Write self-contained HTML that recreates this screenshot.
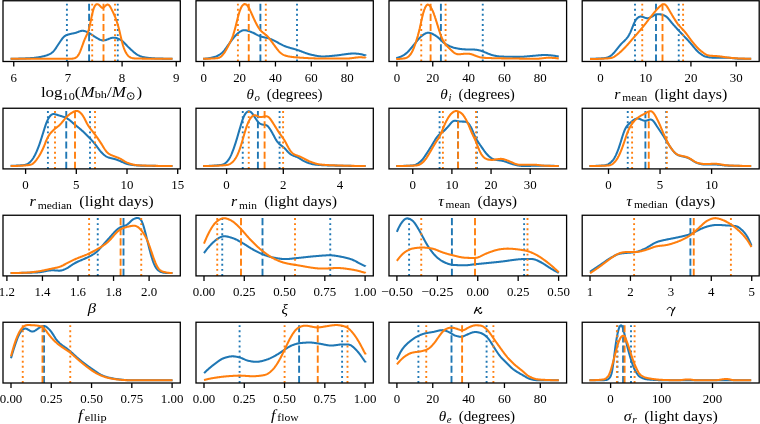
<!DOCTYPE html><html><head><meta charset="utf-8"><style>html,body{margin:0;padding:0;background:#fff;width:760px;height:424px;overflow:hidden}svg{display:block;will-change:transform}text{font-family:"Liberation Serif",serif;fill:#000}</style></head><body>
<svg width="760" height="424" viewBox="0 0 760 424">
<rect width="760" height="424" fill="#fff"/>
<defs><clipPath id="c0"><rect x="3.00" y="0.75" width="177.30" height="60.75"/></clipPath><clipPath id="c1"><rect x="196.00" y="0.75" width="177.30" height="60.75"/></clipPath><clipPath id="c2"><rect x="389.00" y="0.75" width="177.60" height="60.75"/></clipPath><clipPath id="c3"><rect x="582.20" y="0.75" width="177.00" height="60.75"/></clipPath><clipPath id="c4"><rect x="3.00" y="108.25" width="177.30" height="60.65"/></clipPath><clipPath id="c5"><rect x="196.00" y="108.25" width="177.30" height="60.65"/></clipPath><clipPath id="c6"><rect x="389.00" y="108.25" width="177.60" height="60.65"/></clipPath><clipPath id="c7"><rect x="582.20" y="108.25" width="177.00" height="60.65"/></clipPath><clipPath id="c8"><rect x="3.00" y="215.25" width="177.30" height="60.65"/></clipPath><clipPath id="c9"><rect x="196.00" y="215.25" width="177.30" height="60.65"/></clipPath><clipPath id="c10"><rect x="389.00" y="215.25" width="177.60" height="60.65"/></clipPath><clipPath id="c11"><rect x="582.20" y="215.25" width="177.00" height="60.65"/></clipPath><clipPath id="c12"><rect x="3.00" y="322.25" width="177.30" height="60.75"/></clipPath><clipPath id="c13"><rect x="196.00" y="322.25" width="177.30" height="60.75"/></clipPath><clipPath id="c14"><rect x="389.00" y="322.25" width="177.60" height="60.75"/></clipPath><clipPath id="c15"><rect x="582.20" y="322.25" width="177.00" height="60.75"/></clipPath></defs>
<g clip-path="url(#c0)">
<path d="M10.6,58.75 L11.1,58.75 L11.6,58.74 L12.1,58.74 L12.6,58.74 L13.1,58.73 L13.6,58.73 L14.1,58.72 L14.6,58.72 L15.1,58.71 L15.6,58.70 L16.1,58.69 L16.6,58.68 L17.1,58.67 L17.6,58.66 L18.1,58.65 L18.6,58.63 L19.1,58.62 L19.6,58.60 L20.1,58.59 L20.6,58.57 L21.1,58.56 L21.6,58.54 L22.1,58.52 L22.6,58.50 L23.1,58.48 L23.6,58.46 L24.1,58.44 L24.6,58.42 L25.1,58.40 L25.6,58.38 L26.1,58.36 L26.6,58.33 L27.1,58.31 L27.6,58.29 L28.1,58.26 L28.6,58.24 L29.1,58.21 L29.6,58.18 L30.1,58.16 L30.6,58.13 L31.1,58.10 L31.6,58.07 L32.1,58.03 L32.6,57.99 L33.1,57.95 L33.6,57.90 L34.1,57.86 L34.6,57.80 L35.1,57.75 L35.6,57.69 L36.1,57.62 L36.6,57.56 L37.1,57.48 L37.6,57.41 L38.1,57.33 L38.6,57.25 L39.1,57.17 L39.6,57.08 L40.1,56.99 L40.6,56.89 L41.1,56.80 L41.6,56.70 L42.1,56.59 L42.6,56.48 L43.1,56.37 L43.6,56.25 L44.1,56.13 L44.6,56.00 L45.1,55.86 L45.6,55.71 L46.1,55.56 L46.6,55.39 L47.1,55.21 L47.6,55.02 L48.1,54.81 L48.6,54.59 L49.1,54.36 L49.6,54.12 L50.1,53.85 L50.6,53.57 L51.1,53.26 L51.6,52.92 L52.1,52.55 L52.6,52.13 L53.1,51.66 L53.6,51.14 L54.1,50.56 L54.6,49.94 L55.1,49.26 L55.6,48.55 L56.1,47.81 L56.6,47.05 L57.1,46.29 L57.6,45.52 L58.1,44.76 L58.6,44.00 L59.1,43.24 L59.6,42.49 L60.1,41.74 L60.6,41.00 L61.1,40.26 L61.6,39.55 L62.1,38.87 L62.6,38.23 L63.1,37.64 L63.6,37.10 L64.1,36.62 L64.6,36.20 L65.1,35.85 L65.6,35.54 L66.1,35.28 L66.6,35.05 L67.1,34.86 L67.6,34.69 L68.1,34.53 L68.6,34.39 L69.1,34.26 L69.6,34.14 L70.1,34.02 L70.6,33.91 L71.1,33.81 L71.6,33.71 L72.1,33.61 L72.6,33.52 L73.1,33.42 L73.6,33.32 L74.1,33.22 L74.6,33.11 L75.1,32.98 L75.6,32.84 L76.1,32.68 L76.6,32.51 L77.1,32.32 L77.6,32.13 L78.1,31.94 L78.6,31.74 L79.1,31.55 L79.6,31.37 L80.1,31.21 L80.6,31.07 L81.1,30.95 L81.6,30.87 L82.1,30.82 L82.6,30.81 L83.1,30.83 L83.6,30.88 L84.1,30.97 L84.6,31.09 L85.1,31.23 L85.6,31.40 L86.1,31.59 L86.6,31.79 L87.1,32.00 L87.6,32.23 L88.1,32.48 L88.6,32.73 L89.1,33.00 L89.6,33.29 L90.1,33.59 L90.6,33.91 L91.1,34.24 L91.6,34.58 L92.1,34.93 L92.6,35.28 L93.1,35.62 L93.6,35.96 L94.1,36.29 L94.6,36.61 L95.1,36.93 L95.6,37.23 L96.1,37.54 L96.6,37.84 L97.1,38.13 L97.6,38.42 L98.1,38.71 L98.6,38.98 L99.1,39.24 L99.6,39.48 L100.1,39.70 L100.6,39.90 L101.1,40.07 L101.6,40.20 L102.1,40.30 L102.6,40.37 L103.1,40.40 L103.6,40.39 L104.1,40.35 L104.6,40.28 L105.1,40.18 L105.6,40.06 L106.1,39.91 L106.6,39.74 L107.1,39.56 L107.6,39.37 L108.1,39.18 L108.6,38.98 L109.1,38.78 L109.6,38.59 L110.1,38.41 L110.6,38.24 L111.1,38.08 L111.6,37.95 L112.1,37.84 L112.6,37.76 L113.1,37.70 L113.6,37.67 L114.1,37.68 L114.6,37.71 L115.1,37.77 L115.6,37.86 L116.1,37.98 L116.6,38.11 L117.1,38.27 L117.6,38.45 L118.1,38.64 L118.6,38.85 L119.1,39.07 L119.6,39.32 L120.1,39.58 L120.6,39.87 L121.1,40.19 L121.6,40.54 L122.1,40.92 L122.6,41.32 L123.1,41.76 L123.6,42.22 L124.1,42.70 L124.6,43.21 L125.1,43.72 L125.6,44.24 L126.1,44.77 L126.6,45.30 L127.1,45.83 L127.6,46.35 L128.1,46.86 L128.6,47.36 L129.1,47.85 L129.6,48.33 L130.1,48.80 L130.6,49.26 L131.1,49.71 L131.6,50.16 L132.1,50.61 L132.6,51.05 L133.1,51.49 L133.6,51.92 L134.1,52.35 L134.6,52.76 L135.1,53.16 L135.6,53.55 L136.1,53.91 L136.6,54.26 L137.1,54.58 L137.6,54.89 L138.1,55.17 L138.6,55.42 L139.1,55.66 L139.6,55.89 L140.1,56.09 L140.6,56.28 L141.1,56.46 L141.6,56.63 L142.1,56.79 L142.6,56.93 L143.1,57.06 L143.6,57.18 L144.1,57.29 L144.6,57.38 L145.1,57.47 L145.6,57.55 L146.1,57.62 L146.6,57.69 L147.1,57.75 L147.6,57.81 L148.1,57.86 L148.6,57.92 L149.1,57.97 L149.6,58.01 L150.1,58.06 L150.6,58.10 L151.1,58.14 L151.6,58.18 L152.1,58.22 L152.6,58.26 L153.1,58.29 L153.6,58.32 L154.1,58.35 L154.6,58.38 L155.1,58.40 L155.6,58.42 L156.1,58.44 L156.6,58.46 L157.1,58.48 L157.6,58.50 L158.1,58.51 L158.6,58.53 L159.1,58.54 L159.6,58.56 L160.1,58.57 L160.6,58.58 L161.1,58.59 L161.6,58.60 L162.1,58.62 L162.6,58.63 L163.1,58.64 L163.6,58.65 L164.1,58.66 L164.6,58.67 L165.1,58.68 L165.6,58.69 L166.1,58.69 L166.6,58.70 L167.1,58.71 L167.6,58.71 L168.1,58.72 L168.6,58.73 L169.1,58.73 L169.6,58.74 L170.1,58.74 L170.6,58.74 L171.1,58.74 L171.6,58.75 L172.1,58.75 L172.5,58.75" fill="none" stroke="#1f77b4" stroke-width="2.05" stroke-linejoin="round" stroke-linecap="butt"/>
<line x1="66.90" y1="61.50" x2="66.90" y2="0.75" stroke="#1f77b4" stroke-width="1.90" stroke-dasharray="1.92 3.16"/>
<line x1="89.10" y1="61.50" x2="89.10" y2="0.75" stroke="#1f77b4" stroke-width="1.90" stroke-dasharray="7.1 3.05"/>
<line x1="117.75" y1="61.50" x2="117.75" y2="0.75" stroke="#1f77b4" stroke-width="1.90" stroke-dasharray="1.92 3.16"/>
<path d="M10.6,58.75 L11.1,58.75 L11.6,58.75 L12.1,58.75 L12.6,58.75 L13.1,58.75 L13.6,58.75 L14.1,58.75 L14.6,58.75 L15.1,58.75 L15.6,58.75 L16.1,58.75 L16.6,58.75 L17.1,58.75 L17.6,58.75 L18.1,58.75 L18.6,58.75 L19.1,58.75 L19.6,58.75 L20.1,58.75 L20.6,58.75 L21.1,58.75 L21.6,58.75 L22.1,58.75 L22.6,58.75 L23.1,58.75 L23.6,58.75 L24.1,58.75 L24.6,58.75 L25.1,58.75 L25.6,58.75 L26.1,58.75 L26.6,58.75 L27.1,58.75 L27.6,58.75 L28.1,58.75 L28.6,58.75 L29.1,58.75 L29.6,58.75 L30.1,58.75 L30.6,58.75 L31.1,58.75 L31.6,58.75 L32.1,58.75 L32.6,58.75 L33.1,58.75 L33.6,58.75 L34.1,58.75 L34.6,58.75 L35.1,58.75 L35.6,58.75 L36.1,58.75 L36.6,58.75 L37.1,58.75 L37.6,58.75 L38.1,58.75 L38.6,58.75 L39.1,58.75 L39.6,58.75 L40.1,58.75 L40.6,58.75 L41.1,58.75 L41.6,58.75 L42.1,58.75 L42.6,58.75 L43.1,58.75 L43.6,58.75 L44.1,58.75 L44.6,58.75 L45.1,58.75 L45.6,58.75 L46.1,58.75 L46.6,58.75 L47.1,58.75 L47.6,58.75 L48.1,58.75 L48.6,58.75 L49.1,58.75 L49.6,58.75 L50.1,58.75 L50.6,58.75 L51.1,58.75 L51.6,58.75 L52.1,58.75 L52.6,58.75 L53.1,58.75 L53.6,58.75 L54.1,58.75 L54.6,58.75 L55.1,58.75 L55.6,58.75 L56.1,58.75 L56.6,58.75 L57.1,58.75 L57.6,58.75 L58.1,58.75 L58.6,58.75 L59.1,58.75 L59.6,58.75 L60.1,58.75 L60.6,58.75 L61.1,58.75 L61.6,58.75 L62.1,58.75 L62.6,58.75 L63.1,58.75 L63.6,58.75 L64.1,58.75 L64.6,58.75 L65.1,58.75 L65.6,58.75 L66.1,58.75 L66.6,58.75 L67.1,58.75 L67.6,58.75 L68.1,58.75 L68.6,58.75 L69.1,58.75 L69.6,58.75 L70.1,58.75 L70.6,58.74 L71.1,58.73 L71.6,58.71 L72.1,58.68 L72.6,58.63 L73.1,58.57 L73.6,58.47 L74.1,58.35 L74.6,58.20 L75.1,58.00 L75.6,57.76 L76.1,57.47 L76.6,57.10 L77.1,56.65 L77.6,56.10 L78.1,55.44 L78.6,54.65 L79.1,53.75 L79.6,52.72 L80.1,51.60 L80.6,50.39 L81.1,49.10 L81.6,47.76 L82.1,46.37 L82.6,44.97 L83.1,43.57 L83.6,42.20 L84.1,40.88 L84.6,39.64 L85.1,38.47 L85.6,37.37 L86.1,36.31 L86.6,35.26 L87.1,34.16 L87.6,32.96 L88.1,31.59 L88.6,30.03 L89.1,28.24 L89.6,26.24 L90.1,24.04 L90.6,21.70 L91.1,19.29 L91.6,16.89 L92.1,14.58 L92.6,12.44 L93.1,10.52 L93.6,8.87 L94.1,7.50 L94.6,6.40 L95.1,5.56 L95.6,4.94 L96.1,4.52 L96.6,4.27 L97.1,4.17 L97.6,4.20 L98.1,4.37 L98.6,4.65 L99.1,5.04 L99.6,5.51 L100.1,6.04 L100.6,6.58 L101.1,7.09 L101.6,7.50 L102.1,7.77 L102.6,7.87 L103.1,7.78 L103.6,7.52 L104.1,7.12 L104.6,6.64 L105.1,6.12 L105.6,5.62 L106.1,5.18 L106.6,4.84 L107.1,4.62 L107.6,4.55 L108.1,4.64 L108.6,4.90 L109.1,5.32 L109.6,5.90 L110.1,6.62 L110.6,7.46 L111.1,8.38 L111.6,9.36 L112.1,10.36 L112.6,11.39 L113.1,12.43 L113.6,13.49 L114.1,14.58 L114.6,15.72 L115.1,16.92 L115.6,18.19 L116.1,19.54 L116.6,20.97 L117.1,22.49 L117.6,24.11 L118.1,25.82 L118.6,27.65 L119.1,29.58 L119.6,31.61 L120.1,33.72 L120.6,35.87 L121.1,38.02 L121.6,40.12 L122.1,42.12 L122.6,43.98 L123.1,45.70 L123.6,47.25 L124.1,48.64 L124.6,49.89 L125.1,51.01 L125.6,52.01 L126.1,52.91 L126.6,53.72 L127.1,54.44 L127.6,55.09 L128.1,55.66 L128.6,56.16 L129.1,56.59 L129.6,56.95 L130.1,57.26 L130.6,57.51 L131.1,57.71 L131.6,57.88 L132.1,58.02 L132.6,58.13 L133.1,58.23 L133.6,58.31 L134.1,58.37 L134.6,58.42 L135.1,58.45 L135.6,58.48 L136.1,58.50 L136.6,58.52 L137.1,58.53 L137.6,58.54 L138.1,58.55 L138.6,58.56 L139.1,58.56 L139.6,58.57 L140.1,58.58 L140.6,58.58 L141.1,58.59 L141.6,58.60 L142.1,58.60 L142.6,58.61 L143.1,58.61 L143.6,58.62 L144.1,58.62 L144.6,58.63 L145.1,58.64 L145.6,58.64 L146.1,58.65 L146.6,58.65 L147.1,58.65 L147.6,58.66 L148.1,58.66 L148.6,58.67 L149.1,58.67 L149.6,58.68 L150.1,58.68 L150.6,58.68 L151.1,58.69 L151.6,58.69 L152.1,58.69 L152.6,58.70 L153.1,58.70 L153.6,58.70 L154.1,58.71 L154.6,58.71 L155.1,58.71 L155.6,58.71 L156.1,58.72 L156.6,58.72 L157.1,58.72 L157.6,58.72 L158.1,58.72 L158.6,58.73 L159.1,58.73 L159.6,58.73 L160.1,58.73 L160.6,58.73 L161.1,58.74 L161.6,58.74 L162.1,58.74 L162.6,58.74 L163.1,58.74 L163.6,58.74 L164.1,58.74 L164.6,58.74 L165.1,58.74 L165.6,58.74 L166.1,58.75 L166.6,58.75 L167.1,58.75 L167.6,58.75 L168.1,58.75 L168.6,58.75 L169.1,58.75 L169.6,58.75 L170.1,58.75 L170.6,58.75 L171.1,58.75 L171.6,58.75 L172.1,58.75 L172.5,58.75" fill="none" stroke="#ff7f0e" stroke-width="2.05" stroke-linejoin="round" stroke-linecap="butt"/>
<line x1="92.20" y1="61.50" x2="92.20" y2="0.75" stroke="#ff7f0e" stroke-width="1.90" stroke-dasharray="1.92 3.16"/>
<line x1="103.50" y1="61.50" x2="103.50" y2="0.75" stroke="#ff7f0e" stroke-width="1.90" stroke-dasharray="7.1 3.05"/>
<line x1="115.00" y1="61.50" x2="115.00" y2="0.75" stroke="#ff7f0e" stroke-width="1.90" stroke-dasharray="1.92 3.16"/>
</g>
<rect x="3.00" y="0.75" width="177.30" height="60.75" fill="none" stroke="#000" stroke-width="1.30"/>
<line x1="13.75" y1="61.50" x2="13.75" y2="66.50" stroke="#000" stroke-width="1.30"/>
<text x="13.75" y="81.60" font-size="12.9" text-anchor="middle">6</text>
<line x1="67.92" y1="61.50" x2="67.92" y2="66.50" stroke="#000" stroke-width="1.30"/>
<text x="67.92" y="81.60" font-size="12.9" text-anchor="middle">7</text>
<line x1="122.09" y1="61.50" x2="122.09" y2="66.50" stroke="#000" stroke-width="1.30"/>
<text x="122.09" y="81.60" font-size="12.9" text-anchor="middle">8</text>
<line x1="176.26" y1="61.50" x2="176.26" y2="66.50" stroke="#000" stroke-width="1.30"/>
<text x="176.26" y="81.60" font-size="12.9" text-anchor="middle">9</text>
<g transform="matrix(1.1988 0 0 1 -8.849 0)"><text x="41.50" y="96.60" font-size="14.2"><tspan>log</tspan><tspan font-size="10.2" dy="3.2">10</tspan><tspan dy="-3.2">(</tspan><tspan font-style="italic">M</tspan><tspan font-size="10.2" dy="1.6">bh</tspan><tspan dy="-1.6">/</tspan><tspan font-style="italic">M</tspan><tspan dx="9">)</tspan></text><ellipse cx="116.41" cy="96.10" rx="2.84" ry="3.40" fill="none" stroke="#000" stroke-width="0.8"/><ellipse cx="116.41" cy="96.10" rx="0.67" ry="0.8" fill="#000"/></g>
<g clip-path="url(#c1)">
<path d="M203.1,58.73 L203.6,58.72 L204.1,58.70 L204.6,58.68 L205.1,58.65 L205.6,58.61 L206.1,58.57 L206.6,58.52 L207.1,58.46 L207.6,58.40 L208.1,58.33 L208.6,58.25 L209.1,58.17 L209.6,58.09 L210.1,57.99 L210.6,57.90 L211.1,57.80 L211.6,57.69 L212.1,57.58 L212.6,57.47 L213.1,57.35 L213.6,57.22 L214.1,57.09 L214.6,56.95 L215.1,56.79 L215.6,56.63 L216.1,56.44 L216.6,56.23 L217.1,56.01 L217.6,55.77 L218.1,55.50 L218.6,55.22 L219.1,54.91 L219.6,54.59 L220.1,54.25 L220.6,53.89 L221.1,53.51 L221.6,53.11 L222.1,52.68 L222.6,52.22 L223.1,51.73 L223.6,51.21 L224.1,50.64 L224.6,50.04 L225.1,49.40 L225.6,48.74 L226.1,48.05 L226.6,47.35 L227.1,46.64 L227.6,45.92 L228.1,45.20 L228.6,44.49 L229.1,43.79 L229.6,43.09 L230.1,42.41 L230.6,41.73 L231.1,41.06 L231.6,40.40 L232.1,39.74 L232.6,39.08 L233.1,38.43 L233.6,37.80 L234.1,37.18 L234.6,36.58 L235.1,36.00 L235.6,35.45 L236.1,34.93 L236.6,34.44 L237.1,33.97 L237.6,33.53 L238.1,33.11 L238.6,32.71 L239.1,32.33 L239.6,31.97 L240.1,31.64 L240.6,31.33 L241.1,31.05 L241.6,30.81 L242.1,30.60 L242.6,30.44 L243.1,30.32 L243.6,30.24 L244.1,30.20 L244.6,30.20 L245.1,30.23 L245.6,30.29 L246.1,30.37 L246.6,30.48 L247.1,30.60 L247.6,30.74 L248.1,30.90 L248.6,31.06 L249.1,31.23 L249.6,31.41 L250.1,31.59 L250.6,31.78 L251.1,31.98 L251.6,32.17 L252.1,32.38 L252.6,32.59 L253.1,32.81 L253.6,33.04 L254.1,33.28 L254.6,33.53 L255.1,33.78 L255.6,34.05 L256.1,34.32 L256.6,34.58 L257.1,34.85 L257.6,35.10 L258.1,35.35 L258.6,35.58 L259.1,35.80 L259.6,36.01 L260.1,36.20 L260.6,36.37 L261.1,36.54 L261.6,36.68 L262.1,36.82 L262.6,36.96 L263.1,37.08 L263.6,37.20 L264.1,37.31 L264.6,37.43 L265.1,37.54 L265.6,37.65 L266.1,37.76 L266.6,37.87 L267.1,37.99 L267.6,38.11 L268.1,38.24 L268.6,38.38 L269.1,38.53 L269.6,38.68 L270.1,38.85 L270.6,39.02 L271.1,39.21 L271.6,39.41 L272.1,39.62 L272.6,39.84 L273.1,40.07 L273.6,40.32 L274.1,40.57 L274.6,40.82 L275.1,41.09 L275.6,41.36 L276.1,41.63 L276.6,41.91 L277.1,42.19 L277.6,42.47 L278.1,42.76 L278.6,43.04 L279.1,43.32 L279.6,43.60 L280.1,43.87 L280.6,44.14 L281.1,44.41 L281.6,44.67 L282.1,44.92 L282.6,45.16 L283.1,45.40 L283.6,45.62 L284.1,45.84 L284.6,46.04 L285.1,46.24 L285.6,46.43 L286.1,46.61 L286.6,46.78 L287.1,46.95 L287.6,47.11 L288.1,47.27 L288.6,47.43 L289.1,47.58 L289.6,47.72 L290.1,47.87 L290.6,48.01 L291.1,48.15 L291.6,48.29 L292.1,48.43 L292.6,48.57 L293.1,48.71 L293.6,48.85 L294.1,48.99 L294.6,49.14 L295.1,49.28 L295.6,49.43 L296.1,49.58 L296.6,49.74 L297.1,49.90 L297.6,50.06 L298.1,50.23 L298.6,50.40 L299.1,50.57 L299.6,50.76 L300.1,50.94 L300.6,51.13 L301.1,51.32 L301.6,51.51 L302.1,51.70 L302.6,51.90 L303.1,52.09 L303.6,52.28 L304.1,52.47 L304.6,52.66 L305.1,52.85 L305.6,53.03 L306.1,53.21 L306.6,53.38 L307.1,53.54 L307.6,53.70 L308.1,53.86 L308.6,54.00 L309.1,54.14 L309.6,54.27 L310.1,54.40 L310.6,54.53 L311.1,54.65 L311.6,54.77 L312.1,54.88 L312.6,55.00 L313.1,55.12 L313.6,55.23 L314.1,55.34 L314.6,55.45 L315.1,55.55 L315.6,55.66 L316.1,55.75 L316.6,55.85 L317.1,55.94 L317.6,56.02 L318.1,56.10 L318.6,56.17 L319.1,56.23 L319.6,56.29 L320.1,56.34 L320.6,56.38 L321.1,56.41 L321.6,56.44 L322.1,56.45 L322.6,56.46 L323.1,56.47 L323.6,56.46 L324.1,56.45 L324.6,56.44 L325.1,56.42 L325.6,56.39 L326.1,56.37 L326.6,56.34 L327.1,56.30 L327.6,56.27 L328.1,56.23 L328.6,56.19 L329.1,56.15 L329.6,56.10 L330.1,56.06 L330.6,56.01 L331.1,55.97 L331.6,55.92 L332.1,55.87 L332.6,55.82 L333.1,55.78 L333.6,55.73 L334.1,55.68 L334.6,55.63 L335.1,55.58 L335.6,55.53 L336.1,55.48 L336.6,55.43 L337.1,55.37 L337.6,55.31 L338.1,55.25 L338.6,55.18 L339.1,55.12 L339.6,55.05 L340.1,54.98 L340.6,54.91 L341.1,54.83 L341.6,54.76 L342.1,54.69 L342.6,54.61 L343.1,54.54 L343.6,54.47 L344.1,54.39 L344.6,54.32 L345.1,54.25 L345.6,54.18 L346.1,54.11 L346.6,54.05 L347.1,53.99 L347.6,53.93 L348.1,53.87 L348.6,53.82 L349.1,53.77 L349.6,53.72 L350.1,53.68 L350.6,53.64 L351.1,53.61 L351.6,53.59 L352.1,53.56 L352.6,53.55 L353.1,53.54 L353.6,53.54 L354.1,53.54 L354.6,53.55 L355.1,53.57 L355.6,53.59 L356.1,53.62 L356.6,53.66 L357.1,53.70 L357.6,53.74 L358.1,53.80 L358.6,53.85 L359.1,53.92 L359.6,53.99 L360.1,54.07 L360.6,54.15 L361.1,54.25 L361.6,54.36 L362.1,54.48 L362.6,54.61 L363.1,54.75 L363.6,54.89 L364.1,55.03 L364.6,55.16 L365.1,55.27 L365.6,55.37 L365.6,55.45" fill="none" stroke="#1f77b4" stroke-width="2.05" stroke-linejoin="round" stroke-linecap="butt"/>
<line x1="260.40" y1="61.50" x2="260.40" y2="0.75" stroke="#1f77b4" stroke-width="1.90" stroke-dasharray="7.1 3.05"/>
<line x1="297.00" y1="61.50" x2="297.00" y2="0.75" stroke="#1f77b4" stroke-width="1.90" stroke-dasharray="1.92 3.16"/>
<path d="M203.1,58.75 L203.6,58.75 L204.1,58.74 L204.6,58.74 L205.1,58.74 L205.6,58.73 L206.1,58.73 L206.6,58.72 L207.1,58.71 L207.6,58.70 L208.1,58.69 L208.6,58.68 L209.1,58.66 L209.6,58.65 L210.1,58.63 L210.6,58.61 L211.1,58.59 L211.6,58.57 L212.1,58.55 L212.6,58.53 L213.1,58.50 L213.6,58.47 L214.1,58.44 L214.6,58.41 L215.1,58.38 L215.6,58.34 L216.1,58.30 L216.6,58.26 L217.1,58.20 L217.6,58.12 L218.1,58.02 L218.6,57.88 L219.1,57.71 L219.6,57.48 L220.1,57.19 L220.6,56.85 L221.1,56.45 L221.6,56.00 L222.1,55.50 L222.6,54.95 L223.1,54.36 L223.6,53.73 L224.1,53.05 L224.6,52.33 L225.1,51.57 L225.6,50.76 L226.1,49.92 L226.6,49.04 L227.1,48.13 L227.6,47.20 L228.1,46.26 L228.6,45.31 L229.1,44.35 L229.6,43.38 L230.1,42.39 L230.6,41.37 L231.1,40.30 L231.6,39.17 L232.1,37.96 L232.6,36.65 L233.1,35.23 L233.6,33.69 L234.1,32.03 L234.6,30.26 L235.1,28.40 L235.6,26.46 L236.1,24.48 L236.6,22.48 L237.1,20.48 L237.6,18.52 L238.1,16.61 L238.6,14.78 L239.1,13.07 L239.6,11.49 L240.1,10.06 L240.6,8.80 L241.1,7.71 L241.6,6.77 L242.1,5.99 L242.6,5.35 L243.1,4.85 L243.6,4.48 L244.1,4.24 L244.6,4.12 L245.1,4.13 L245.6,4.25 L246.1,4.49 L246.6,4.85 L247.1,5.32 L247.6,5.91 L248.1,6.62 L248.6,7.43 L249.1,8.33 L249.6,9.30 L250.1,10.33 L250.6,11.39 L251.1,12.49 L251.6,13.60 L252.1,14.73 L252.6,15.86 L253.1,16.98 L253.6,18.10 L254.1,19.19 L254.6,20.26 L255.1,21.31 L255.6,22.33 L256.1,23.32 L256.6,24.28 L257.1,25.21 L257.6,26.10 L258.1,26.94 L258.6,27.74 L259.1,28.48 L259.6,29.18 L260.1,29.81 L260.6,30.39 L261.1,30.93 L261.6,31.42 L262.1,31.88 L262.6,32.31 L263.1,32.71 L263.6,33.11 L264.1,33.50 L264.6,33.88 L265.1,34.28 L265.6,34.68 L266.1,35.11 L266.6,35.56 L267.1,36.03 L267.6,36.54 L268.1,37.07 L268.6,37.64 L269.1,38.23 L269.6,38.86 L270.1,39.50 L270.6,40.17 L271.1,40.84 L271.6,41.53 L272.1,42.23 L272.6,42.93 L273.1,43.62 L273.6,44.32 L274.1,45.01 L274.6,45.70 L275.1,46.38 L275.6,47.05 L276.1,47.73 L276.6,48.39 L277.1,49.04 L277.6,49.67 L278.1,50.28 L278.6,50.86 L279.1,51.41 L279.6,51.92 L280.1,52.40 L280.6,52.85 L281.1,53.26 L281.6,53.64 L282.1,53.99 L282.6,54.32 L283.1,54.61 L283.6,54.88 L284.1,55.12 L284.6,55.33 L285.1,55.51 L285.6,55.68 L286.1,55.82 L286.6,55.96 L287.1,56.08 L287.6,56.19 L288.1,56.30 L288.6,56.39 L289.1,56.49 L289.6,56.58 L290.1,56.66 L290.6,56.74 L291.1,56.82 L291.6,56.89 L292.1,56.96 L292.6,57.02 L293.1,57.09 L293.6,57.14 L294.1,57.20 L294.6,57.25 L295.1,57.30 L295.6,57.34 L296.1,57.38 L296.6,57.42 L297.1,57.46 L297.6,57.50 L298.1,57.54 L298.6,57.57 L299.1,57.60 L299.6,57.64 L300.1,57.67 L300.6,57.70 L301.1,57.73 L301.6,57.76 L302.1,57.79 L302.6,57.82 L303.1,57.85 L303.6,57.88 L304.1,57.91 L304.6,57.94 L305.1,57.97 L305.6,57.99 L306.1,58.02 L306.6,58.05 L307.1,58.07 L307.6,58.10 L308.1,58.12 L308.6,58.15 L309.1,58.17 L309.6,58.19 L310.1,58.21 L310.6,58.23 L311.1,58.25 L311.6,58.27 L312.1,58.29 L312.6,58.31 L313.1,58.33 L313.6,58.34 L314.1,58.36 L314.6,58.38 L315.1,58.39 L315.6,58.40 L316.1,58.42 L316.6,58.43 L317.1,58.44 L317.6,58.45 L318.1,58.46 L318.6,58.46 L319.1,58.47 L319.6,58.48 L320.1,58.48 L320.6,58.49 L321.1,58.49 L321.6,58.49 L322.1,58.50 L322.6,58.50 L323.1,58.50 L323.6,58.50 L324.1,58.50 L324.6,58.50 L325.1,58.50 L325.6,58.50 L326.1,58.50 L326.6,58.50 L327.1,58.50 L327.6,58.50 L328.1,58.50 L328.6,58.50 L329.1,58.50 L329.6,58.50 L330.1,58.50 L330.6,58.50 L331.1,58.50 L331.6,58.50 L332.1,58.50 L332.6,58.50 L333.1,58.50 L333.6,58.50 L334.1,58.50 L334.6,58.50 L335.1,58.50 L335.6,58.50 L336.1,58.50 L336.6,58.50 L337.1,58.50 L337.6,58.50 L338.1,58.50 L338.6,58.50 L339.1,58.50 L339.6,58.50 L340.1,58.50 L340.6,58.50 L341.1,58.50 L341.6,58.50 L342.1,58.50 L342.6,58.50 L343.1,58.50 L343.6,58.50 L344.1,58.50 L344.6,58.50 L345.1,58.50 L345.6,58.50 L346.1,58.49 L346.6,58.49 L347.1,58.48 L347.6,58.47 L348.1,58.45 L348.6,58.43 L349.1,58.40 L349.6,58.37 L350.1,58.33 L350.6,58.28 L351.1,58.22 L351.6,58.16 L352.1,58.10 L352.6,58.03 L353.1,57.97 L353.6,57.90 L354.1,57.83 L354.6,57.76 L355.1,57.69 L355.6,57.62 L356.1,57.56 L356.6,57.51 L357.1,57.45 L357.6,57.41 L358.1,57.37 L358.6,57.34 L359.1,57.32 L359.6,57.30 L360.1,57.30 L360.6,57.31 L361.1,57.32 L361.6,57.34 L362.1,57.37 L362.6,57.41 L363.1,57.45 L363.6,57.50 L364.1,57.54 L364.6,57.59 L365.1,57.63 L365.6,57.67 L365.6,57.69" fill="none" stroke="#ff7f0e" stroke-width="2.05" stroke-linejoin="round" stroke-linecap="butt"/>
<line x1="237.90" y1="61.50" x2="237.90" y2="0.75" stroke="#ff7f0e" stroke-width="1.90" stroke-dasharray="1.92 3.16"/>
<line x1="248.75" y1="61.50" x2="248.75" y2="0.75" stroke="#ff7f0e" stroke-width="1.90" stroke-dasharray="7.1 3.05"/>
<line x1="265.80" y1="61.50" x2="265.80" y2="0.75" stroke="#ff7f0e" stroke-width="1.90" stroke-dasharray="1.92 3.16"/>
</g>
<rect x="196.00" y="0.75" width="177.30" height="60.75" fill="none" stroke="#000" stroke-width="1.30"/>
<line x1="203.75" y1="61.50" x2="203.75" y2="66.50" stroke="#000" stroke-width="1.30"/>
<text x="203.75" y="81.60" font-size="12.9" text-anchor="middle">0</text>
<line x1="239.60" y1="61.50" x2="239.60" y2="66.50" stroke="#000" stroke-width="1.30"/>
<text x="239.60" y="81.60" font-size="12.9" text-anchor="middle">20</text>
<line x1="275.45" y1="61.50" x2="275.45" y2="66.50" stroke="#000" stroke-width="1.30"/>
<text x="275.45" y="81.60" font-size="12.9" text-anchor="middle">40</text>
<line x1="311.30" y1="61.50" x2="311.30" y2="66.50" stroke="#000" stroke-width="1.30"/>
<text x="311.30" y="81.60" font-size="12.9" text-anchor="middle">60</text>
<line x1="347.15" y1="61.50" x2="347.15" y2="66.50" stroke="#000" stroke-width="1.30"/>
<text x="347.15" y="81.60" font-size="12.9" text-anchor="middle">80</text>
<g transform="matrix(1.0592 0 0 1 -14.911 0)"><text x="246.70" y="98.70" font-size="14.2"><tspan font-style="italic">θ</tspan><tspan font-size="10.2" dy="2.2" dx="0.6" font-style="italic">o</tspan><tspan dy="-2.2" dx="6.5">(degrees)</tspan></text></g>
<g clip-path="url(#c2)">
<path d="M396.2,58.05 L396.8,57.96 L397.2,57.86 L397.8,57.74 L398.2,57.61 L398.8,57.45 L399.2,57.29 L399.8,57.10 L400.2,56.90 L400.8,56.68 L401.2,56.44 L401.8,56.20 L402.2,55.94 L402.8,55.67 L403.2,55.39 L403.8,55.09 L404.2,54.78 L404.8,54.45 L405.2,54.10 L405.8,53.72 L406.2,53.32 L406.8,52.89 L407.2,52.43 L407.8,51.94 L408.2,51.42 L408.8,50.88 L409.2,50.33 L409.8,49.76 L410.2,49.17 L410.8,48.58 L411.2,47.98 L411.8,47.38 L412.2,46.78 L412.8,46.18 L413.2,45.58 L413.8,44.98 L414.2,44.37 L414.8,43.76 L415.2,43.14 L415.8,42.52 L416.2,41.89 L416.8,41.26 L417.2,40.64 L417.8,40.03 L418.2,39.43 L418.8,38.86 L419.2,38.31 L419.8,37.78 L420.2,37.28 L420.8,36.81 L421.2,36.37 L421.8,35.95 L422.2,35.55 L422.8,35.17 L423.2,34.81 L423.8,34.46 L424.2,34.14 L424.8,33.84 L425.2,33.56 L425.8,33.33 L426.2,33.12 L426.8,32.96 L427.2,32.84 L427.8,32.77 L428.2,32.74 L428.8,32.75 L429.2,32.80 L429.8,32.89 L430.2,33.02 L430.8,33.17 L431.2,33.36 L431.8,33.56 L432.2,33.79 L432.8,34.03 L433.2,34.29 L433.8,34.57 L434.2,34.85 L434.8,35.14 L435.2,35.45 L435.8,35.77 L436.2,36.10 L436.8,36.45 L437.2,36.83 L437.8,37.22 L438.2,37.64 L438.8,38.09 L439.2,38.55 L439.8,39.02 L440.2,39.51 L440.8,39.99 L441.2,40.48 L441.8,40.96 L442.2,41.43 L442.8,41.88 L443.2,42.31 L443.8,42.72 L444.2,43.10 L444.8,43.46 L445.2,43.79 L445.8,44.11 L446.2,44.40 L446.8,44.69 L447.2,44.96 L447.8,45.22 L448.2,45.47 L448.8,45.72 L449.2,45.95 L449.8,46.18 L450.2,46.40 L450.8,46.60 L451.2,46.80 L451.8,46.99 L452.2,47.17 L452.8,47.34 L453.2,47.49 L453.8,47.64 L454.2,47.77 L454.8,47.90 L455.2,48.02 L455.8,48.13 L456.2,48.24 L456.8,48.34 L457.2,48.43 L457.8,48.53 L458.2,48.62 L458.8,48.70 L459.2,48.78 L459.8,48.86 L460.2,48.93 L460.8,49.00 L461.2,49.07 L461.8,49.12 L462.2,49.18 L462.8,49.23 L463.2,49.27 L463.8,49.31 L464.2,49.34 L464.8,49.37 L465.2,49.39 L465.8,49.41 L466.2,49.43 L466.8,49.44 L467.2,49.45 L467.8,49.46 L468.2,49.47 L468.8,49.48 L469.2,49.49 L469.8,49.49 L470.2,49.50 L470.8,49.51 L471.2,49.52 L471.8,49.52 L472.2,49.53 L472.8,49.55 L473.2,49.56 L473.8,49.58 L474.2,49.60 L474.8,49.63 L475.2,49.67 L475.8,49.72 L476.2,49.77 L476.8,49.84 L477.2,49.93 L477.8,50.02 L478.2,50.12 L478.8,50.23 L479.2,50.35 L479.8,50.48 L480.2,50.62 L480.8,50.76 L481.2,50.90 L481.8,51.06 L482.2,51.22 L482.8,51.39 L483.2,51.57 L483.8,51.76 L484.2,51.95 L484.8,52.16 L485.2,52.38 L485.8,52.60 L486.2,52.83 L486.8,53.05 L487.2,53.28 L487.8,53.49 L488.2,53.70 L488.8,53.90 L489.2,54.08 L489.8,54.26 L490.2,54.43 L490.8,54.59 L491.2,54.74 L491.8,54.88 L492.2,55.02 L492.8,55.16 L493.2,55.29 L493.8,55.42 L494.2,55.55 L494.8,55.66 L495.2,55.78 L495.8,55.88 L496.2,55.98 L496.8,56.08 L497.2,56.16 L497.8,56.23 L498.2,56.30 L498.8,56.36 L499.2,56.41 L499.8,56.45 L500.2,56.49 L500.8,56.52 L501.2,56.54 L501.8,56.56 L502.2,56.58 L502.8,56.60 L503.2,56.62 L503.8,56.64 L504.2,56.66 L504.8,56.67 L505.2,56.69 L505.8,56.70 L506.2,56.72 L506.8,56.73 L507.2,56.75 L507.8,56.76 L508.2,56.77 L508.8,56.78 L509.2,56.79 L509.8,56.80 L510.2,56.81 L510.8,56.82 L511.2,56.83 L511.8,56.84 L512.2,56.85 L512.8,56.86 L513.2,56.86 L513.8,56.87 L514.2,56.87 L514.8,56.88 L515.2,56.88 L515.8,56.89 L516.2,56.89 L516.8,56.89 L517.2,56.89 L517.8,56.89 L518.2,56.89 L518.8,56.89 L519.2,56.88 L519.8,56.87 L520.2,56.85 L520.8,56.84 L521.2,56.82 L521.8,56.79 L522.2,56.76 L522.8,56.73 L523.2,56.70 L523.8,56.66 L524.2,56.62 L524.8,56.58 L525.2,56.53 L525.8,56.49 L526.2,56.44 L526.8,56.40 L527.2,56.35 L527.8,56.31 L528.2,56.26 L528.8,56.21 L529.2,56.17 L529.8,56.13 L530.2,56.08 L530.8,56.04 L531.2,56.00 L531.8,55.96 L532.2,55.92 L532.8,55.87 L533.2,55.83 L533.8,55.79 L534.2,55.74 L534.8,55.69 L535.2,55.65 L535.8,55.60 L536.2,55.55 L536.8,55.51 L537.2,55.46 L537.8,55.42 L538.2,55.37 L538.8,55.33 L539.2,55.29 L539.8,55.25 L540.2,55.21 L540.8,55.18 L541.2,55.14 L541.8,55.12 L542.2,55.09 L542.8,55.07 L543.2,55.05 L543.8,55.04 L544.2,55.03 L544.8,55.02 L545.2,55.02 L545.8,55.03 L546.2,55.04 L546.8,55.05 L547.2,55.07 L547.8,55.09 L548.2,55.12 L548.8,55.15 L549.2,55.18 L549.8,55.22 L550.2,55.26 L550.8,55.31 L551.2,55.36 L551.8,55.41 L552.2,55.47 L552.8,55.53 L553.2,55.59 L553.8,55.66 L554.2,55.73 L554.8,55.81 L555.2,55.88 L555.8,55.97 L556.2,56.05 L556.8,56.14 L557.2,56.23 L557.8,56.32 L558.2,56.41 L558.8,56.51" fill="none" stroke="#1f77b4" stroke-width="2.05" stroke-linejoin="round" stroke-linecap="butt"/>
<line x1="440.90" y1="61.50" x2="440.90" y2="0.75" stroke="#1f77b4" stroke-width="1.90" stroke-dasharray="7.1 3.05"/>
<line x1="482.75" y1="61.50" x2="482.75" y2="0.75" stroke="#1f77b4" stroke-width="1.90" stroke-dasharray="1.92 3.16"/>
<path d="M396.2,58.99 L396.8,58.98 L397.2,58.97 L397.8,58.96 L398.2,58.94 L398.8,58.92 L399.2,58.90 L399.8,58.87 L400.2,58.83 L400.8,58.79 L401.2,58.75 L401.8,58.70 L402.2,58.65 L402.8,58.59 L403.2,58.53 L403.8,58.46 L404.2,58.38 L404.8,58.29 L405.2,58.18 L405.8,58.05 L406.2,57.88 L406.8,57.67 L407.2,57.42 L407.8,57.11 L408.2,56.75 L408.8,56.33 L409.2,55.85 L409.8,55.31 L410.2,54.70 L410.8,54.03 L411.2,53.27 L411.8,52.43 L412.2,51.49 L412.8,50.46 L413.2,49.33 L413.8,48.12 L414.2,46.83 L414.8,45.46 L415.2,44.04 L415.8,42.56 L416.2,41.03 L416.8,39.45 L417.2,37.80 L417.8,36.08 L418.2,34.28 L418.8,32.38 L419.2,30.38 L419.8,28.28 L420.2,26.08 L420.8,23.82 L421.2,21.54 L421.8,19.28 L422.2,17.10 L422.8,15.05 L423.2,13.15 L423.8,11.43 L424.2,9.90 L424.8,8.55 L425.2,7.39 L425.8,6.43 L426.2,5.67 L426.8,5.11 L427.2,4.76 L427.8,4.62 L428.2,4.67 L428.8,4.90 L429.2,5.28 L429.8,5.81 L430.2,6.45 L430.8,7.19 L431.2,8.02 L431.8,8.94 L432.2,9.95 L432.8,11.04 L433.2,12.23 L433.8,13.50 L434.2,14.87 L434.8,16.31 L435.2,17.82 L435.8,19.38 L436.2,20.97 L436.8,22.57 L437.2,24.19 L437.8,25.82 L438.2,27.44 L438.8,29.05 L439.2,30.64 L439.8,32.20 L440.2,33.70 L440.8,35.13 L441.2,36.48 L441.8,37.73 L442.2,38.87 L442.8,39.91 L443.2,40.86 L443.8,41.72 L444.2,42.51 L444.8,43.24 L445.2,43.92 L445.8,44.56 L446.2,45.16 L446.8,45.73 L447.2,46.28 L447.8,46.81 L448.2,47.31 L448.8,47.81 L449.2,48.29 L449.8,48.77 L450.2,49.25 L450.8,49.72 L451.2,50.19 L451.8,50.65 L452.2,51.11 L452.8,51.56 L453.2,51.99 L453.8,52.39 L454.2,52.77 L454.8,53.11 L455.2,53.41 L455.8,53.66 L456.2,53.87 L456.8,54.03 L457.2,54.14 L457.8,54.21 L458.2,54.25 L458.8,54.26 L459.2,54.25 L459.8,54.22 L460.2,54.17 L460.8,54.13 L461.2,54.07 L461.8,54.02 L462.2,53.97 L462.8,53.92 L463.2,53.88 L463.8,53.84 L464.2,53.82 L464.8,53.79 L465.2,53.78 L465.8,53.77 L466.2,53.76 L466.8,53.76 L467.2,53.76 L467.8,53.76 L468.2,53.77 L468.8,53.79 L469.2,53.82 L469.8,53.87 L470.2,53.93 L470.8,54.03 L471.2,54.15 L471.8,54.29 L472.2,54.46 L472.8,54.65 L473.2,54.84 L473.8,55.05 L474.2,55.25 L474.8,55.45 L475.2,55.65 L475.8,55.84 L476.2,56.03 L476.8,56.21 L477.2,56.38 L477.8,56.56 L478.2,56.72 L478.8,56.88 L479.2,57.03 L479.8,57.17 L480.2,57.30 L480.8,57.41 L481.2,57.51 L481.8,57.59 L482.2,57.66 L482.8,57.71 L483.2,57.76 L483.8,57.80 L484.2,57.83 L484.8,57.86 L485.2,57.88 L485.8,57.91 L486.2,57.93 L486.8,57.95 L487.2,57.97 L487.8,57.99 L488.2,58.01 L488.8,58.03 L489.2,58.05 L489.8,58.07 L490.2,58.09 L490.8,58.10 L491.2,58.12 L491.8,58.13 L492.2,58.15 L492.8,58.16 L493.2,58.18 L493.8,58.19 L494.2,58.20 L494.8,58.22 L495.2,58.23 L495.8,58.24 L496.2,58.25 L496.8,58.26 L497.2,58.27 L497.8,58.28 L498.2,58.29 L498.8,58.30 L499.2,58.31 L499.8,58.32 L500.2,58.33 L500.8,58.34 L501.2,58.35 L501.8,58.35 L502.2,58.36 L502.8,58.37 L503.2,58.38 L503.8,58.38 L504.2,58.39 L504.8,58.40 L505.2,58.40 L505.8,58.41 L506.2,58.42 L506.8,58.42 L507.2,58.43 L507.8,58.44 L508.2,58.44 L508.8,58.45 L509.2,58.46 L509.8,58.46 L510.2,58.47 L510.8,58.48 L511.2,58.48 L511.8,58.49 L512.2,58.50 L512.8,58.50 L513.2,58.51 L513.8,58.52 L514.2,58.52 L514.8,58.53 L515.2,58.54 L515.8,58.55 L516.2,58.55 L516.8,58.56 L517.2,58.57 L517.8,58.57 L518.2,58.58 L518.8,58.59 L519.2,58.60 L519.8,58.60 L520.2,58.61 L520.8,58.62 L521.2,58.62 L521.8,58.63 L522.2,58.64 L522.8,58.64 L523.2,58.65 L523.8,58.65 L524.2,58.66 L524.8,58.67 L525.2,58.67 L525.8,58.68 L526.2,58.68 L526.8,58.69 L527.2,58.69 L527.8,58.70 L528.2,58.70 L528.8,58.71 L529.2,58.71 L529.8,58.72 L530.2,58.72 L530.8,58.72 L531.2,58.73 L531.8,58.73 L532.2,58.73 L532.8,58.74 L533.2,58.74 L533.8,58.74 L534.2,58.74 L534.8,58.74 L535.2,58.74 L535.8,58.74 L536.2,58.74 L536.8,58.73 L537.2,58.72 L537.8,58.71 L538.2,58.69 L538.8,58.66 L539.2,58.62 L539.8,58.58 L540.2,58.53 L540.8,58.48 L541.2,58.41 L541.8,58.35 L542.2,58.28 L542.8,58.22 L543.2,58.15 L543.8,58.09 L544.2,58.02 L544.8,57.97 L545.2,57.92 L545.8,57.88 L546.2,57.84 L546.8,57.81 L547.2,57.79 L547.8,57.78 L548.2,57.78 L548.8,57.78 L549.2,57.78 L549.8,57.79 L550.2,57.80 L550.8,57.81 L551.2,57.83 L551.8,57.85 L552.2,57.88 L552.8,57.90 L553.2,57.93 L553.8,57.97 L554.2,58.00 L554.8,58.05 L555.2,58.09 L555.8,58.14 L556.2,58.19 L556.8,58.25 L557.2,58.31 L557.8,58.37 L558.2,58.44 L558.8,58.51" fill="none" stroke="#ff7f0e" stroke-width="2.05" stroke-linejoin="round" stroke-linecap="butt"/>
<line x1="421.25" y1="61.50" x2="421.25" y2="0.75" stroke="#ff7f0e" stroke-width="1.90" stroke-dasharray="1.92 3.16"/>
<line x1="430.60" y1="61.50" x2="430.60" y2="0.75" stroke="#ff7f0e" stroke-width="1.90" stroke-dasharray="7.1 3.05"/>
<line x1="445.60" y1="61.50" x2="445.60" y2="0.75" stroke="#ff7f0e" stroke-width="1.90" stroke-dasharray="1.92 3.16"/>
</g>
<rect x="389.00" y="0.75" width="177.60" height="60.75" fill="none" stroke="#000" stroke-width="1.30"/>
<line x1="396.90" y1="61.50" x2="396.90" y2="66.50" stroke="#000" stroke-width="1.30"/>
<text x="396.90" y="81.60" font-size="12.9" text-anchor="middle">0</text>
<line x1="432.75" y1="61.50" x2="432.75" y2="66.50" stroke="#000" stroke-width="1.30"/>
<text x="432.75" y="81.60" font-size="12.9" text-anchor="middle">20</text>
<line x1="468.60" y1="61.50" x2="468.60" y2="66.50" stroke="#000" stroke-width="1.30"/>
<text x="468.60" y="81.60" font-size="12.9" text-anchor="middle">40</text>
<line x1="504.45" y1="61.50" x2="504.45" y2="66.50" stroke="#000" stroke-width="1.30"/>
<text x="504.45" y="81.60" font-size="12.9" text-anchor="middle">60</text>
<line x1="540.30" y1="61.50" x2="540.30" y2="66.50" stroke="#000" stroke-width="1.30"/>
<text x="540.30" y="81.60" font-size="12.9" text-anchor="middle">80</text>
<g transform="matrix(1.0681 0 0 1 -30.339 0)"><text x="440.70" y="98.80" font-size="14.2"><tspan font-style="italic">θ</tspan><tspan font-size="10.2" dy="2.2" dx="0.6" font-style="italic">i</tspan><tspan dy="-2.2" dx="6.5">(degrees)</tspan></text></g>
<g clip-path="url(#c3)">
<path d="M590.0,58.75 L590.5,58.74 L591.0,58.74 L591.5,58.74 L592.0,58.73 L592.5,58.73 L593.0,58.72 L593.5,58.71 L594.0,58.70 L594.5,58.69 L595.0,58.67 L595.5,58.66 L596.0,58.64 L596.5,58.62 L597.0,58.60 L597.5,58.58 L598.0,58.56 L598.5,58.54 L599.0,58.51 L599.5,58.48 L600.0,58.46 L600.5,58.43 L601.0,58.40 L601.5,58.36 L602.0,58.33 L602.5,58.29 L603.0,58.25 L603.5,58.20 L604.0,58.15 L604.5,58.09 L605.0,58.02 L605.5,57.93 L606.0,57.83 L606.5,57.70 L607.0,57.55 L607.5,57.38 L608.0,57.19 L608.5,56.98 L609.0,56.75 L609.5,56.49 L610.0,56.21 L610.5,55.90 L611.0,55.57 L611.5,55.19 L612.0,54.78 L612.5,54.32 L613.0,53.83 L613.5,53.29 L614.0,52.73 L614.5,52.15 L615.0,51.54 L615.5,50.93 L616.0,50.31 L616.5,49.68 L617.0,49.05 L617.5,48.42 L618.0,47.79 L618.5,47.16 L619.0,46.53 L619.5,45.92 L620.0,45.32 L620.5,44.73 L621.0,44.17 L621.5,43.63 L622.0,43.11 L622.5,42.61 L623.0,42.12 L623.5,41.64 L624.0,41.16 L624.5,40.68 L625.0,40.18 L625.5,39.66 L626.0,39.13 L626.5,38.56 L627.0,37.95 L627.5,37.31 L628.0,36.61 L628.5,35.85 L629.0,35.02 L629.5,34.11 L630.0,33.11 L630.5,32.03 L631.0,30.87 L631.5,29.65 L632.0,28.40 L632.5,27.13 L633.0,25.88 L633.5,24.65 L634.0,23.49 L634.5,22.40 L635.0,21.40 L635.5,20.51 L636.0,19.73 L636.5,19.05 L637.0,18.48 L637.5,17.99 L638.0,17.59 L638.5,17.26 L639.0,16.99 L639.5,16.80 L640.0,16.66 L640.5,16.59 L641.0,16.58 L641.5,16.62 L642.0,16.70 L642.5,16.83 L643.0,16.99 L643.5,17.17 L644.0,17.36 L644.5,17.55 L645.0,17.73 L645.5,17.89 L646.0,18.03 L646.5,18.13 L647.0,18.18 L647.5,18.19 L648.0,18.15 L648.5,18.06 L649.0,17.92 L649.5,17.75 L650.0,17.54 L650.5,17.30 L651.0,17.05 L651.5,16.79 L652.0,16.52 L652.5,16.25 L653.0,15.98 L653.5,15.71 L654.0,15.45 L654.5,15.20 L655.0,14.96 L655.5,14.74 L656.0,14.56 L656.5,14.41 L657.0,14.29 L657.5,14.22 L658.0,14.17 L658.5,14.17 L659.0,14.19 L659.5,14.23 L660.0,14.29 L660.5,14.38 L661.0,14.47 L661.5,14.58 L662.0,14.71 L662.5,14.85 L663.0,15.00 L663.5,15.17 L664.0,15.36 L664.5,15.57 L665.0,15.82 L665.5,16.11 L666.0,16.45 L666.5,16.83 L667.0,17.26 L667.5,17.74 L668.0,18.26 L668.5,18.82 L669.0,19.41 L669.5,20.01 L670.0,20.63 L670.5,21.25 L671.0,21.87 L671.5,22.48 L672.0,23.08 L672.5,23.67 L673.0,24.25 L673.5,24.82 L674.0,25.38 L674.5,25.94 L675.0,26.49 L675.5,27.04 L676.0,27.59 L676.5,28.14 L677.0,28.69 L677.5,29.23 L678.0,29.78 L678.5,30.32 L679.0,30.85 L679.5,31.39 L680.0,31.92 L680.5,32.46 L681.0,32.98 L681.5,33.51 L682.0,34.04 L682.5,34.56 L683.0,35.08 L683.5,35.61 L684.0,36.13 L684.5,36.65 L685.0,37.18 L685.5,37.70 L686.0,38.23 L686.5,38.75 L687.0,39.28 L687.5,39.82 L688.0,40.35 L688.5,40.89 L689.0,41.44 L689.5,42.00 L690.0,42.56 L690.5,43.13 L691.0,43.72 L691.5,44.31 L692.0,44.91 L692.5,45.52 L693.0,46.13 L693.5,46.75 L694.0,47.36 L694.5,47.96 L695.0,48.56 L695.5,49.14 L696.0,49.70 L696.5,50.24 L697.0,50.76 L697.5,51.26 L698.0,51.73 L698.5,52.18 L699.0,52.61 L699.5,53.02 L700.0,53.41 L700.5,53.79 L701.0,54.16 L701.5,54.51 L702.0,54.84 L702.5,55.16 L703.0,55.46 L703.5,55.73 L704.0,55.98 L704.5,56.21 L705.0,56.41 L705.5,56.58 L706.0,56.73 L706.5,56.86 L707.0,56.97 L707.5,57.06 L708.0,57.15 L708.5,57.23 L709.0,57.30 L709.5,57.36 L710.0,57.42 L710.5,57.47 L711.0,57.52 L711.5,57.57 L712.0,57.61 L712.5,57.64 L713.0,57.67 L713.5,57.69 L714.0,57.71 L714.5,57.72 L715.0,57.73 L715.5,57.74 L716.0,57.74 L716.5,57.75 L717.0,57.75 L717.5,57.75 L718.0,57.75 L718.5,57.75 L719.0,57.75 L719.5,57.75 L720.0,57.75 L720.5,57.75 L721.0,57.75 L721.5,57.75 L722.0,57.75 L722.5,57.75 L723.0,57.75 L723.5,57.75 L724.0,57.75 L724.5,57.75 L725.0,57.75 L725.5,57.75 L726.0,57.75 L726.5,57.76 L727.0,57.76 L727.5,57.77 L728.0,57.78 L728.5,57.80 L729.0,57.82 L729.5,57.85 L730.0,57.88 L730.5,57.92 L731.0,57.96 L731.5,58.01 L732.0,58.06 L732.5,58.11 L733.0,58.17 L733.5,58.22 L734.0,58.28 L734.5,58.33 L735.0,58.39 L735.5,58.44 L736.0,58.49 L736.5,58.54 L737.0,58.58 L737.5,58.62 L738.0,58.65 L738.5,58.68 L739.0,58.70 L739.5,58.72 L740.0,58.73 L740.5,58.74 L741.0,58.74 L741.5,58.75 L742.0,58.75 L742.5,58.75 L743.0,58.75 L743.5,58.75 L744.0,58.75 L744.5,58.75 L745.0,58.75 L745.5,58.75 L746.0,58.75 L746.5,58.75 L747.0,58.75 L747.5,58.75 L748.0,58.75 L748.5,58.75 L749.0,58.75 L749.5,58.75 L750.0,58.75 L750.5,58.75 L751.0,58.75 L751.2,58.75" fill="none" stroke="#1f77b4" stroke-width="2.05" stroke-linejoin="round" stroke-linecap="butt"/>
<line x1="635.00" y1="61.50" x2="635.00" y2="0.75" stroke="#1f77b4" stroke-width="1.90" stroke-dasharray="1.92 3.16"/>
<line x1="656.00" y1="61.50" x2="656.00" y2="0.75" stroke="#1f77b4" stroke-width="1.90" stroke-dasharray="7.1 3.05"/>
<line x1="678.75" y1="61.50" x2="678.75" y2="0.75" stroke="#1f77b4" stroke-width="1.90" stroke-dasharray="1.92 3.16"/>
<path d="M590.0,59.00 L590.5,59.00 L591.0,59.00 L591.5,58.99 L592.0,58.99 L592.5,58.99 L593.0,58.98 L593.5,58.98 L594.0,58.97 L594.5,58.96 L595.0,58.95 L595.5,58.94 L596.0,58.93 L596.5,58.92 L597.0,58.91 L597.5,58.90 L598.0,58.88 L598.5,58.87 L599.0,58.85 L599.5,58.84 L600.0,58.82 L600.5,58.80 L601.0,58.78 L601.5,58.76 L602.0,58.73 L602.5,58.71 L603.0,58.69 L603.5,58.66 L604.0,58.63 L604.5,58.60 L605.0,58.57 L605.5,58.54 L606.0,58.51 L606.5,58.48 L607.0,58.44 L607.5,58.41 L608.0,58.37 L608.5,58.33 L609.0,58.28 L609.5,58.23 L610.0,58.17 L610.5,58.10 L611.0,58.00 L611.5,57.89 L612.0,57.74 L612.5,57.57 L613.0,57.36 L613.5,57.11 L614.0,56.83 L614.5,56.53 L615.0,56.21 L615.5,55.86 L616.0,55.50 L616.5,55.13 L617.0,54.76 L617.5,54.37 L618.0,53.98 L618.5,53.58 L619.0,53.17 L619.5,52.75 L620.0,52.31 L620.5,51.87 L621.0,51.41 L621.5,50.95 L622.0,50.47 L622.5,49.99 L623.0,49.49 L623.5,49.00 L624.0,48.49 L624.5,47.98 L625.0,47.46 L625.5,46.94 L626.0,46.41 L626.5,45.87 L627.0,45.32 L627.5,44.76 L628.0,44.20 L628.5,43.63 L629.0,43.06 L629.5,42.48 L630.0,41.90 L630.5,41.32 L631.0,40.75 L631.5,40.17 L632.0,39.59 L632.5,39.02 L633.0,38.44 L633.5,37.87 L634.0,37.30 L634.5,36.74 L635.0,36.17 L635.5,35.60 L636.0,35.04 L636.5,34.47 L637.0,33.90 L637.5,33.33 L638.0,32.76 L638.5,32.19 L639.0,31.61 L639.5,31.03 L640.0,30.45 L640.5,29.86 L641.0,29.27 L641.5,28.67 L642.0,28.07 L642.5,27.46 L643.0,26.84 L643.5,26.22 L644.0,25.59 L644.5,24.95 L645.0,24.31 L645.5,23.66 L646.0,23.01 L646.5,22.36 L647.0,21.71 L647.5,21.05 L648.0,20.40 L648.5,19.75 L649.0,19.11 L649.5,18.47 L650.0,17.83 L650.5,17.20 L651.0,16.57 L651.5,15.95 L652.0,15.33 L652.5,14.71 L653.0,14.09 L653.5,13.47 L654.0,12.85 L654.5,12.24 L655.0,11.64 L655.5,11.04 L656.0,10.45 L656.5,9.88 L657.0,9.32 L657.5,8.77 L658.0,8.24 L658.5,7.73 L659.0,7.24 L659.5,6.76 L660.0,6.30 L660.5,5.87 L661.0,5.45 L661.5,5.08 L662.0,4.74 L662.5,4.47 L663.0,4.28 L663.5,4.18 L664.0,4.18 L664.5,4.30 L665.0,4.54 L665.5,4.90 L666.0,5.37 L666.5,5.94 L667.0,6.60 L667.5,7.34 L668.0,8.13 L668.5,8.96 L669.0,9.81 L669.5,10.68 L670.0,11.55 L670.5,12.41 L671.0,13.26 L671.5,14.10 L672.0,14.94 L672.5,15.77 L673.0,16.60 L673.5,17.43 L674.0,18.25 L674.5,19.07 L675.0,19.87 L675.5,20.66 L676.0,21.43 L676.5,22.17 L677.0,22.88 L677.5,23.57 L678.0,24.22 L678.5,24.84 L679.0,25.44 L679.5,26.01 L680.0,26.57 L680.5,27.11 L681.0,27.64 L681.5,28.16 L682.0,28.69 L682.5,29.21 L683.0,29.75 L683.5,30.29 L684.0,30.85 L684.5,31.42 L685.0,32.02 L685.5,32.63 L686.0,33.26 L686.5,33.91 L687.0,34.57 L687.5,35.24 L688.0,35.93 L688.5,36.62 L689.0,37.31 L689.5,38.00 L690.0,38.68 L690.5,39.35 L691.0,40.02 L691.5,40.67 L692.0,41.31 L692.5,41.94 L693.0,42.56 L693.5,43.16 L694.0,43.76 L694.5,44.35 L695.0,44.94 L695.5,45.51 L696.0,46.08 L696.5,46.64 L697.0,47.18 L697.5,47.71 L698.0,48.23 L698.5,48.73 L699.0,49.22 L699.5,49.69 L700.0,50.14 L700.5,50.57 L701.0,50.99 L701.5,51.39 L702.0,51.78 L702.5,52.17 L703.0,52.54 L703.5,52.90 L704.0,53.25 L704.5,53.58 L705.0,53.90 L705.5,54.20 L706.0,54.47 L706.5,54.72 L707.0,54.94 L707.5,55.13 L708.0,55.28 L708.5,55.42 L709.0,55.52 L709.5,55.61 L710.0,55.68 L710.5,55.74 L711.0,55.79 L711.5,55.83 L712.0,55.86 L712.5,55.89 L713.0,55.92 L713.5,55.95 L714.0,55.97 L714.5,56.00 L715.0,56.02 L715.5,56.05 L716.0,56.08 L716.5,56.11 L717.0,56.14 L717.5,56.17 L718.0,56.21 L718.5,56.25 L719.0,56.30 L719.5,56.36 L720.0,56.41 L720.5,56.48 L721.0,56.54 L721.5,56.61 L722.0,56.69 L722.5,56.76 L723.0,56.84 L723.5,56.92 L724.0,57.00 L724.5,57.08 L725.0,57.15 L725.5,57.22 L726.0,57.29 L726.5,57.36 L727.0,57.42 L727.5,57.48 L728.0,57.54 L728.5,57.60 L729.0,57.65 L729.5,57.70 L730.0,57.75 L730.5,57.80 L731.0,57.85 L731.5,57.90 L732.0,57.95 L732.5,57.99 L733.0,58.04 L733.5,58.08 L734.0,58.12 L734.5,58.16 L735.0,58.20 L735.5,58.24 L736.0,58.28 L736.5,58.31 L737.0,58.34 L737.5,58.37 L738.0,58.40 L738.5,58.43 L739.0,58.45 L739.5,58.47 L740.0,58.49 L740.5,58.51 L741.0,58.53 L741.5,58.55 L742.0,58.57 L742.5,58.58 L743.0,58.60 L743.5,58.61 L744.0,58.63 L744.5,58.64 L745.0,58.65 L745.5,58.67 L746.0,58.68 L746.5,58.69 L747.0,58.70 L747.5,58.71 L748.0,58.72 L748.5,58.72 L749.0,58.73 L749.5,58.74 L750.0,58.74 L750.5,58.74 L751.0,58.75 L751.2,58.75" fill="none" stroke="#ff7f0e" stroke-width="2.05" stroke-linejoin="round" stroke-linecap="butt"/>
<line x1="642.25" y1="61.50" x2="642.25" y2="0.75" stroke="#ff7f0e" stroke-width="1.90" stroke-dasharray="1.92 3.16"/>
<line x1="662.50" y1="61.50" x2="662.50" y2="0.75" stroke="#ff7f0e" stroke-width="1.90" stroke-dasharray="7.1 3.05"/>
<line x1="683.10" y1="61.50" x2="683.10" y2="0.75" stroke="#ff7f0e" stroke-width="1.90" stroke-dasharray="1.92 3.16"/>
</g>
<rect x="582.20" y="0.75" width="177.00" height="60.75" fill="none" stroke="#000" stroke-width="1.30"/>
<line x1="600.40" y1="61.50" x2="600.40" y2="66.50" stroke="#000" stroke-width="1.30"/>
<text x="600.40" y="81.60" font-size="12.9" text-anchor="middle">0</text>
<line x1="645.67" y1="61.50" x2="645.67" y2="66.50" stroke="#000" stroke-width="1.30"/>
<text x="645.67" y="81.60" font-size="12.9" text-anchor="middle">10</text>
<line x1="690.94" y1="61.50" x2="690.94" y2="66.50" stroke="#000" stroke-width="1.30"/>
<text x="690.94" y="81.60" font-size="12.9" text-anchor="middle">20</text>
<line x1="736.21" y1="61.50" x2="736.21" y2="66.50" stroke="#000" stroke-width="1.30"/>
<text x="736.21" y="81.60" font-size="12.9" text-anchor="middle">30</text>
<g transform="matrix(1.1220 0 0 1 -75.330 0)"><text x="614.70" y="98.60" font-size="14.2"><tspan font-style="italic">r</tspan><tspan font-size="10.2" dy="2.2" dx="1.6">mean</tspan><tspan dy="-2.2" dx="6.5">(light days)</tspan></text></g>
<g clip-path="url(#c4)">
<path d="M10.6,165.75 L11.1,165.74 L11.6,165.74 L12.1,165.73 L12.6,165.73 L13.1,165.72 L13.6,165.71 L14.1,165.70 L14.6,165.69 L15.1,165.67 L15.6,165.66 L16.1,165.64 L16.6,165.62 L17.1,165.59 L17.6,165.57 L18.1,165.54 L18.6,165.52 L19.1,165.49 L19.6,165.46 L20.1,165.42 L20.6,165.39 L21.1,165.35 L21.6,165.31 L22.1,165.27 L22.6,165.22 L23.1,165.17 L23.6,165.11 L24.1,165.03 L24.6,164.94 L25.1,164.83 L25.6,164.70 L26.1,164.53 L26.6,164.32 L27.1,164.09 L27.6,163.81 L28.1,163.50 L28.6,163.15 L29.1,162.77 L29.6,162.36 L30.1,161.92 L30.6,161.43 L31.1,160.91 L31.6,160.34 L32.1,159.71 L32.6,159.03 L33.1,158.29 L33.6,157.49 L34.1,156.63 L34.6,155.71 L35.1,154.75 L35.6,153.73 L36.1,152.67 L36.6,151.57 L37.1,150.41 L37.6,149.20 L38.1,147.94 L38.6,146.62 L39.1,145.24 L39.6,143.82 L40.1,142.35 L40.6,140.84 L41.1,139.30 L41.6,137.74 L42.1,136.16 L42.6,134.56 L43.1,132.95 L43.6,131.33 L44.1,129.72 L44.6,128.14 L45.1,126.59 L45.6,125.11 L46.1,123.71 L46.6,122.40 L47.1,121.20 L47.6,120.10 L48.1,119.10 L48.6,118.19 L49.1,117.38 L49.6,116.64 L50.1,116.00 L50.6,115.45 L51.1,114.99 L51.6,114.63 L52.1,114.37 L52.6,114.20 L53.1,114.10 L53.6,114.08 L54.1,114.10 L54.6,114.18 L55.1,114.28 L55.6,114.40 L56.1,114.54 L56.6,114.70 L57.1,114.85 L57.6,115.01 L58.1,115.17 L58.6,115.33 L59.1,115.48 L59.6,115.63 L60.1,115.78 L60.6,115.93 L61.1,116.08 L61.6,116.24 L62.1,116.39 L62.6,116.55 L63.1,116.72 L63.6,116.89 L64.1,117.08 L64.6,117.27 L65.1,117.48 L65.6,117.70 L66.1,117.93 L66.6,118.19 L67.1,118.47 L67.6,118.77 L68.1,119.09 L68.6,119.43 L69.1,119.79 L69.6,120.17 L70.1,120.57 L70.6,120.98 L71.1,121.39 L71.6,121.82 L72.1,122.25 L72.6,122.68 L73.1,123.11 L73.6,123.54 L74.1,123.97 L74.6,124.39 L75.1,124.80 L75.6,125.22 L76.1,125.63 L76.6,126.03 L77.1,126.44 L77.6,126.85 L78.1,127.26 L78.6,127.67 L79.1,128.08 L79.6,128.50 L80.1,128.92 L80.6,129.35 L81.1,129.78 L81.6,130.22 L82.1,130.67 L82.6,131.12 L83.1,131.58 L83.6,132.04 L84.1,132.51 L84.6,132.99 L85.1,133.47 L85.6,133.95 L86.1,134.44 L86.6,134.94 L87.1,135.43 L87.6,135.94 L88.1,136.45 L88.6,136.96 L89.1,137.48 L89.6,138.01 L90.1,138.54 L90.6,139.07 L91.1,139.61 L91.6,140.16 L92.1,140.71 L92.6,141.27 L93.1,141.84 L93.6,142.42 L94.1,143.01 L94.6,143.61 L95.1,144.23 L95.6,144.86 L96.1,145.50 L96.6,146.17 L97.1,146.84 L97.6,147.52 L98.1,148.20 L98.6,148.87 L99.1,149.53 L99.6,150.17 L100.1,150.79 L100.6,151.38 L101.1,151.95 L101.6,152.49 L102.1,153.01 L102.6,153.51 L103.1,153.98 L103.6,154.44 L104.1,154.87 L104.6,155.28 L105.1,155.67 L105.6,156.02 L106.1,156.35 L106.6,156.64 L107.1,156.90 L107.6,157.14 L108.1,157.34 L108.6,157.52 L109.1,157.69 L109.6,157.83 L110.1,157.96 L110.6,158.09 L111.1,158.20 L111.6,158.31 L112.1,158.43 L112.6,158.54 L113.1,158.65 L113.6,158.78 L114.1,158.90 L114.6,159.04 L115.1,159.19 L115.6,159.35 L116.1,159.51 L116.6,159.69 L117.1,159.87 L117.6,160.06 L118.1,160.25 L118.6,160.45 L119.1,160.65 L119.6,160.86 L120.1,161.07 L120.6,161.28 L121.1,161.50 L121.6,161.73 L122.1,161.96 L122.6,162.18 L123.1,162.41 L123.6,162.64 L124.1,162.86 L124.6,163.07 L125.1,163.27 L125.6,163.45 L126.1,163.63 L126.6,163.78 L127.1,163.93 L127.6,164.05 L128.1,164.17 L128.6,164.28 L129.1,164.38 L129.6,164.47 L130.1,164.56 L130.6,164.64 L131.1,164.72 L131.6,164.80 L132.1,164.88 L132.6,164.95 L133.1,165.01 L133.6,165.08 L134.1,165.14 L134.6,165.20 L135.1,165.25 L135.6,165.30 L136.1,165.35 L136.6,165.39 L137.1,165.43 L137.6,165.47 L138.1,165.50 L138.6,165.53 L139.1,165.55 L139.6,165.57 L140.1,165.59 L140.6,165.61 L141.1,165.62 L141.6,165.64 L142.1,165.65 L142.6,165.66 L143.1,165.67 L143.6,165.68 L144.1,165.70 L144.6,165.71 L145.1,165.72 L145.6,165.73 L146.1,165.74 L146.6,165.75 L147.1,165.76 L147.6,165.77 L148.1,165.78 L148.6,165.79 L149.1,165.80 L149.6,165.80 L150.1,165.81 L150.6,165.82 L151.1,165.83 L151.6,165.84 L152.1,165.85 L152.6,165.85 L153.1,165.86 L153.6,165.87 L154.1,165.87 L154.6,165.88 L155.1,165.89 L155.6,165.89 L156.1,165.90 L156.6,165.91 L157.1,165.91 L157.6,165.92 L158.1,165.92 L158.6,165.93 L159.1,165.93 L159.6,165.94 L160.1,165.94 L160.6,165.95 L161.1,165.95 L161.6,165.96 L162.1,165.96 L162.6,165.96 L163.1,165.97 L163.6,165.97 L164.1,165.97 L164.6,165.98 L165.1,165.98 L165.6,165.98 L166.1,165.98 L166.6,165.99 L167.1,165.99 L167.6,165.99 L168.1,165.99 L168.6,165.99 L169.1,165.99 L169.6,166.00 L170.1,166.00 L170.6,166.00 L171.1,166.00 L171.6,166.00 L172.1,166.00 L172.5,166.00" fill="none" stroke="#1f77b4" stroke-width="2.05" stroke-linejoin="round" stroke-linecap="butt"/>
<line x1="47.90" y1="168.90" x2="47.90" y2="108.25" stroke="#1f77b4" stroke-width="1.90" stroke-dasharray="1.92 3.16"/>
<line x1="66.25" y1="168.90" x2="66.25" y2="108.25" stroke="#1f77b4" stroke-width="1.90" stroke-dasharray="7.1 3.05"/>
<line x1="90.00" y1="168.90" x2="90.00" y2="108.25" stroke="#1f77b4" stroke-width="1.90" stroke-dasharray="1.92 3.16"/>
<path d="M10.6,166.00 L11.1,166.00 L11.6,165.99 L12.1,165.99 L12.6,165.98 L13.1,165.98 L13.6,165.97 L14.1,165.96 L14.6,165.96 L15.1,165.94 L15.6,165.93 L16.1,165.92 L16.6,165.91 L17.1,165.89 L17.6,165.87 L18.1,165.85 L18.6,165.83 L19.1,165.81 L19.6,165.79 L20.1,165.76 L20.6,165.73 L21.1,165.71 L21.6,165.68 L22.1,165.64 L22.6,165.61 L23.1,165.58 L23.6,165.54 L24.1,165.50 L24.6,165.46 L25.1,165.42 L25.6,165.37 L26.1,165.33 L26.6,165.28 L27.1,165.23 L27.6,165.18 L28.1,165.12 L28.6,165.06 L29.1,164.99 L29.6,164.92 L30.1,164.82 L30.6,164.70 L31.1,164.55 L31.6,164.36 L32.1,164.11 L32.6,163.81 L33.1,163.46 L33.6,163.04 L34.1,162.57 L34.6,162.05 L35.1,161.49 L35.6,160.89 L36.1,160.27 L36.6,159.62 L37.1,158.95 L37.6,158.25 L38.1,157.53 L38.6,156.78 L39.1,155.99 L39.6,155.18 L40.1,154.33 L40.6,153.44 L41.1,152.51 L41.6,151.54 L42.1,150.53 L42.6,149.48 L43.1,148.37 L43.6,147.22 L44.1,146.02 L44.6,144.77 L45.1,143.51 L45.6,142.24 L46.1,141.01 L46.6,139.82 L47.1,138.70 L47.6,137.68 L48.1,136.73 L48.6,135.88 L49.1,135.10 L49.6,134.38 L50.1,133.72 L50.6,133.11 L51.1,132.52 L51.6,131.97 L52.1,131.44 L52.6,130.93 L53.1,130.45 L53.6,129.98 L54.1,129.52 L54.6,129.08 L55.1,128.66 L55.6,128.25 L56.1,127.86 L56.6,127.46 L57.1,127.07 L57.6,126.68 L58.1,126.28 L58.6,125.86 L59.1,125.42 L59.6,124.96 L60.1,124.47 L60.6,123.95 L61.1,123.41 L61.6,122.84 L62.1,122.25 L62.6,121.64 L63.1,121.03 L63.6,120.41 L64.1,119.81 L64.6,119.21 L65.1,118.63 L65.6,118.07 L66.1,117.53 L66.6,117.01 L67.1,116.52 L67.6,116.04 L68.1,115.58 L68.6,115.14 L69.1,114.71 L69.6,114.30 L70.1,113.92 L70.6,113.55 L71.1,113.20 L71.6,112.87 L72.1,112.57 L72.6,112.28 L73.1,112.01 L73.6,111.76 L74.1,111.54 L74.6,111.34 L75.1,111.18 L75.6,111.05 L76.1,110.97 L76.6,110.95 L77.1,110.98 L77.6,111.07 L78.1,111.24 L78.6,111.46 L79.1,111.75 L79.6,112.09 L80.1,112.49 L80.6,112.95 L81.1,113.45 L81.6,114.01 L82.1,114.63 L82.6,115.32 L83.1,116.08 L83.6,116.91 L84.1,117.81 L84.6,118.76 L85.1,119.75 L85.6,120.76 L86.1,121.76 L86.6,122.74 L87.1,123.68 L87.6,124.56 L88.1,125.40 L88.6,126.19 L89.1,126.93 L89.6,127.64 L90.1,128.32 L90.6,128.97 L91.1,129.61 L91.6,130.24 L92.1,130.86 L92.6,131.48 L93.1,132.11 L93.6,132.74 L94.1,133.39 L94.6,134.04 L95.1,134.71 L95.6,135.38 L96.1,136.07 L96.6,136.77 L97.1,137.47 L97.6,138.18 L98.1,138.90 L98.6,139.63 L99.1,140.36 L99.6,141.10 L100.1,141.84 L100.6,142.60 L101.1,143.38 L101.6,144.16 L102.1,144.97 L102.6,145.78 L103.1,146.61 L103.6,147.43 L104.1,148.24 L104.6,149.03 L105.1,149.78 L105.6,150.49 L106.1,151.15 L106.6,151.75 L107.1,152.29 L107.6,152.76 L108.1,153.19 L108.6,153.56 L109.1,153.90 L109.6,154.20 L110.1,154.48 L110.6,154.74 L111.1,154.98 L111.6,155.20 L112.1,155.42 L112.6,155.63 L113.1,155.83 L113.6,156.04 L114.1,156.24 L114.6,156.43 L115.1,156.63 L115.6,156.82 L116.1,157.01 L116.6,157.20 L117.1,157.39 L117.6,157.58 L118.1,157.77 L118.6,157.98 L119.1,158.19 L119.6,158.41 L120.1,158.65 L120.6,158.90 L121.1,159.17 L121.6,159.46 L122.1,159.76 L122.6,160.07 L123.1,160.38 L123.6,160.70 L124.1,161.01 L124.6,161.32 L125.1,161.62 L125.6,161.90 L126.1,162.17 L126.6,162.41 L127.1,162.64 L127.6,162.85 L128.1,163.04 L128.6,163.22 L129.1,163.39 L129.6,163.55 L130.1,163.71 L130.6,163.86 L131.1,164.00 L131.6,164.14 L132.1,164.27 L132.6,164.40 L133.1,164.52 L133.6,164.64 L134.1,164.75 L134.6,164.85 L135.1,164.94 L135.6,165.03 L136.1,165.10 L136.6,165.17 L137.1,165.23 L137.6,165.28 L138.1,165.32 L138.6,165.36 L139.1,165.39 L139.6,165.42 L140.1,165.44 L140.6,165.46 L141.1,165.48 L141.6,165.50 L142.1,165.52 L142.6,165.54 L143.1,165.55 L143.6,165.57 L144.1,165.58 L144.6,165.60 L145.1,165.61 L145.6,165.63 L146.1,165.64 L146.6,165.66 L147.1,165.67 L147.6,165.69 L148.1,165.70 L148.6,165.71 L149.1,165.72 L149.6,165.74 L150.1,165.75 L150.6,165.76 L151.1,165.77 L151.6,165.78 L152.1,165.79 L152.6,165.80 L153.1,165.81 L153.6,165.82 L154.1,165.83 L154.6,165.84 L155.1,165.85 L155.6,165.86 L156.1,165.87 L156.6,165.88 L157.1,165.88 L157.6,165.89 L158.1,165.90 L158.6,165.91 L159.1,165.91 L159.6,165.92 L160.1,165.93 L160.6,165.93 L161.1,165.94 L161.6,165.94 L162.1,165.95 L162.6,165.95 L163.1,165.96 L163.6,165.96 L164.1,165.97 L164.6,165.97 L165.1,165.97 L165.6,165.98 L166.1,165.98 L166.6,165.98 L167.1,165.99 L167.6,165.99 L168.1,165.99 L168.6,165.99 L169.1,165.99 L169.6,166.00 L170.1,166.00 L170.6,166.00 L171.1,166.00 L171.6,166.00 L172.1,166.00 L172.5,166.00" fill="none" stroke="#ff7f0e" stroke-width="2.05" stroke-linejoin="round" stroke-linecap="butt"/>
<line x1="55.00" y1="168.90" x2="55.00" y2="108.25" stroke="#ff7f0e" stroke-width="1.90" stroke-dasharray="1.92 3.16"/>
<line x1="75.00" y1="168.90" x2="75.00" y2="108.25" stroke="#ff7f0e" stroke-width="1.90" stroke-dasharray="7.1 3.05"/>
<line x1="95.00" y1="168.90" x2="95.00" y2="108.25" stroke="#ff7f0e" stroke-width="1.90" stroke-dasharray="1.92 3.16"/>
</g>
<rect x="3.00" y="108.25" width="177.30" height="60.65" fill="none" stroke="#000" stroke-width="1.30"/>
<line x1="25.60" y1="168.90" x2="25.60" y2="173.90" stroke="#000" stroke-width="1.30"/>
<text x="25.60" y="189.00" font-size="12.9" text-anchor="middle">0</text>
<line x1="76.30" y1="168.90" x2="76.30" y2="173.90" stroke="#000" stroke-width="1.30"/>
<text x="76.30" y="189.00" font-size="12.9" text-anchor="middle">5</text>
<line x1="127.00" y1="168.90" x2="127.00" y2="173.90" stroke="#000" stroke-width="1.30"/>
<text x="127.00" y="189.00" font-size="12.9" text-anchor="middle">10</text>
<line x1="177.70" y1="168.90" x2="177.70" y2="173.90" stroke="#000" stroke-width="1.30"/>
<text x="177.70" y="189.00" font-size="12.9" text-anchor="middle">15</text>
<g transform="matrix(1.1421 0 0 1 -5.104 0)"><text x="30.30" y="206.50" font-size="14.2"><tspan font-style="italic">r</tspan><tspan font-size="10.2" dy="2.2" dx="1.6">median</tspan><tspan dy="-2.2" dx="6.5">(light days)</tspan></text></g>
<g clip-path="url(#c5)">
<path d="M203.1,166.00 L203.6,165.99 L204.1,165.99 L204.6,165.99 L205.1,165.98 L205.6,165.97 L206.1,165.97 L206.6,165.96 L207.1,165.95 L207.6,165.93 L208.1,165.92 L208.6,165.90 L209.1,165.89 L209.6,165.87 L210.1,165.85 L210.6,165.82 L211.1,165.80 L211.6,165.77 L212.1,165.75 L212.6,165.72 L213.1,165.69 L213.6,165.65 L214.1,165.62 L214.6,165.58 L215.1,165.54 L215.6,165.50 L216.1,165.46 L216.6,165.42 L217.1,165.37 L217.6,165.32 L218.1,165.27 L218.6,165.22 L219.1,165.16 L219.6,165.10 L220.1,165.04 L220.6,164.97 L221.1,164.89 L221.6,164.80 L222.1,164.69 L222.6,164.55 L223.1,164.37 L223.6,164.16 L224.1,163.91 L224.6,163.61 L225.1,163.27 L225.6,162.88 L226.1,162.44 L226.6,161.97 L227.1,161.45 L227.6,160.88 L228.1,160.27 L228.6,159.59 L229.1,158.85 L229.6,158.03 L230.1,157.13 L230.6,156.15 L231.1,155.09 L231.6,153.96 L232.1,152.75 L232.6,151.49 L233.1,150.17 L233.6,148.80 L234.1,147.39 L234.6,145.93 L235.1,144.43 L235.6,142.88 L236.1,141.29 L236.6,139.65 L237.1,137.98 L237.6,136.27 L238.1,134.55 L238.6,132.83 L239.1,131.11 L239.6,129.39 L240.1,127.69 L240.6,126.00 L241.1,124.34 L241.6,122.72 L242.1,121.15 L242.6,119.67 L243.1,118.29 L243.6,117.03 L244.1,115.92 L244.6,114.95 L245.1,114.12 L245.6,113.42 L246.1,112.85 L246.6,112.37 L247.1,111.99 L247.6,111.69 L248.1,111.48 L248.6,111.36 L249.1,111.34 L249.6,111.43 L250.1,111.62 L250.6,111.91 L251.1,112.31 L251.6,112.79 L252.1,113.35 L252.6,113.97 L253.1,114.64 L253.6,115.35 L254.1,116.09 L254.6,116.86 L255.1,117.65 L255.6,118.43 L256.1,119.20 L256.6,119.94 L257.1,120.64 L257.6,121.28 L258.1,121.86 L258.6,122.38 L259.1,122.84 L259.6,123.24 L260.1,123.58 L260.6,123.88 L261.1,124.12 L261.6,124.31 L262.1,124.46 L262.6,124.57 L263.1,124.65 L263.6,124.70 L264.1,124.75 L264.6,124.80 L265.1,124.87 L265.6,124.98 L266.1,125.14 L266.6,125.37 L267.1,125.68 L267.6,126.08 L268.1,126.57 L268.6,127.14 L269.1,127.79 L269.6,128.49 L270.1,129.25 L270.6,130.04 L271.1,130.86 L271.6,131.71 L272.1,132.59 L272.6,133.49 L273.1,134.41 L273.6,135.35 L274.1,136.29 L274.6,137.22 L275.1,138.14 L275.6,139.02 L276.1,139.85 L276.6,140.64 L277.1,141.36 L277.6,142.02 L278.1,142.62 L278.6,143.18 L279.1,143.68 L279.6,144.15 L280.1,144.59 L280.6,145.00 L281.1,145.40 L281.6,145.79 L282.1,146.18 L282.6,146.57 L283.1,146.98 L283.6,147.40 L284.1,147.84 L284.6,148.30 L285.1,148.79 L285.6,149.31 L286.1,149.86 L286.6,150.41 L287.1,150.98 L287.6,151.54 L288.1,152.08 L288.6,152.60 L289.1,153.07 L289.6,153.51 L290.1,153.90 L290.6,154.25 L291.1,154.56 L291.6,154.84 L292.1,155.09 L292.6,155.32 L293.1,155.53 L293.6,155.73 L294.1,155.92 L294.6,156.11 L295.1,156.31 L295.6,156.50 L296.1,156.71 L296.6,156.92 L297.1,157.15 L297.6,157.39 L298.1,157.64 L298.6,157.91 L299.1,158.19 L299.6,158.48 L300.1,158.78 L300.6,159.08 L301.1,159.39 L301.6,159.70 L302.1,160.01 L302.6,160.32 L303.1,160.61 L303.6,160.90 L304.1,161.17 L304.6,161.43 L305.1,161.68 L305.6,161.90 L306.1,162.12 L306.6,162.32 L307.1,162.51 L307.6,162.69 L308.1,162.86 L308.6,163.02 L309.1,163.18 L309.6,163.34 L310.1,163.48 L310.6,163.63 L311.1,163.76 L311.6,163.89 L312.1,164.01 L312.6,164.13 L313.1,164.24 L313.6,164.33 L314.1,164.42 L314.6,164.51 L315.1,164.58 L315.6,164.64 L316.1,164.70 L316.6,164.75 L317.1,164.80 L317.6,164.84 L318.1,164.88 L318.6,164.92 L319.1,164.96 L319.6,164.99 L320.1,165.02 L320.6,165.06 L321.1,165.09 L321.6,165.12 L322.1,165.14 L322.6,165.17 L323.1,165.20 L323.6,165.22 L324.1,165.25 L324.6,165.27 L325.1,165.29 L325.6,165.31 L326.1,165.33 L326.6,165.35 L327.1,165.37 L327.6,165.39 L328.1,165.41 L328.6,165.43 L329.1,165.44 L329.6,165.46 L330.1,165.47 L330.6,165.49 L331.1,165.50 L331.6,165.52 L332.1,165.53 L332.6,165.54 L333.1,165.56 L333.6,165.57 L334.1,165.58 L334.6,165.59 L335.1,165.60 L335.6,165.61 L336.1,165.62 L336.6,165.63 L337.1,165.64 L337.6,165.65 L338.1,165.66 L338.6,165.67 L339.1,165.68 L339.6,165.69 L340.1,165.70 L340.6,165.71 L341.1,165.72 L341.6,165.73 L342.1,165.74 L342.6,165.75 L343.1,165.76 L343.6,165.77 L344.1,165.78 L344.6,165.79 L345.1,165.80 L345.6,165.81 L346.1,165.81 L346.6,165.82 L347.1,165.83 L347.6,165.84 L348.1,165.85 L348.6,165.86 L349.1,165.86 L349.6,165.87 L350.1,165.88 L350.6,165.88 L351.1,165.89 L351.6,165.90 L352.1,165.90 L352.6,165.91 L353.1,165.92 L353.6,165.92 L354.1,165.93 L354.6,165.93 L355.1,165.94 L355.6,165.95 L356.1,165.95 L356.6,165.96 L357.1,165.96 L357.6,165.96 L358.1,165.97 L358.6,165.97 L359.1,165.98 L359.6,165.98 L360.1,165.98 L360.6,165.98 L361.1,165.99 L361.6,165.99 L362.1,165.99 L362.6,165.99 L363.1,166.00 L363.6,166.00 L364.1,166.00 L364.6,166.00 L365.1,166.00 L365.6,166.00 L365.6,166.00" fill="none" stroke="#1f77b4" stroke-width="2.05" stroke-linejoin="round" stroke-linecap="butt"/>
<line x1="242.75" y1="168.90" x2="242.75" y2="108.25" stroke="#1f77b4" stroke-width="1.90" stroke-dasharray="1.92 3.16"/>
<line x1="257.90" y1="168.90" x2="257.90" y2="108.25" stroke="#1f77b4" stroke-width="1.90" stroke-dasharray="7.1 3.05"/>
<line x1="279.60" y1="168.90" x2="279.60" y2="108.25" stroke="#1f77b4" stroke-width="1.90" stroke-dasharray="1.92 3.16"/>
<path d="M203.1,166.00 L203.6,166.00 L204.1,166.00 L204.6,165.99 L205.1,165.99 L205.6,165.99 L206.1,165.99 L206.6,165.98 L207.1,165.98 L207.6,165.97 L208.1,165.96 L208.6,165.96 L209.1,165.95 L209.6,165.94 L210.1,165.93 L210.6,165.92 L211.1,165.91 L211.6,165.90 L212.1,165.88 L212.6,165.87 L213.1,165.85 L213.6,165.84 L214.1,165.82 L214.6,165.81 L215.1,165.79 L215.6,165.77 L216.1,165.75 L216.6,165.73 L217.1,165.70 L217.6,165.68 L218.1,165.66 L218.6,165.63 L219.1,165.61 L219.6,165.58 L220.1,165.55 L220.6,165.52 L221.1,165.49 L221.6,165.46 L222.1,165.42 L222.6,165.39 L223.1,165.36 L223.6,165.32 L224.1,165.28 L224.6,165.24 L225.1,165.20 L225.6,165.15 L226.1,165.09 L226.6,165.02 L227.1,164.94 L227.6,164.83 L228.1,164.70 L228.6,164.54 L229.1,164.34 L229.6,164.10 L230.1,163.82 L230.6,163.51 L231.1,163.16 L231.6,162.78 L232.1,162.37 L232.6,161.92 L233.1,161.43 L233.6,160.90 L234.1,160.31 L234.6,159.67 L235.1,158.97 L235.6,158.21 L236.1,157.37 L236.6,156.47 L237.1,155.50 L237.6,154.47 L238.1,153.35 L238.6,152.17 L239.1,150.90 L239.6,149.55 L240.1,148.11 L240.6,146.60 L241.1,145.02 L241.6,143.38 L242.1,141.70 L242.6,139.98 L243.1,138.25 L243.6,136.51 L244.1,134.77 L244.6,133.06 L245.1,131.38 L245.6,129.75 L246.1,128.18 L246.6,126.68 L247.1,125.27 L247.6,123.95 L248.1,122.73 L248.6,121.61 L249.1,120.58 L249.6,119.66 L250.1,118.84 L250.6,118.10 L251.1,117.46 L251.6,116.89 L252.1,116.41 L252.6,116.00 L253.1,115.68 L253.6,115.45 L254.1,115.31 L254.6,115.25 L255.1,115.28 L255.6,115.38 L256.1,115.54 L256.6,115.73 L257.1,115.96 L257.6,116.19 L258.1,116.41 L258.6,116.61 L259.1,116.78 L259.6,116.90 L260.1,116.98 L260.6,117.02 L261.1,117.02 L261.6,116.99 L262.1,116.93 L262.6,116.85 L263.1,116.75 L263.6,116.66 L264.1,116.56 L264.6,116.46 L265.1,116.38 L265.6,116.32 L266.1,116.30 L266.6,116.32 L267.1,116.40 L267.6,116.56 L268.1,116.81 L268.6,117.15 L269.1,117.59 L269.6,118.12 L270.1,118.73 L270.6,119.40 L271.1,120.11 L271.6,120.85 L272.1,121.61 L272.6,122.38 L273.1,123.16 L273.6,123.94 L274.1,124.74 L274.6,125.53 L275.1,126.34 L275.6,127.15 L276.1,127.96 L276.6,128.77 L277.1,129.57 L277.6,130.37 L278.1,131.14 L278.6,131.90 L279.1,132.64 L279.6,133.37 L280.1,134.08 L280.6,134.77 L281.1,135.46 L281.6,136.15 L282.1,136.84 L282.6,137.54 L283.1,138.26 L283.6,139.01 L284.1,139.79 L284.6,140.61 L285.1,141.47 L285.6,142.37 L286.1,143.29 L286.6,144.24 L287.1,145.20 L287.6,146.15 L288.1,147.08 L288.6,147.98 L289.1,148.83 L289.6,149.64 L290.1,150.39 L290.6,151.08 L291.1,151.72 L291.6,152.29 L292.1,152.79 L292.6,153.24 L293.1,153.62 L293.6,153.96 L294.1,154.25 L294.6,154.51 L295.1,154.75 L295.6,154.96 L296.1,155.16 L296.6,155.35 L297.1,155.53 L297.6,155.72 L298.1,155.90 L298.6,156.09 L299.1,156.29 L299.6,156.49 L300.1,156.71 L300.6,156.93 L301.1,157.17 L301.6,157.41 L302.1,157.66 L302.6,157.92 L303.1,158.18 L303.6,158.45 L304.1,158.71 L304.6,158.98 L305.1,159.25 L305.6,159.51 L306.1,159.77 L306.6,160.03 L307.1,160.28 L307.6,160.52 L308.1,160.75 L308.6,160.98 L309.1,161.19 L309.6,161.40 L310.1,161.61 L310.6,161.80 L311.1,161.99 L311.6,162.18 L312.1,162.36 L312.6,162.54 L313.1,162.72 L313.6,162.89 L314.1,163.06 L314.6,163.22 L315.1,163.38 L315.6,163.53 L316.1,163.67 L316.6,163.80 L317.1,163.93 L317.6,164.04 L318.1,164.15 L318.6,164.24 L319.1,164.33 L319.6,164.41 L320.1,164.47 L320.6,164.54 L321.1,164.59 L321.6,164.64 L322.1,164.69 L322.6,164.74 L323.1,164.78 L323.6,164.82 L324.1,164.86 L324.6,164.89 L325.1,164.93 L325.6,164.96 L326.1,165.00 L326.6,165.03 L327.1,165.06 L327.6,165.09 L328.1,165.11 L328.6,165.14 L329.1,165.16 L329.6,165.19 L330.1,165.21 L330.6,165.23 L331.1,165.26 L331.6,165.28 L332.1,165.30 L332.6,165.32 L333.1,165.33 L333.6,165.35 L334.1,165.37 L334.6,165.39 L335.1,165.40 L335.6,165.42 L336.1,165.43 L336.6,165.45 L337.1,165.46 L337.6,165.48 L338.1,165.50 L338.6,165.51 L339.1,165.53 L339.6,165.54 L340.1,165.55 L340.6,165.57 L341.1,165.58 L341.6,165.60 L342.1,165.61 L342.6,165.63 L343.1,165.64 L343.6,165.65 L344.1,165.67 L344.6,165.68 L345.1,165.69 L345.6,165.71 L346.1,165.72 L346.6,165.73 L347.1,165.74 L347.6,165.76 L348.1,165.77 L348.6,165.78 L349.1,165.79 L349.6,165.80 L350.1,165.81 L350.6,165.83 L351.1,165.84 L351.6,165.85 L352.1,165.86 L352.6,165.87 L353.1,165.87 L353.6,165.88 L354.1,165.89 L354.6,165.90 L355.1,165.91 L355.6,165.92 L356.1,165.92 L356.6,165.93 L357.1,165.94 L357.6,165.95 L358.1,165.95 L358.6,165.96 L359.1,165.96 L359.6,165.97 L360.1,165.97 L360.6,165.98 L361.1,165.98 L361.6,165.98 L362.1,165.99 L362.6,165.99 L363.1,165.99 L363.6,165.99 L364.1,166.00 L364.6,166.00 L365.1,166.00 L365.6,166.00 L365.6,166.00" fill="none" stroke="#ff7f0e" stroke-width="2.05" stroke-linejoin="round" stroke-linecap="butt"/>
<line x1="248.75" y1="168.90" x2="248.75" y2="108.25" stroke="#ff7f0e" stroke-width="1.90" stroke-dasharray="1.92 3.16"/>
<line x1="264.60" y1="168.90" x2="264.60" y2="108.25" stroke="#ff7f0e" stroke-width="1.90" stroke-dasharray="7.1 3.05"/>
<line x1="283.10" y1="168.90" x2="283.10" y2="108.25" stroke="#ff7f0e" stroke-width="1.90" stroke-dasharray="1.92 3.16"/>
</g>
<rect x="196.00" y="108.25" width="177.30" height="60.65" fill="none" stroke="#000" stroke-width="1.30"/>
<line x1="226.60" y1="168.90" x2="226.60" y2="173.90" stroke="#000" stroke-width="1.30"/>
<text x="226.60" y="189.00" font-size="12.9" text-anchor="middle">0</text>
<line x1="283.30" y1="168.90" x2="283.30" y2="173.90" stroke="#000" stroke-width="1.30"/>
<text x="283.30" y="189.00" font-size="12.9" text-anchor="middle">2</text>
<line x1="340.00" y1="168.90" x2="340.00" y2="173.90" stroke="#000" stroke-width="1.30"/>
<text x="340.00" y="189.00" font-size="12.9" text-anchor="middle">4</text>
<g transform="matrix(1.1215 0 0 1 -29.211 0)"><text x="232.10" y="206.40" font-size="14.2"><tspan font-style="italic">r</tspan><tspan font-size="10.2" dy="2.2" dx="1.6">min</tspan><tspan dy="-2.2" dx="6.5">(light days)</tspan></text></g>
<g clip-path="url(#c6)">
<path d="M396.2,166.00 L396.8,166.00 L397.2,165.99 L397.8,165.99 L398.2,165.99 L398.8,165.98 L399.2,165.98 L399.8,165.97 L400.2,165.97 L400.8,165.96 L401.2,165.95 L401.8,165.94 L402.2,165.93 L402.8,165.92 L403.2,165.91 L403.8,165.89 L404.2,165.88 L404.8,165.86 L405.2,165.85 L405.8,165.83 L406.2,165.81 L406.8,165.79 L407.2,165.77 L407.8,165.75 L408.2,165.72 L408.8,165.70 L409.2,165.68 L409.8,165.65 L410.2,165.62 L410.8,165.59 L411.2,165.56 L411.8,165.52 L412.2,165.48 L412.8,165.43 L413.2,165.36 L413.8,165.28 L414.2,165.18 L414.8,165.05 L415.2,164.89 L415.8,164.70 L416.2,164.47 L416.8,164.22 L417.2,163.94 L417.8,163.63 L418.2,163.29 L418.8,162.94 L419.2,162.56 L419.8,162.16 L420.2,161.74 L420.8,161.29 L421.2,160.81 L421.8,160.30 L422.2,159.76 L422.8,159.17 L423.2,158.54 L423.8,157.88 L424.2,157.18 L424.8,156.46 L425.2,155.72 L425.8,154.96 L426.2,154.19 L426.8,153.42 L427.2,152.65 L427.8,151.87 L428.2,151.09 L428.8,150.31 L429.2,149.52 L429.8,148.73 L430.2,147.93 L430.8,147.13 L431.2,146.32 L431.8,145.50 L432.2,144.68 L432.8,143.85 L433.2,143.01 L433.8,142.17 L434.2,141.32 L434.8,140.48 L435.2,139.65 L435.8,138.85 L436.2,138.08 L436.8,137.37 L437.2,136.71 L437.8,136.12 L438.2,135.58 L438.8,135.10 L439.2,134.66 L439.8,134.26 L440.2,133.87 L440.8,133.49 L441.2,133.12 L441.8,132.73 L442.2,132.34 L442.8,131.92 L443.2,131.49 L443.8,131.05 L444.2,130.58 L444.8,130.11 L445.2,129.62 L445.8,129.11 L446.2,128.60 L446.8,128.08 L447.2,127.54 L447.8,126.99 L448.2,126.42 L448.8,125.83 L449.2,125.23 L449.8,124.61 L450.2,123.99 L450.8,123.38 L451.2,122.80 L451.8,122.27 L452.2,121.81 L452.8,121.42 L453.2,121.13 L453.8,120.92 L454.2,120.80 L454.8,120.75 L455.2,120.75 L455.8,120.80 L456.2,120.88 L456.8,120.98 L457.2,121.09 L457.8,121.19 L458.2,121.28 L458.8,121.37 L459.2,121.44 L459.8,121.49 L460.2,121.53 L460.8,121.56 L461.2,121.58 L461.8,121.59 L462.2,121.60 L462.8,121.60 L463.2,121.61 L463.8,121.62 L464.2,121.63 L464.8,121.67 L465.2,121.73 L465.8,121.82 L466.2,121.97 L466.8,122.18 L467.2,122.47 L467.8,122.84 L468.2,123.30 L468.8,123.84 L469.2,124.47 L469.8,125.18 L470.2,125.97 L470.8,126.85 L471.2,127.81 L471.8,128.85 L472.2,129.97 L472.8,131.15 L473.2,132.36 L473.8,133.57 L474.2,134.77 L474.8,135.92 L475.2,137.00 L475.8,138.02 L476.2,138.96 L476.8,139.85 L477.2,140.68 L477.8,141.47 L478.2,142.24 L478.8,142.97 L479.2,143.70 L479.8,144.41 L480.2,145.12 L480.8,145.84 L481.2,146.55 L481.8,147.27 L482.2,148.00 L482.8,148.72 L483.2,149.44 L483.8,150.16 L484.2,150.86 L484.8,151.55 L485.2,152.21 L485.8,152.85 L486.2,153.46 L486.8,154.04 L487.2,154.59 L487.8,155.12 L488.2,155.61 L488.8,156.08 L489.2,156.53 L489.8,156.96 L490.2,157.36 L490.8,157.74 L491.2,158.09 L491.8,158.41 L492.2,158.69 L492.8,158.94 L493.2,159.16 L493.8,159.34 L494.2,159.50 L494.8,159.63 L495.2,159.74 L495.8,159.84 L496.2,159.92 L496.8,160.00 L497.2,160.06 L497.8,160.13 L498.2,160.19 L498.8,160.25 L499.2,160.30 L499.8,160.37 L500.2,160.43 L500.8,160.50 L501.2,160.58 L501.8,160.67 L502.2,160.76 L502.8,160.87 L503.2,160.99 L503.8,161.12 L504.2,161.26 L504.8,161.41 L505.2,161.57 L505.8,161.74 L506.2,161.92 L506.8,162.10 L507.2,162.28 L507.8,162.47 L508.2,162.66 L508.8,162.84 L509.2,163.03 L509.8,163.21 L510.2,163.38 L510.8,163.54 L511.2,163.70 L511.8,163.86 L512.2,164.00 L512.8,164.14 L513.2,164.28 L513.8,164.41 L514.2,164.54 L514.8,164.67 L515.2,164.79 L515.8,164.92 L516.2,165.04 L516.8,165.16 L517.2,165.27 L517.8,165.37 L518.2,165.48 L518.8,165.57 L519.2,165.65 L519.8,165.73 L520.2,165.79 L520.8,165.85 L521.2,165.89 L521.8,165.92 L522.2,165.95 L522.8,165.97 L523.2,165.98 L523.8,165.98 L524.2,165.98 L524.8,165.98 L525.2,165.97 L525.8,165.96 L526.2,165.96 L526.8,165.95 L527.2,165.94 L527.8,165.93 L528.2,165.92 L528.8,165.90 L529.2,165.89 L529.8,165.88 L530.2,165.87 L530.8,165.86 L531.2,165.85 L531.8,165.83 L532.2,165.82 L532.8,165.81 L533.2,165.80 L533.8,165.79 L534.2,165.78 L534.8,165.78 L535.2,165.77 L535.8,165.77 L536.2,165.76 L536.8,165.76 L537.2,165.76 L537.8,165.75 L538.2,165.75 L538.8,165.75 L539.2,165.75 L539.8,165.75 L540.2,165.75 L540.8,165.75 L541.2,165.76 L541.8,165.76 L542.2,165.76 L542.8,165.76 L543.2,165.76 L543.8,165.77 L544.2,165.77 L544.8,165.77 L545.2,165.78 L545.8,165.78 L546.2,165.78 L546.8,165.79 L547.2,165.79 L547.8,165.80 L548.2,165.80 L548.8,165.81 L549.2,165.81 L549.8,165.82 L550.2,165.83 L550.8,165.83 L551.2,165.84 L551.8,165.85 L552.2,165.86 L552.8,165.87 L553.2,165.87 L553.8,165.88 L554.2,165.89 L554.8,165.90 L555.2,165.91 L555.8,165.93 L556.2,165.94 L556.8,165.95 L557.2,165.96 L557.8,165.97 L558.2,165.99 L558.8,166.00" fill="none" stroke="#1f77b4" stroke-width="2.05" stroke-linejoin="round" stroke-linecap="butt"/>
<line x1="439.60" y1="168.90" x2="439.60" y2="108.25" stroke="#1f77b4" stroke-width="1.90" stroke-dasharray="1.92 3.16"/>
<line x1="458.00" y1="168.90" x2="458.00" y2="108.25" stroke="#1f77b4" stroke-width="1.90" stroke-dasharray="7.1 3.05"/>
<line x1="476.90" y1="168.90" x2="476.90" y2="108.25" stroke="#1f77b4" stroke-width="1.90" stroke-dasharray="1.92 3.16"/>
<path d="M396.2,166.00 L396.8,166.00 L397.2,166.00 L397.8,166.00 L398.2,165.99 L398.8,165.99 L399.2,165.99 L399.8,165.98 L400.2,165.98 L400.8,165.98 L401.2,165.97 L401.8,165.97 L402.2,165.96 L402.8,165.95 L403.2,165.94 L403.8,165.94 L404.2,165.93 L404.8,165.92 L405.2,165.91 L405.8,165.90 L406.2,165.88 L406.8,165.87 L407.2,165.86 L407.8,165.84 L408.2,165.83 L408.8,165.81 L409.2,165.80 L409.8,165.78 L410.2,165.76 L410.8,165.74 L411.2,165.72 L411.8,165.70 L412.2,165.68 L412.8,165.66 L413.2,165.63 L413.8,165.61 L414.2,165.58 L414.8,165.55 L415.2,165.52 L415.8,165.48 L416.2,165.44 L416.8,165.38 L417.2,165.30 L417.8,165.20 L418.2,165.07 L418.8,164.90 L419.2,164.70 L419.8,164.46 L420.2,164.19 L420.8,163.88 L421.2,163.54 L421.8,163.17 L422.2,162.77 L422.8,162.34 L423.2,161.89 L423.8,161.39 L424.2,160.86 L424.8,160.28 L425.2,159.66 L425.8,159.00 L426.2,158.29 L426.8,157.55 L427.2,156.78 L427.8,155.98 L428.2,155.16 L428.8,154.33 L429.2,153.49 L429.8,152.65 L430.2,151.79 L430.8,150.93 L431.2,150.06 L431.8,149.19 L432.2,148.32 L432.8,147.44 L433.2,146.58 L433.8,145.72 L434.2,144.88 L434.8,144.06 L435.2,143.26 L435.8,142.48 L436.2,141.72 L436.8,140.97 L437.2,140.22 L437.8,139.45 L438.2,138.67 L438.8,137.84 L439.2,136.97 L439.8,136.03 L440.2,135.03 L440.8,133.95 L441.2,132.82 L441.8,131.63 L442.2,130.40 L442.8,129.16 L443.2,127.91 L443.8,126.69 L444.2,125.51 L444.8,124.37 L445.2,123.27 L445.8,122.23 L446.2,121.24 L446.8,120.28 L447.2,119.37 L447.8,118.50 L448.2,117.67 L448.8,116.89 L449.2,116.16 L449.8,115.47 L450.2,114.84 L450.8,114.25 L451.2,113.72 L451.8,113.22 L452.2,112.78 L452.8,112.38 L453.2,112.02 L453.8,111.72 L454.2,111.47 L454.8,111.28 L455.2,111.14 L455.8,111.07 L456.2,111.06 L456.8,111.10 L457.2,111.19 L457.8,111.31 L458.2,111.48 L458.8,111.68 L459.2,111.91 L459.8,112.17 L460.2,112.46 L460.8,112.80 L461.2,113.17 L461.8,113.60 L462.2,114.09 L462.8,114.63 L463.2,115.24 L463.8,115.91 L464.2,116.64 L464.8,117.43 L465.2,118.26 L465.8,119.13 L466.2,120.06 L466.8,121.02 L467.2,122.04 L467.8,123.11 L468.2,124.23 L468.8,125.39 L469.2,126.60 L469.8,127.83 L470.2,129.08 L470.8,130.31 L471.2,131.52 L471.8,132.68 L472.2,133.79 L472.8,134.86 L473.2,135.89 L473.8,136.90 L474.2,137.93 L474.8,138.98 L475.2,140.09 L475.8,141.26 L476.2,142.50 L476.8,143.78 L477.2,145.10 L477.8,146.41 L478.2,147.71 L478.8,148.95 L479.2,150.13 L479.8,151.23 L480.2,152.24 L480.8,153.17 L481.2,154.02 L481.8,154.80 L482.2,155.51 L482.8,156.15 L483.2,156.73 L483.8,157.23 L484.2,157.67 L484.8,158.04 L485.2,158.36 L485.8,158.63 L486.2,158.87 L486.8,159.06 L487.2,159.24 L487.8,159.39 L488.2,159.52 L488.8,159.63 L489.2,159.72 L489.8,159.79 L490.2,159.85 L490.8,159.89 L491.2,159.90 L491.8,159.90 L492.2,159.89 L492.8,159.86 L493.2,159.81 L493.8,159.76 L494.2,159.69 L494.8,159.62 L495.2,159.54 L495.8,159.46 L496.2,159.38 L496.8,159.29 L497.2,159.21 L497.8,159.13 L498.2,159.06 L498.8,158.99 L499.2,158.94 L499.8,158.90 L500.2,158.87 L500.8,158.86 L501.2,158.87 L501.8,158.90 L502.2,158.96 L502.8,159.03 L503.2,159.13 L503.8,159.25 L504.2,159.39 L504.8,159.54 L505.2,159.71 L505.8,159.88 L506.2,160.06 L506.8,160.25 L507.2,160.44 L507.8,160.63 L508.2,160.82 L508.8,161.02 L509.2,161.22 L509.8,161.43 L510.2,161.64 L510.8,161.86 L511.2,162.09 L511.8,162.32 L512.2,162.55 L512.8,162.79 L513.2,163.02 L513.8,163.25 L514.2,163.47 L514.8,163.67 L515.2,163.87 L515.8,164.04 L516.2,164.20 L516.8,164.34 L517.2,164.45 L517.8,164.54 L518.2,164.61 L518.8,164.66 L519.2,164.70 L519.8,164.72 L520.2,164.73 L520.8,164.74 L521.2,164.75 L521.8,164.75 L522.2,164.75 L522.8,164.75 L523.2,164.75 L523.8,164.75 L524.2,164.75 L524.8,164.75 L525.2,164.75 L525.8,164.75 L526.2,164.75 L526.8,164.75 L527.2,164.75 L527.8,164.75 L528.2,164.75 L528.8,164.75 L529.2,164.75 L529.8,164.75 L530.2,164.75 L530.8,164.75 L531.2,164.75 L531.8,164.75 L532.2,164.75 L532.8,164.75 L533.2,164.75 L533.8,164.76 L534.2,164.76 L534.8,164.77 L535.2,164.79 L535.8,164.81 L536.2,164.83 L536.8,164.86 L537.2,164.90 L537.8,164.95 L538.2,165.00 L538.8,165.06 L539.2,165.12 L539.8,165.18 L540.2,165.25 L540.8,165.31 L541.2,165.37 L541.8,165.44 L542.2,165.49 L542.8,165.55 L543.2,165.60 L543.8,165.64 L544.2,165.68 L544.8,165.71 L545.2,165.74 L545.8,165.76 L546.2,165.78 L546.8,165.80 L547.2,165.81 L547.8,165.83 L548.2,165.84 L548.8,165.86 L549.2,165.87 L549.8,165.88 L550.2,165.89 L550.8,165.90 L551.2,165.91 L551.8,165.92 L552.2,165.93 L552.8,165.94 L553.2,165.95 L553.8,165.96 L554.2,165.97 L554.8,165.97 L555.2,165.98 L555.8,165.98 L556.2,165.99 L556.8,165.99 L557.2,165.99 L557.8,166.00 L558.2,166.00 L558.8,166.00" fill="none" stroke="#ff7f0e" stroke-width="2.05" stroke-linejoin="round" stroke-linecap="butt"/>
<line x1="442.90" y1="168.90" x2="442.90" y2="108.25" stroke="#ff7f0e" stroke-width="1.90" stroke-dasharray="1.92 3.16"/>
<line x1="458.10" y1="168.90" x2="458.10" y2="108.25" stroke="#ff7f0e" stroke-width="1.90" stroke-dasharray="7.1 3.05"/>
<line x1="476.00" y1="168.90" x2="476.00" y2="108.25" stroke="#ff7f0e" stroke-width="1.90" stroke-dasharray="1.92 3.16"/>
</g>
<rect x="389.00" y="108.25" width="177.60" height="60.65" fill="none" stroke="#000" stroke-width="1.30"/>
<line x1="412.75" y1="168.90" x2="412.75" y2="173.90" stroke="#000" stroke-width="1.30"/>
<text x="412.75" y="189.00" font-size="12.9" text-anchor="middle">0</text>
<line x1="451.90" y1="168.90" x2="451.90" y2="173.90" stroke="#000" stroke-width="1.30"/>
<text x="451.90" y="189.00" font-size="12.9" text-anchor="middle">10</text>
<line x1="491.05" y1="168.90" x2="491.05" y2="173.90" stroke="#000" stroke-width="1.30"/>
<text x="491.05" y="189.00" font-size="12.9" text-anchor="middle">20</text>
<line x1="530.20" y1="168.90" x2="530.20" y2="173.90" stroke="#000" stroke-width="1.30"/>
<text x="530.20" y="189.00" font-size="12.9" text-anchor="middle">30</text>
<g transform="matrix(1.1171 0 0 1 -51.826 0)"><text x="438.60" y="206.30" font-size="14.2"><tspan font-style="italic">τ</tspan><tspan font-size="10.2" dy="2.2" dx="1.6">mean</tspan><tspan dy="-2.2" dx="6.5">(days)</tspan></text></g>
<g clip-path="url(#c7)">
<path d="M589.4,166.00 L589.9,166.00 L590.4,165.99 L590.9,165.99 L591.4,165.99 L591.9,165.98 L592.4,165.97 L592.9,165.97 L593.4,165.96 L593.9,165.95 L594.4,165.94 L594.9,165.92 L595.4,165.91 L595.9,165.89 L596.4,165.88 L596.9,165.86 L597.4,165.84 L597.9,165.82 L598.4,165.80 L598.9,165.78 L599.4,165.75 L599.9,165.73 L600.4,165.70 L600.9,165.67 L601.4,165.64 L601.9,165.61 L602.4,165.58 L602.9,165.54 L603.4,165.50 L603.9,165.45 L604.4,165.39 L604.9,165.31 L605.4,165.21 L605.9,165.09 L606.4,164.94 L606.9,164.77 L607.4,164.56 L607.9,164.32 L608.4,164.05 L608.9,163.75 L609.4,163.43 L609.9,163.07 L610.4,162.69 L610.9,162.27 L611.4,161.82 L611.9,161.33 L612.4,160.79 L612.9,160.19 L613.4,159.53 L613.9,158.80 L614.4,157.99 L614.9,157.10 L615.4,156.14 L615.9,155.12 L616.4,154.02 L616.9,152.87 L617.4,151.66 L617.9,150.39 L618.4,149.05 L618.9,147.65 L619.4,146.18 L619.9,144.65 L620.4,143.06 L620.9,141.44 L621.4,139.79 L621.9,138.14 L622.4,136.52 L622.9,134.95 L623.4,133.45 L623.9,132.05 L624.4,130.76 L624.9,129.59 L625.4,128.56 L625.9,127.65 L626.4,126.85 L626.9,126.14 L627.4,125.51 L627.9,124.94 L628.4,124.41 L628.9,123.92 L629.4,123.46 L629.9,123.01 L630.4,122.58 L630.9,122.16 L631.4,121.74 L631.9,121.33 L632.4,120.94 L632.9,120.56 L633.4,120.19 L633.9,119.85 L634.4,119.54 L634.9,119.26 L635.4,119.03 L635.9,118.83 L636.4,118.69 L636.9,118.59 L637.4,118.55 L637.9,118.56 L638.4,118.62 L638.9,118.72 L639.4,118.87 L639.9,119.05 L640.4,119.25 L640.9,119.47 L641.4,119.69 L641.9,119.91 L642.4,120.12 L642.9,120.31 L643.4,120.47 L643.9,120.60 L644.4,120.68 L644.9,120.72 L645.4,120.71 L645.9,120.66 L646.4,120.56 L646.9,120.44 L647.4,120.29 L647.9,120.13 L648.4,119.96 L648.9,119.81 L649.4,119.68 L649.9,119.58 L650.4,119.55 L650.9,119.58 L651.4,119.69 L651.9,119.91 L652.4,120.22 L652.9,120.63 L653.4,121.14 L653.9,121.74 L654.4,122.41 L654.9,123.13 L655.4,123.88 L655.9,124.66 L656.4,125.44 L656.9,126.22 L657.4,126.99 L657.9,127.75 L658.4,128.50 L658.9,129.25 L659.4,129.99 L659.9,130.73 L660.4,131.48 L660.9,132.23 L661.4,132.98 L661.9,133.74 L662.4,134.50 L662.9,135.27 L663.4,136.04 L663.9,136.82 L664.4,137.61 L664.9,138.40 L665.4,139.20 L665.9,140.01 L666.4,140.83 L666.9,141.65 L667.4,142.48 L667.9,143.30 L668.4,144.11 L668.9,144.91 L669.4,145.69 L669.9,146.45 L670.4,147.19 L670.9,147.90 L671.4,148.59 L671.9,149.25 L672.4,149.90 L672.9,150.52 L673.4,151.13 L673.9,151.70 L674.4,152.25 L674.9,152.77 L675.4,153.24 L675.9,153.68 L676.4,154.07 L676.9,154.42 L677.4,154.73 L677.9,154.99 L678.4,155.22 L678.9,155.42 L679.4,155.60 L679.9,155.76 L680.4,155.90 L680.9,156.03 L681.4,156.15 L681.9,156.26 L682.4,156.37 L682.9,156.48 L683.4,156.58 L683.9,156.69 L684.4,156.80 L684.9,156.92 L685.4,157.04 L685.9,157.18 L686.4,157.33 L686.9,157.49 L687.4,157.67 L687.9,157.87 L688.4,158.09 L688.9,158.33 L689.4,158.59 L689.9,158.87 L690.4,159.16 L690.9,159.47 L691.4,159.78 L691.9,160.10 L692.4,160.43 L692.9,160.75 L693.4,161.07 L693.9,161.37 L694.4,161.67 L694.9,161.95 L695.4,162.22 L695.9,162.46 L696.4,162.69 L696.9,162.89 L697.4,163.08 L697.9,163.25 L698.4,163.40 L698.9,163.55 L699.4,163.68 L699.9,163.81 L700.4,163.93 L700.9,164.04 L701.4,164.14 L701.9,164.23 L702.4,164.31 L702.9,164.38 L703.4,164.44 L703.9,164.49 L704.4,164.52 L704.9,164.55 L705.4,164.57 L705.9,164.58 L706.4,164.58 L706.9,164.58 L707.4,164.58 L707.9,164.58 L708.4,164.57 L708.9,164.56 L709.4,164.56 L709.9,164.55 L710.4,164.54 L710.9,164.54 L711.4,164.53 L711.9,164.53 L712.4,164.52 L712.9,164.52 L713.4,164.51 L713.9,164.51 L714.4,164.52 L714.9,164.52 L715.4,164.53 L715.9,164.55 L716.4,164.57 L716.9,164.59 L717.4,164.62 L717.9,164.66 L718.4,164.70 L718.9,164.75 L719.4,164.80 L719.9,164.85 L720.4,164.91 L720.9,164.96 L721.4,165.02 L721.9,165.08 L722.4,165.14 L722.9,165.20 L723.4,165.25 L723.9,165.31 L724.4,165.36 L724.9,165.41 L725.4,165.45 L725.9,165.49 L726.4,165.52 L726.9,165.55 L727.4,165.58 L727.9,165.60 L728.4,165.62 L728.9,165.64 L729.4,165.65 L729.9,165.67 L730.4,165.68 L730.9,165.70 L731.4,165.71 L731.9,165.72 L732.4,165.74 L732.9,165.75 L733.4,165.76 L733.9,165.77 L734.4,165.79 L734.9,165.80 L735.4,165.81 L735.9,165.82 L736.4,165.83 L736.9,165.84 L737.4,165.85 L737.9,165.86 L738.4,165.87 L738.9,165.88 L739.4,165.89 L739.9,165.90 L740.4,165.91 L740.9,165.91 L741.4,165.92 L741.9,165.93 L742.4,165.94 L742.9,165.94 L743.4,165.95 L743.9,165.95 L744.4,165.96 L744.9,165.97 L745.4,165.97 L745.9,165.97 L746.4,165.98 L746.9,165.98 L747.4,165.99 L747.9,165.99 L748.4,165.99 L748.9,165.99 L749.4,166.00 L749.9,166.00 L750.4,166.00 L750.9,166.00 L751.2,166.00" fill="none" stroke="#1f77b4" stroke-width="2.05" stroke-linejoin="round" stroke-linecap="butt"/>
<line x1="627.75" y1="168.90" x2="627.75" y2="108.25" stroke="#1f77b4" stroke-width="1.90" stroke-dasharray="1.92 3.16"/>
<line x1="645.40" y1="168.90" x2="645.40" y2="108.25" stroke="#1f77b4" stroke-width="1.90" stroke-dasharray="7.1 3.05"/>
<line x1="666.20" y1="168.90" x2="666.20" y2="108.25" stroke="#1f77b4" stroke-width="1.90" stroke-dasharray="1.92 3.16"/>
<path d="M589.4,166.00 L589.9,166.00 L590.4,166.00 L590.9,166.00 L591.4,165.99 L591.9,165.99 L592.4,165.99 L592.9,165.98 L593.4,165.98 L593.9,165.98 L594.4,165.97 L594.9,165.96 L595.4,165.96 L595.9,165.95 L596.4,165.94 L596.9,165.93 L597.4,165.92 L597.9,165.91 L598.4,165.90 L598.9,165.89 L599.4,165.88 L599.9,165.86 L600.4,165.85 L600.9,165.83 L601.4,165.82 L601.9,165.80 L602.4,165.78 L602.9,165.77 L603.4,165.75 L603.9,165.73 L604.4,165.70 L604.9,165.68 L605.4,165.66 L605.9,165.63 L606.4,165.61 L606.9,165.58 L607.4,165.55 L607.9,165.51 L608.4,165.47 L608.9,165.41 L609.4,165.33 L609.9,165.23 L610.4,165.09 L610.9,164.91 L611.4,164.68 L611.9,164.41 L612.4,164.08 L612.9,163.71 L613.4,163.29 L613.9,162.83 L614.4,162.33 L614.9,161.79 L615.4,161.21 L615.9,160.58 L616.4,159.91 L616.9,159.18 L617.4,158.38 L617.9,157.52 L618.4,156.60 L618.9,155.61 L619.4,154.56 L619.9,153.46 L620.4,152.31 L620.9,151.11 L621.4,149.86 L621.9,148.58 L622.4,147.24 L622.9,145.87 L623.4,144.45 L623.9,142.99 L624.4,141.50 L624.9,139.99 L625.4,138.49 L625.9,136.99 L626.4,135.53 L626.9,134.13 L627.4,132.79 L627.9,131.53 L628.4,130.35 L628.9,129.24 L629.4,128.22 L629.9,127.26 L630.4,126.38 L630.9,125.54 L631.4,124.77 L631.9,124.03 L632.4,123.34 L632.9,122.69 L633.4,122.07 L633.9,121.48 L634.4,120.92 L634.9,120.38 L635.4,119.88 L635.9,119.39 L636.4,118.93 L636.9,118.50 L637.4,118.09 L637.9,117.70 L638.4,117.32 L638.9,116.97 L639.4,116.63 L639.9,116.31 L640.4,116.00 L640.9,115.70 L641.4,115.41 L641.9,115.12 L642.4,114.85 L642.9,114.58 L643.4,114.32 L643.9,114.05 L644.4,113.79 L644.9,113.52 L645.4,113.26 L645.9,112.99 L646.4,112.72 L646.9,112.45 L647.4,112.19 L647.9,111.95 L648.4,111.72 L648.9,111.52 L649.4,111.36 L649.9,111.25 L650.4,111.21 L650.9,111.24 L651.4,111.36 L651.9,111.59 L652.4,111.92 L652.9,112.36 L653.4,112.90 L653.9,113.55 L654.4,114.27 L654.9,115.07 L655.4,115.92 L655.9,116.81 L656.4,117.74 L656.9,118.69 L657.4,119.66 L657.9,120.67 L658.4,121.70 L658.9,122.76 L659.4,123.86 L659.9,124.99 L660.4,126.14 L660.9,127.32 L661.4,128.52 L661.9,129.72 L662.4,130.92 L662.9,132.11 L663.4,133.28 L663.9,134.43 L664.4,135.55 L664.9,136.65 L665.4,137.72 L665.9,138.77 L666.4,139.80 L666.9,140.81 L667.4,141.79 L667.9,142.75 L668.4,143.69 L668.9,144.59 L669.4,145.45 L669.9,146.28 L670.4,147.07 L670.9,147.82 L671.4,148.53 L671.9,149.21 L672.4,149.86 L672.9,150.48 L673.4,151.07 L673.9,151.63 L674.4,152.16 L674.9,152.65 L675.4,153.10 L675.9,153.51 L676.4,153.88 L676.9,154.21 L677.4,154.50 L677.9,154.75 L678.4,154.97 L678.9,155.16 L679.4,155.33 L679.9,155.48 L680.4,155.61 L680.9,155.73 L681.4,155.85 L681.9,155.96 L682.4,156.06 L682.9,156.16 L683.4,156.26 L683.9,156.37 L684.4,156.47 L684.9,156.59 L685.4,156.71 L685.9,156.84 L686.4,156.99 L686.9,157.15 L687.4,157.33 L687.9,157.53 L688.4,157.75 L688.9,157.99 L689.4,158.25 L689.9,158.54 L690.4,158.83 L690.9,159.15 L691.4,159.47 L691.9,159.80 L692.4,160.13 L692.9,160.45 L693.4,160.78 L693.9,161.09 L694.4,161.39 L694.9,161.67 L695.4,161.93 L695.9,162.18 L696.4,162.40 L696.9,162.59 L697.4,162.77 L697.9,162.93 L698.4,163.07 L698.9,163.20 L699.4,163.32 L699.9,163.43 L700.4,163.53 L700.9,163.62 L701.4,163.71 L701.9,163.79 L702.4,163.86 L702.9,163.92 L703.4,163.97 L703.9,164.00 L704.4,164.03 L704.9,164.05 L705.4,164.06 L705.9,164.06 L706.4,164.06 L706.9,164.05 L707.4,164.03 L707.9,164.02 L708.4,164.00 L708.9,163.98 L709.4,163.95 L709.9,163.93 L710.4,163.91 L710.9,163.88 L711.4,163.86 L711.9,163.84 L712.4,163.82 L712.9,163.81 L713.4,163.79 L713.9,163.79 L714.4,163.79 L714.9,163.79 L715.4,163.80 L715.9,163.82 L716.4,163.85 L716.9,163.89 L717.4,163.94 L717.9,163.99 L718.4,164.05 L718.9,164.12 L719.4,164.20 L719.9,164.28 L720.4,164.36 L720.9,164.45 L721.4,164.53 L721.9,164.62 L722.4,164.71 L722.9,164.80 L723.4,164.88 L723.9,164.96 L724.4,165.04 L724.9,165.11 L725.4,165.17 L725.9,165.23 L726.4,165.28 L726.9,165.33 L727.4,165.37 L727.9,165.40 L728.4,165.43 L728.9,165.46 L729.4,165.48 L729.9,165.50 L730.4,165.52 L730.9,165.55 L731.4,165.57 L731.9,165.59 L732.4,165.60 L732.9,165.62 L733.4,165.64 L733.9,165.66 L734.4,165.68 L734.9,165.70 L735.4,165.71 L735.9,165.73 L736.4,165.75 L736.9,165.76 L737.4,165.78 L737.9,165.79 L738.4,165.81 L738.9,165.82 L739.4,165.83 L739.9,165.85 L740.4,165.86 L740.9,165.87 L741.4,165.88 L741.9,165.89 L742.4,165.90 L742.9,165.91 L743.4,165.92 L743.9,165.93 L744.4,165.94 L744.9,165.95 L745.4,165.96 L745.9,165.96 L746.4,165.97 L746.9,165.97 L747.4,165.98 L747.9,165.98 L748.4,165.99 L748.9,165.99 L749.4,165.99 L749.9,165.99 L750.4,166.00 L750.9,166.00 L751.2,166.00" fill="none" stroke="#ff7f0e" stroke-width="2.05" stroke-linejoin="round" stroke-linecap="butt"/>
<line x1="632.10" y1="168.90" x2="632.10" y2="108.25" stroke="#ff7f0e" stroke-width="1.90" stroke-dasharray="1.92 3.16"/>
<line x1="648.75" y1="168.90" x2="648.75" y2="108.25" stroke="#ff7f0e" stroke-width="1.90" stroke-dasharray="7.1 3.05"/>
<line x1="666.80" y1="168.90" x2="666.80" y2="108.25" stroke="#ff7f0e" stroke-width="1.90" stroke-dasharray="1.92 3.16"/>
</g>
<rect x="582.20" y="108.25" width="177.00" height="60.65" fill="none" stroke="#000" stroke-width="1.30"/>
<line x1="608.50" y1="168.90" x2="608.50" y2="173.90" stroke="#000" stroke-width="1.30"/>
<text x="608.50" y="189.00" font-size="12.9" text-anchor="middle">0</text>
<line x1="660.05" y1="168.90" x2="660.05" y2="173.90" stroke="#000" stroke-width="1.30"/>
<text x="660.05" y="189.00" font-size="12.9" text-anchor="middle">5</text>
<line x1="711.60" y1="168.90" x2="711.60" y2="173.90" stroke="#000" stroke-width="1.30"/>
<text x="711.60" y="189.00" font-size="12.9" text-anchor="middle">10</text>
<g transform="matrix(1.1338 0 0 1 -84.805 0)"><text x="627.20" y="206.30" font-size="14.2"><tspan font-style="italic">τ</tspan><tspan font-size="10.2" dy="2.2" dx="1.6">median</tspan><tspan dy="-2.2" dx="6.5">(days)</tspan></text></g>
<g clip-path="url(#c8)">
<path d="M10.6,273.00 L11.1,273.00 L11.6,273.00 L12.1,273.00 L12.6,272.99 L13.1,272.99 L13.6,272.99 L14.1,272.99 L14.6,272.98 L15.1,272.98 L15.6,272.97 L16.1,272.97 L16.6,272.96 L17.1,272.96 L17.6,272.95 L18.1,272.95 L18.6,272.94 L19.1,272.93 L19.6,272.92 L20.1,272.92 L20.6,272.91 L21.1,272.90 L21.6,272.89 L22.1,272.88 L22.6,272.87 L23.1,272.86 L23.6,272.85 L24.1,272.84 L24.6,272.82 L25.1,272.81 L25.6,272.80 L26.1,272.79 L26.6,272.77 L27.1,272.76 L27.6,272.75 L28.1,272.73 L28.6,272.72 L29.1,272.70 L29.6,272.69 L30.1,272.67 L30.6,272.65 L31.1,272.64 L31.6,272.62 L32.1,272.60 L32.6,272.59 L33.1,272.57 L33.6,272.55 L34.1,272.53 L34.6,272.51 L35.1,272.49 L35.6,272.47 L36.1,272.45 L36.6,272.43 L37.1,272.40 L37.6,272.37 L38.1,272.33 L38.6,272.29 L39.1,272.24 L39.6,272.18 L40.1,272.12 L40.6,272.05 L41.1,271.97 L41.6,271.89 L42.1,271.81 L42.6,271.71 L43.1,271.62 L43.6,271.53 L44.1,271.43 L44.6,271.33 L45.1,271.23 L45.6,271.13 L46.1,271.04 L46.6,270.94 L47.1,270.85 L47.6,270.77 L48.1,270.69 L48.6,270.61 L49.1,270.54 L49.6,270.48 L50.1,270.43 L50.6,270.39 L51.1,270.35 L51.6,270.33 L52.1,270.31 L52.6,270.31 L53.1,270.31 L53.6,270.32 L54.1,270.35 L54.6,270.38 L55.1,270.41 L55.6,270.45 L56.1,270.49 L56.6,270.53 L57.1,270.57 L57.6,270.60 L58.1,270.63 L58.6,270.65 L59.1,270.65 L59.6,270.64 L60.1,270.61 L60.6,270.56 L61.1,270.48 L61.6,270.38 L62.1,270.26 L62.6,270.11 L63.1,269.95 L63.6,269.77 L64.1,269.57 L64.6,269.37 L65.1,269.15 L65.6,268.91 L66.1,268.67 L66.6,268.40 L67.1,268.13 L67.6,267.83 L68.1,267.53 L68.6,267.21 L69.1,266.88 L69.6,266.55 L70.1,266.21 L70.6,265.86 L71.1,265.52 L71.6,265.18 L72.1,264.84 L72.6,264.51 L73.1,264.19 L73.6,263.88 L74.1,263.58 L74.6,263.29 L75.1,263.01 L75.6,262.74 L76.1,262.48 L76.6,262.23 L77.1,261.99 L77.6,261.76 L78.1,261.53 L78.6,261.30 L79.1,261.08 L79.6,260.87 L80.1,260.65 L80.6,260.44 L81.1,260.23 L81.6,260.01 L82.1,259.80 L82.6,259.59 L83.1,259.38 L83.6,259.17 L84.1,258.95 L84.6,258.73 L85.1,258.51 L85.6,258.28 L86.1,258.05 L86.6,257.82 L87.1,257.58 L87.6,257.34 L88.1,257.09 L88.6,256.85 L89.1,256.60 L89.6,256.35 L90.1,256.09 L90.6,255.83 L91.1,255.57 L91.6,255.29 L92.1,255.01 L92.6,254.72 L93.1,254.42 L93.6,254.11 L94.1,253.78 L94.6,253.43 L95.1,253.07 L95.6,252.68 L96.1,252.28 L96.6,251.85 L97.1,251.41 L97.6,250.94 L98.1,250.45 L98.6,249.95 L99.1,249.43 L99.6,248.89 L100.1,248.34 L100.6,247.79 L101.1,247.22 L101.6,246.64 L102.1,246.06 L102.6,245.48 L103.1,244.90 L103.6,244.31 L104.1,243.73 L104.6,243.15 L105.1,242.58 L105.6,242.01 L106.1,241.45 L106.6,240.89 L107.1,240.34 L107.6,239.79 L108.1,239.24 L108.6,238.69 L109.1,238.14 L109.6,237.58 L110.1,237.02 L110.6,236.45 L111.1,235.88 L111.6,235.31 L112.1,234.75 L112.6,234.18 L113.1,233.62 L113.6,233.07 L114.1,232.53 L114.6,232.00 L115.1,231.48 L115.6,230.98 L116.1,230.50 L116.6,230.03 L117.1,229.59 L117.6,229.18 L118.1,228.79 L118.6,228.42 L119.1,228.08 L119.6,227.78 L120.1,227.49 L120.6,227.24 L121.1,227.01 L121.6,226.80 L122.1,226.60 L122.6,226.42 L123.1,226.25 L123.6,226.08 L124.1,225.91 L124.6,225.74 L125.1,225.55 L125.6,225.35 L126.1,225.12 L126.6,224.86 L127.1,224.56 L127.6,224.22 L128.1,223.83 L128.6,223.40 L129.1,222.93 L129.6,222.44 L130.1,221.93 L130.6,221.43 L131.1,220.94 L131.6,220.49 L132.1,220.07 L132.6,219.70 L133.1,219.37 L133.6,219.08 L134.1,218.82 L134.6,218.60 L135.1,218.41 L135.6,218.25 L136.1,218.13 L136.6,218.05 L137.1,218.01 L137.6,218.02 L138.1,218.07 L138.6,218.19 L139.1,218.38 L139.6,218.65 L140.1,219.03 L140.6,219.53 L141.1,220.19 L141.6,221.03 L142.1,222.06 L142.6,223.29 L143.1,224.69 L143.6,226.26 L144.1,227.97 L144.6,229.78 L145.1,231.67 L145.6,233.62 L146.1,235.61 L146.6,237.63 L147.1,239.66 L147.6,241.69 L148.1,243.71 L148.6,245.71 L149.1,247.69 L149.6,249.63 L150.1,251.53 L150.6,253.39 L151.1,255.18 L151.6,256.90 L152.1,258.54 L152.6,260.09 L153.1,261.53 L153.6,262.87 L154.1,264.09 L154.6,265.19 L155.1,266.19 L155.6,267.08 L156.1,267.87 L156.6,268.57 L157.1,269.18 L157.6,269.72 L158.1,270.18 L158.6,270.59 L159.1,270.94 L159.6,271.24 L160.1,271.51 L160.6,271.74 L161.1,271.94 L161.6,272.12 L162.1,272.28 L162.6,272.42 L163.1,272.54 L163.6,272.64 L164.1,272.72 L164.6,272.79 L165.1,272.84 L165.6,272.87 L166.1,272.90 L166.6,272.92 L167.1,272.94 L167.6,272.95 L168.1,272.96 L168.6,272.97 L169.1,272.98 L169.6,272.98 L170.1,272.99 L170.6,272.99 L171.1,272.99 L171.6,273.00 L172.1,273.00 L172.5,273.00" fill="none" stroke="#1f77b4" stroke-width="2.05" stroke-linejoin="round" stroke-linecap="butt"/>
<line x1="97.75" y1="275.90" x2="97.75" y2="215.25" stroke="#1f77b4" stroke-width="1.90" stroke-dasharray="1.92 3.16"/>
<line x1="123.50" y1="275.90" x2="123.50" y2="215.25" stroke="#1f77b4" stroke-width="1.90" stroke-dasharray="7.1 3.05"/>
<path d="M10.6,273.00 L11.1,273.00 L11.6,273.00 L12.1,272.99 L12.6,272.99 L13.1,272.99 L13.6,272.98 L14.1,272.98 L14.6,272.97 L15.1,272.97 L15.6,272.96 L16.1,272.95 L16.6,272.95 L17.1,272.94 L17.6,272.93 L18.1,272.92 L18.6,272.91 L19.1,272.90 L19.6,272.89 L20.1,272.88 L20.6,272.87 L21.1,272.86 L21.6,272.84 L22.1,272.83 L22.6,272.82 L23.1,272.80 L23.6,272.79 L24.1,272.77 L24.6,272.75 L25.1,272.74 L25.6,272.71 L26.1,272.69 L26.6,272.66 L27.1,272.63 L27.6,272.60 L28.1,272.57 L28.6,272.53 L29.1,272.49 L29.6,272.44 L30.1,272.39 L30.6,272.34 L31.1,272.29 L31.6,272.24 L32.1,272.18 L32.6,272.12 L33.1,272.06 L33.6,272.00 L34.1,271.94 L34.6,271.88 L35.1,271.81 L35.6,271.75 L36.1,271.68 L36.6,271.61 L37.1,271.55 L37.6,271.47 L38.1,271.40 L38.6,271.32 L39.1,271.24 L39.6,271.16 L40.1,271.08 L40.6,270.99 L41.1,270.90 L41.6,270.80 L42.1,270.70 L42.6,270.60 L43.1,270.50 L43.6,270.40 L44.1,270.29 L44.6,270.18 L45.1,270.08 L45.6,269.97 L46.1,269.86 L46.6,269.75 L47.1,269.64 L47.6,269.53 L48.1,269.42 L48.6,269.31 L49.1,269.20 L49.6,269.09 L50.1,268.99 L50.6,268.88 L51.1,268.78 L51.6,268.68 L52.1,268.58 L52.6,268.48 L53.1,268.38 L53.6,268.28 L54.1,268.18 L54.6,268.08 L55.1,267.98 L55.6,267.87 L56.1,267.76 L56.6,267.64 L57.1,267.52 L57.6,267.40 L58.1,267.26 L58.6,267.12 L59.1,266.97 L59.6,266.81 L60.1,266.63 L60.6,266.44 L61.1,266.24 L61.6,266.02 L62.1,265.79 L62.6,265.55 L63.1,265.29 L63.6,265.03 L64.1,264.76 L64.6,264.50 L65.1,264.23 L65.6,263.96 L66.1,263.70 L66.6,263.44 L67.1,263.18 L67.6,262.92 L68.1,262.66 L68.6,262.40 L69.1,262.15 L69.6,261.89 L70.1,261.64 L70.6,261.39 L71.1,261.13 L71.6,260.89 L72.1,260.64 L72.6,260.39 L73.1,260.15 L73.6,259.92 L74.1,259.68 L74.6,259.45 L75.1,259.23 L75.6,259.01 L76.1,258.79 L76.6,258.58 L77.1,258.38 L77.6,258.17 L78.1,257.97 L78.6,257.77 L79.1,257.58 L79.6,257.38 L80.1,257.19 L80.6,257.00 L81.1,256.81 L81.6,256.62 L82.1,256.43 L82.6,256.24 L83.1,256.04 L83.6,255.85 L84.1,255.65 L84.6,255.45 L85.1,255.25 L85.6,255.05 L86.1,254.84 L86.6,254.62 L87.1,254.41 L87.6,254.18 L88.1,253.96 L88.6,253.73 L89.1,253.50 L89.6,253.26 L90.1,253.02 L90.6,252.78 L91.1,252.53 L91.6,252.28 L92.1,252.03 L92.6,251.77 L93.1,251.51 L93.6,251.25 L94.1,250.98 L94.6,250.70 L95.1,250.43 L95.6,250.15 L96.1,249.87 L96.6,249.59 L97.1,249.30 L97.6,249.01 L98.1,248.72 L98.6,248.42 L99.1,248.12 L99.6,247.82 L100.1,247.51 L100.6,247.20 L101.1,246.89 L101.6,246.57 L102.1,246.25 L102.6,245.92 L103.1,245.58 L103.6,245.24 L104.1,244.89 L104.6,244.54 L105.1,244.18 L105.6,243.81 L106.1,243.43 L106.6,243.04 L107.1,242.63 L107.6,242.21 L108.1,241.77 L108.6,241.31 L109.1,240.83 L109.6,240.33 L110.1,239.80 L110.6,239.26 L111.1,238.71 L111.6,238.14 L112.1,237.56 L112.6,236.97 L113.1,236.38 L113.6,235.80 L114.1,235.21 L114.6,234.64 L115.1,234.07 L115.6,233.52 L116.1,232.99 L116.6,232.48 L117.1,231.99 L117.6,231.53 L118.1,231.10 L118.6,230.70 L119.1,230.33 L119.6,229.99 L120.1,229.67 L120.6,229.38 L121.1,229.11 L121.6,228.86 L122.1,228.62 L122.6,228.40 L123.1,228.19 L123.6,227.99 L124.1,227.80 L124.6,227.62 L125.1,227.46 L125.6,227.30 L126.1,227.15 L126.6,227.01 L127.1,226.88 L127.6,226.76 L128.1,226.64 L128.6,226.52 L129.1,226.42 L129.6,226.31 L130.1,226.21 L130.6,226.12 L131.1,226.03 L131.6,225.95 L132.1,225.88 L132.6,225.83 L133.1,225.78 L133.6,225.76 L134.1,225.76 L134.6,225.79 L135.1,225.85 L135.6,225.96 L136.1,226.11 L136.6,226.31 L137.1,226.56 L137.6,226.85 L138.1,227.19 L138.6,227.56 L139.1,227.98 L139.6,228.43 L140.1,228.92 L140.6,229.45 L141.1,230.02 L141.6,230.64 L142.1,231.29 L142.6,231.99 L143.1,232.72 L143.6,233.49 L144.1,234.28 L144.6,235.12 L145.1,235.99 L145.6,236.90 L146.1,237.87 L146.6,238.89 L147.1,239.98 L147.6,241.14 L148.1,242.36 L148.6,243.65 L149.1,245.00 L149.6,246.39 L150.1,247.81 L150.6,249.26 L151.1,250.73 L151.6,252.20 L152.1,253.67 L152.6,255.13 L153.1,256.58 L153.6,257.99 L154.1,259.37 L154.6,260.69 L155.1,261.95 L155.6,263.14 L156.1,264.26 L156.6,265.29 L157.1,266.24 L157.6,267.10 L158.1,267.86 L158.6,268.54 L159.1,269.14 L159.6,269.65 L160.1,270.09 L160.6,270.47 L161.1,270.80 L161.6,271.08 L162.1,271.31 L162.6,271.52 L163.1,271.69 L163.6,271.85 L164.1,271.99 L164.6,272.11 L165.1,272.22 L165.6,272.33 L166.1,272.42 L166.6,272.51 L167.1,272.60 L167.6,272.67 L168.1,272.75 L168.6,272.81 L169.1,272.87 L169.6,272.92 L170.1,272.96 L170.6,273.00 L171.1,273.03 L171.6,273.05 L172.1,273.07 L172.5,273.08" fill="none" stroke="#ff7f0e" stroke-width="2.05" stroke-linejoin="round" stroke-linecap="butt"/>
<line x1="89.10" y1="275.90" x2="89.10" y2="215.25" stroke="#ff7f0e" stroke-width="1.90" stroke-dasharray="1.92 3.16"/>
<line x1="120.60" y1="275.90" x2="120.60" y2="215.25" stroke="#ff7f0e" stroke-width="1.90" stroke-dasharray="7.1 3.05"/>
<line x1="141.25" y1="275.90" x2="141.25" y2="215.25" stroke="#ff7f0e" stroke-width="1.90" stroke-dasharray="1.92 3.16"/>
</g>
<rect x="3.00" y="215.25" width="177.30" height="60.65" fill="none" stroke="#000" stroke-width="1.30"/>
<line x1="6.90" y1="275.90" x2="6.90" y2="280.90" stroke="#000" stroke-width="1.30"/>
<text x="6.90" y="296.00" font-size="12.9" text-anchor="middle">1.2</text>
<line x1="42.45" y1="275.90" x2="42.45" y2="280.90" stroke="#000" stroke-width="1.30"/>
<text x="42.45" y="296.00" font-size="12.9" text-anchor="middle">1.4</text>
<line x1="78.00" y1="275.90" x2="78.00" y2="280.90" stroke="#000" stroke-width="1.30"/>
<text x="78.00" y="296.00" font-size="12.9" text-anchor="middle">1.6</text>
<line x1="113.55" y1="275.90" x2="113.55" y2="280.90" stroke="#000" stroke-width="1.30"/>
<text x="113.55" y="296.00" font-size="12.9" text-anchor="middle">1.8</text>
<line x1="149.10" y1="275.90" x2="149.10" y2="280.90" stroke="#000" stroke-width="1.30"/>
<text x="149.10" y="296.00" font-size="12.9" text-anchor="middle">2.0</text>
<g transform="matrix(1.1714 0 0 1 -15.186 0)"><text x="87.90" y="313.50" font-size="14.2"><tspan font-style="italic">β</tspan></text></g>
<g clip-path="url(#c9)">
<path d="M204.0,253.02 L204.5,252.35 L205.0,251.68 L205.5,251.02 L206.0,250.37 L206.5,249.73 L207.0,249.10 L207.5,248.48 L208.0,247.88 L208.5,247.29 L209.0,246.72 L209.5,246.16 L210.0,245.61 L210.5,245.08 L211.0,244.56 L211.5,244.05 L212.0,243.55 L212.5,243.06 L213.0,242.57 L213.5,242.10 L214.0,241.64 L214.5,241.19 L215.0,240.76 L215.5,240.34 L216.0,239.94 L216.5,239.56 L217.0,239.19 L217.5,238.85 L218.0,238.53 L218.5,238.22 L219.0,237.93 L219.5,237.66 L220.0,237.41 L220.5,237.18 L221.0,236.96 L221.5,236.77 L222.0,236.61 L222.5,236.47 L223.0,236.37 L223.5,236.30 L224.0,236.26 L224.5,236.25 L225.0,236.26 L225.5,236.30 L226.0,236.36 L226.5,236.44 L227.0,236.52 L227.5,236.62 L228.0,236.74 L228.5,236.86 L229.0,236.99 L229.5,237.12 L230.0,237.26 L230.5,237.41 L231.0,237.56 L231.5,237.71 L232.0,237.87 L232.5,238.04 L233.0,238.21 L233.5,238.39 L234.0,238.59 L234.5,238.79 L235.0,239.00 L235.5,239.23 L236.0,239.46 L236.5,239.70 L237.0,239.95 L237.5,240.21 L238.0,240.48 L238.5,240.75 L239.0,241.03 L239.5,241.30 L240.0,241.58 L240.5,241.87 L241.0,242.15 L241.5,242.44 L242.0,242.73 L242.5,243.02 L243.0,243.31 L243.5,243.61 L244.0,243.91 L244.5,244.21 L245.0,244.52 L245.5,244.84 L246.0,245.16 L246.5,245.48 L247.0,245.80 L247.5,246.12 L248.0,246.45 L248.5,246.77 L249.0,247.09 L249.5,247.41 L250.0,247.73 L250.5,248.04 L251.0,248.34 L251.5,248.64 L252.0,248.94 L252.5,249.23 L253.0,249.51 L253.5,249.79 L254.0,250.07 L254.5,250.35 L255.0,250.62 L255.5,250.89 L256.0,251.16 L256.5,251.42 L257.0,251.68 L257.5,251.94 L258.0,252.19 L258.5,252.44 L259.0,252.68 L259.5,252.92 L260.0,253.15 L260.5,253.38 L261.0,253.60 L261.5,253.81 L262.0,254.02 L262.5,254.23 L263.0,254.42 L263.5,254.62 L264.0,254.81 L264.5,255.00 L265.0,255.18 L265.5,255.36 L266.0,255.54 L266.5,255.71 L267.0,255.88 L267.5,256.04 L268.0,256.20 L268.5,256.36 L269.0,256.50 L269.5,256.65 L270.0,256.78 L270.5,256.91 L271.0,257.04 L271.5,257.16 L272.0,257.27 L272.5,257.38 L273.0,257.49 L273.5,257.59 L274.0,257.69 L274.5,257.78 L275.0,257.88 L275.5,257.97 L276.0,258.07 L276.5,258.16 L277.0,258.24 L277.5,258.33 L278.0,258.41 L278.5,258.49 L279.0,258.57 L279.5,258.64 L280.0,258.71 L280.5,258.77 L281.0,258.83 L281.5,258.88 L282.0,258.93 L282.5,258.97 L283.0,259.00 L283.5,259.03 L284.0,259.05 L284.5,259.06 L285.0,259.06 L285.5,259.06 L286.0,259.06 L286.5,259.04 L287.0,259.02 L287.5,259.00 L288.0,258.97 L288.5,258.94 L289.0,258.90 L289.5,258.86 L290.0,258.81 L290.5,258.76 L291.0,258.71 L291.5,258.66 L292.0,258.61 L292.5,258.55 L293.0,258.50 L293.5,258.44 L294.0,258.38 L294.5,258.33 L295.0,258.27 L295.5,258.21 L296.0,258.16 L296.5,258.11 L297.0,258.05 L297.5,258.00 L298.0,257.95 L298.5,257.90 L299.0,257.85 L299.5,257.80 L300.0,257.75 L300.5,257.70 L301.0,257.65 L301.5,257.59 L302.0,257.54 L302.5,257.49 L303.0,257.43 L303.5,257.38 L304.0,257.32 L304.5,257.27 L305.0,257.21 L305.5,257.16 L306.0,257.10 L306.5,257.05 L307.0,257.00 L307.5,256.94 L308.0,256.89 L308.5,256.83 L309.0,256.78 L309.5,256.73 L310.0,256.68 L310.5,256.63 L311.0,256.57 L311.5,256.53 L312.0,256.48 L312.5,256.43 L313.0,256.38 L313.5,256.34 L314.0,256.29 L314.5,256.25 L315.0,256.20 L315.5,256.16 L316.0,256.12 L316.5,256.08 L317.0,256.04 L317.5,256.00 L318.0,255.96 L318.5,255.92 L319.0,255.88 L319.5,255.84 L320.0,255.80 L320.5,255.75 L321.0,255.71 L321.5,255.67 L322.0,255.64 L322.5,255.60 L323.0,255.56 L323.5,255.53 L324.0,255.49 L324.5,255.46 L325.0,255.43 L325.5,255.40 L326.0,255.37 L326.5,255.35 L327.0,255.33 L327.5,255.31 L328.0,255.30 L328.5,255.29 L329.0,255.28 L329.5,255.28 L330.0,255.28 L330.5,255.29 L331.0,255.31 L331.5,255.33 L332.0,255.36 L332.5,255.40 L333.0,255.44 L333.5,255.50 L334.0,255.55 L334.5,255.62 L335.0,255.68 L335.5,255.76 L336.0,255.83 L336.5,255.91 L337.0,255.99 L337.5,256.08 L338.0,256.17 L338.5,256.25 L339.0,256.34 L339.5,256.43 L340.0,256.53 L340.5,256.62 L341.0,256.71 L341.5,256.80 L342.0,256.90 L342.5,256.99 L343.0,257.09 L343.5,257.20 L344.0,257.30 L344.5,257.41 L345.0,257.52 L345.5,257.64 L346.0,257.76 L346.5,257.88 L347.0,258.01 L347.5,258.14 L348.0,258.28 L348.5,258.42 L349.0,258.57 L349.5,258.72 L350.0,258.88 L350.5,259.04 L351.0,259.21 L351.5,259.39 L352.0,259.58 L352.5,259.78 L353.0,260.00 L353.5,260.22 L354.0,260.45 L354.5,260.69 L355.0,260.94 L355.5,261.20 L356.0,261.46 L356.5,261.72 L357.0,261.99 L357.5,262.26 L358.0,262.53 L358.5,262.80 L359.0,263.06 L359.5,263.33 L360.0,263.59 L360.5,263.85 L361.0,264.11 L361.5,264.37 L362.0,264.62 L362.5,264.88 L363.0,265.13 L363.5,265.37 L364.0,265.60 L364.5,265.82 L365.0,266.01 L365.5,266.18 L365.6,266.33" fill="none" stroke="#1f77b4" stroke-width="2.05" stroke-linejoin="round" stroke-linecap="butt"/>
<line x1="222.25" y1="275.90" x2="222.25" y2="215.25" stroke="#1f77b4" stroke-width="1.90" stroke-dasharray="1.92 3.16"/>
<line x1="262.50" y1="275.90" x2="262.50" y2="215.25" stroke="#1f77b4" stroke-width="1.90" stroke-dasharray="7.1 3.05"/>
<line x1="330.25" y1="275.90" x2="330.25" y2="215.25" stroke="#1f77b4" stroke-width="1.90" stroke-dasharray="1.92 3.16"/>
<path d="M204.0,243.65 L204.5,242.42 L205.0,241.20 L205.5,240.01 L206.0,238.84 L206.5,237.70 L207.0,236.59 L207.5,235.51 L208.0,234.47 L208.5,233.46 L209.0,232.49 L209.5,231.54 L210.0,230.63 L210.5,229.75 L211.0,228.90 L211.5,228.07 L212.0,227.26 L212.5,226.49 L213.0,225.75 L213.5,225.05 L214.0,224.38 L214.5,223.76 L215.0,223.19 L215.5,222.66 L216.0,222.17 L216.5,221.72 L217.0,221.30 L217.5,220.91 L218.0,220.55 L218.5,220.20 L219.0,219.88 L219.5,219.58 L220.0,219.30 L220.5,219.05 L221.0,218.83 L221.5,218.63 L222.0,218.47 L222.5,218.35 L223.0,218.26 L223.5,218.21 L224.0,218.19 L224.5,218.20 L225.0,218.25 L225.5,218.33 L226.0,218.44 L226.5,218.57 L227.0,218.72 L227.5,218.89 L228.0,219.07 L228.5,219.27 L229.0,219.48 L229.5,219.71 L230.0,219.94 L230.5,220.19 L231.0,220.45 L231.5,220.73 L232.0,221.02 L232.5,221.33 L233.0,221.67 L233.5,222.03 L234.0,222.41 L234.5,222.81 L235.0,223.23 L235.5,223.67 L236.0,224.12 L236.5,224.59 L237.0,225.06 L237.5,225.54 L238.0,226.03 L238.5,226.52 L239.0,227.02 L239.5,227.52 L240.0,228.03 L240.5,228.55 L241.0,229.07 L241.5,229.60 L242.0,230.14 L242.5,230.69 L243.0,231.25 L243.5,231.82 L244.0,232.40 L244.5,232.98 L245.0,233.56 L245.5,234.15 L246.0,234.73 L246.5,235.31 L247.0,235.89 L247.5,236.46 L248.0,237.03 L248.5,237.59 L249.0,238.14 L249.5,238.68 L250.0,239.21 L250.5,239.74 L251.0,240.26 L251.5,240.77 L252.0,241.28 L252.5,241.79 L253.0,242.30 L253.5,242.80 L254.0,243.30 L254.5,243.79 L255.0,244.28 L255.5,244.77 L256.0,245.25 L256.5,245.73 L257.0,246.20 L257.5,246.67 L258.0,247.13 L258.5,247.59 L259.0,248.03 L259.5,248.48 L260.0,248.91 L260.5,249.34 L261.0,249.75 L261.5,250.17 L262.0,250.57 L262.5,250.97 L263.0,251.36 L263.5,251.75 L264.0,252.14 L264.5,252.52 L265.0,252.89 L265.5,253.26 L266.0,253.63 L266.5,253.99 L267.0,254.35 L267.5,254.71 L268.0,255.05 L268.5,255.40 L269.0,255.73 L269.5,256.06 L270.0,256.39 L270.5,256.71 L271.0,257.02 L271.5,257.32 L272.0,257.61 L272.5,257.90 L273.0,258.18 L273.5,258.45 L274.0,258.71 L274.5,258.97 L275.0,259.22 L275.5,259.46 L276.0,259.69 L276.5,259.92 L277.0,260.14 L277.5,260.36 L278.0,260.58 L278.5,260.78 L279.0,260.99 L279.5,261.19 L280.0,261.38 L280.5,261.57 L281.0,261.75 L281.5,261.92 L282.0,262.09 L282.5,262.25 L283.0,262.41 L283.5,262.56 L284.0,262.70 L284.5,262.84 L285.0,262.97 L285.5,263.10 L286.0,263.22 L286.5,263.33 L287.0,263.44 L287.5,263.55 L288.0,263.65 L288.5,263.75 L289.0,263.85 L289.5,263.94 L290.0,264.04 L290.5,264.13 L291.0,264.21 L291.5,264.30 L292.0,264.38 L292.5,264.47 L293.0,264.55 L293.5,264.63 L294.0,264.71 L294.5,264.79 L295.0,264.86 L295.5,264.94 L296.0,265.02 L296.5,265.10 L297.0,265.18 L297.5,265.26 L298.0,265.34 L298.5,265.42 L299.0,265.50 L299.5,265.58 L300.0,265.67 L300.5,265.75 L301.0,265.84 L301.5,265.92 L302.0,266.01 L302.5,266.10 L303.0,266.19 L303.5,266.28 L304.0,266.37 L304.5,266.46 L305.0,266.55 L305.5,266.64 L306.0,266.72 L306.5,266.81 L307.0,266.90 L307.5,266.99 L308.0,267.07 L308.5,267.16 L309.0,267.24 L309.5,267.32 L310.0,267.41 L310.5,267.48 L311.0,267.56 L311.5,267.64 L312.0,267.71 L312.5,267.78 L313.0,267.85 L313.5,267.92 L314.0,267.99 L314.5,268.05 L315.0,268.11 L315.5,268.16 L316.0,268.22 L316.5,268.27 L317.0,268.31 L317.5,268.36 L318.0,268.40 L318.5,268.43 L319.0,268.47 L319.5,268.50 L320.0,268.52 L320.5,268.54 L321.0,268.56 L321.5,268.57 L322.0,268.58 L322.5,268.58 L323.0,268.58 L323.5,268.57 L324.0,268.57 L324.5,268.56 L325.0,268.54 L325.5,268.53 L326.0,268.51 L326.5,268.49 L327.0,268.46 L327.5,268.44 L328.0,268.41 L328.5,268.38 L329.0,268.36 L329.5,268.33 L330.0,268.30 L330.5,268.27 L331.0,268.24 L331.5,268.22 L332.0,268.19 L332.5,268.16 L333.0,268.14 L333.5,268.11 L334.0,268.09 L334.5,268.07 L335.0,268.06 L335.5,268.04 L336.0,268.03 L336.5,268.03 L337.0,268.02 L337.5,268.02 L338.0,268.03 L338.5,268.04 L339.0,268.05 L339.5,268.07 L340.0,268.10 L340.5,268.13 L341.0,268.16 L341.5,268.20 L342.0,268.24 L342.5,268.29 L343.0,268.34 L343.5,268.39 L344.0,268.45 L344.5,268.51 L345.0,268.57 L345.5,268.63 L346.0,268.70 L346.5,268.76 L347.0,268.83 L347.5,268.90 L348.0,268.97 L348.5,269.04 L349.0,269.11 L349.5,269.18 L350.0,269.26 L350.5,269.33 L351.0,269.41 L351.5,269.49 L352.0,269.58 L352.5,269.66 L353.0,269.75 L353.5,269.85 L354.0,269.95 L354.5,270.05 L355.0,270.15 L355.5,270.26 L356.0,270.37 L356.5,270.48 L357.0,270.60 L357.5,270.72 L358.0,270.84 L358.5,270.96 L359.0,271.09 L359.5,271.22 L360.0,271.36 L360.5,271.49 L361.0,271.63 L361.5,271.77 L362.0,271.91 L362.5,272.06 L363.0,272.20 L363.5,272.34 L364.0,272.47 L364.5,272.60 L365.0,272.71 L365.5,272.81 L365.6,272.90" fill="none" stroke="#ff7f0e" stroke-width="2.05" stroke-linejoin="round" stroke-linecap="butt"/>
<line x1="217.25" y1="275.90" x2="217.25" y2="215.25" stroke="#ff7f0e" stroke-width="1.90" stroke-dasharray="1.92 3.16"/>
<line x1="241.00" y1="275.90" x2="241.00" y2="215.25" stroke="#ff7f0e" stroke-width="1.90" stroke-dasharray="7.1 3.05"/>
<line x1="295.00" y1="275.90" x2="295.00" y2="215.25" stroke="#ff7f0e" stroke-width="1.90" stroke-dasharray="1.92 3.16"/>
</g>
<rect x="196.00" y="215.25" width="177.30" height="60.65" fill="none" stroke="#000" stroke-width="1.30"/>
<line x1="204.00" y1="275.90" x2="204.00" y2="280.90" stroke="#000" stroke-width="1.30"/>
<text x="204.00" y="296.00" font-size="12.9" text-anchor="middle">0.00</text>
<line x1="244.28" y1="275.90" x2="244.28" y2="280.90" stroke="#000" stroke-width="1.30"/>
<text x="244.28" y="296.00" font-size="12.9" text-anchor="middle">0.25</text>
<line x1="284.55" y1="275.90" x2="284.55" y2="280.90" stroke="#000" stroke-width="1.30"/>
<text x="284.55" y="296.00" font-size="12.9" text-anchor="middle">0.50</text>
<line x1="324.82" y1="275.90" x2="324.82" y2="280.90" stroke="#000" stroke-width="1.30"/>
<text x="324.82" y="296.00" font-size="12.9" text-anchor="middle">0.75</text>
<line x1="365.10" y1="275.90" x2="365.10" y2="280.90" stroke="#000" stroke-width="1.30"/>
<text x="365.10" y="296.00" font-size="12.9" text-anchor="middle">1.00</text>
<g transform="matrix(1.0500 0 0 1 -14.400 0)"><text x="281.70" y="313.60" font-size="14.2"><tspan font-style="italic">ξ</tspan></text></g>
<g clip-path="url(#c10)">
<path d="M396.9,231.84 L397.4,230.67 L397.9,229.53 L398.4,228.44 L398.9,227.39 L399.4,226.40 L399.9,225.47 L400.4,224.61 L400.9,223.80 L401.4,223.06 L401.9,222.36 L402.4,221.72 L402.9,221.12 L403.4,220.57 L403.9,220.07 L404.4,219.62 L404.9,219.23 L405.4,218.92 L405.9,218.67 L406.4,218.49 L406.9,218.39 L407.4,218.36 L407.9,218.40 L408.4,218.49 L408.9,218.63 L409.4,218.81 L409.9,219.04 L410.4,219.29 L410.9,219.58 L411.4,219.90 L411.9,220.26 L412.4,220.66 L412.9,221.10 L413.4,221.59 L413.9,222.13 L414.4,222.73 L414.9,223.38 L415.4,224.08 L415.9,224.83 L416.4,225.61 L416.9,226.43 L417.4,227.26 L417.9,228.12 L418.4,228.98 L418.9,229.85 L419.4,230.73 L419.9,231.61 L420.4,232.50 L420.9,233.40 L421.4,234.31 L421.9,235.24 L422.4,236.17 L422.9,237.11 L423.4,238.06 L423.9,239.01 L424.4,239.95 L424.9,240.88 L425.4,241.79 L425.9,242.68 L426.4,243.55 L426.9,244.39 L427.4,245.21 L427.9,246.01 L428.4,246.78 L428.9,247.54 L429.4,248.28 L429.9,249.00 L430.4,249.71 L430.9,250.40 L431.4,251.08 L431.9,251.74 L432.4,252.39 L432.9,253.01 L433.4,253.62 L433.9,254.20 L434.4,254.76 L434.9,255.30 L435.4,255.82 L435.9,256.31 L436.4,256.79 L436.9,257.24 L437.4,257.68 L437.9,258.11 L438.4,258.51 L438.9,258.90 L439.4,259.28 L439.9,259.65 L440.4,259.99 L440.9,260.33 L441.4,260.65 L441.9,260.95 L442.4,261.24 L442.9,261.51 L443.4,261.77 L443.9,262.02 L444.4,262.27 L444.9,262.50 L445.4,262.72 L445.9,262.94 L446.4,263.15 L446.9,263.36 L447.4,263.55 L447.9,263.74 L448.4,263.92 L448.9,264.08 L449.4,264.23 L449.9,264.37 L450.4,264.49 L450.9,264.60 L451.4,264.69 L451.9,264.77 L452.4,264.83 L452.9,264.88 L453.4,264.93 L453.9,264.97 L454.4,265.00 L454.9,265.03 L455.4,265.05 L455.9,265.08 L456.4,265.10 L456.9,265.12 L457.4,265.14 L457.9,265.16 L458.4,265.18 L458.9,265.19 L459.4,265.21 L459.9,265.22 L460.4,265.24 L460.9,265.25 L461.4,265.26 L461.9,265.27 L462.4,265.27 L462.9,265.28 L463.4,265.28 L463.9,265.28 L464.4,265.28 L464.9,265.27 L465.4,265.26 L465.9,265.25 L466.4,265.22 L466.9,265.19 L467.4,265.16 L467.9,265.12 L468.4,265.07 L468.9,265.02 L469.4,264.96 L469.9,264.90 L470.4,264.84 L470.9,264.78 L471.4,264.71 L471.9,264.64 L472.4,264.58 L472.9,264.51 L473.4,264.45 L473.9,264.39 L474.4,264.33 L474.9,264.27 L475.4,264.22 L475.9,264.16 L476.4,264.11 L476.9,264.06 L477.4,264.01 L477.9,263.96 L478.4,263.91 L478.9,263.86 L479.4,263.81 L479.9,263.76 L480.4,263.71 L480.9,263.66 L481.4,263.61 L481.9,263.56 L482.4,263.51 L482.9,263.46 L483.4,263.41 L483.9,263.36 L484.4,263.31 L484.9,263.26 L485.4,263.21 L485.9,263.16 L486.4,263.11 L486.9,263.06 L487.4,263.02 L487.9,262.97 L488.4,262.92 L488.9,262.87 L489.4,262.82 L489.9,262.77 L490.4,262.72 L490.9,262.67 L491.4,262.62 L491.9,262.57 L492.4,262.52 L492.9,262.47 L493.4,262.42 L493.9,262.37 L494.4,262.32 L494.9,262.27 L495.4,262.22 L495.9,262.17 L496.4,262.12 L496.9,262.07 L497.4,262.02 L497.9,261.97 L498.4,261.91 L498.9,261.86 L499.4,261.81 L499.9,261.75 L500.4,261.70 L500.9,261.64 L501.4,261.59 L501.9,261.53 L502.4,261.46 L502.9,261.40 L503.4,261.34 L503.9,261.27 L504.4,261.21 L504.9,261.14 L505.4,261.07 L505.9,261.00 L506.4,260.93 L506.9,260.86 L507.4,260.78 L507.9,260.71 L508.4,260.64 L508.9,260.57 L509.4,260.49 L509.9,260.42 L510.4,260.35 L510.9,260.28 L511.4,260.21 L511.9,260.14 L512.4,260.07 L512.9,260.00 L513.4,259.93 L513.9,259.87 L514.4,259.80 L514.9,259.74 L515.4,259.68 L515.9,259.62 L516.4,259.56 L516.9,259.50 L517.4,259.45 L517.9,259.40 L518.4,259.35 L518.9,259.31 L519.4,259.27 L519.9,259.23 L520.4,259.19 L520.9,259.16 L521.4,259.13 L521.9,259.10 L522.4,259.08 L522.9,259.06 L523.4,259.04 L523.9,259.03 L524.4,259.02 L524.9,259.01 L525.4,259.01 L525.9,259.00 L526.4,259.00 L526.9,259.00 L527.4,259.00 L527.9,259.00 L528.4,259.00 L528.9,259.00 L529.4,259.00 L529.9,259.00 L530.4,259.01 L530.9,259.01 L531.4,259.03 L531.9,259.05 L532.4,259.09 L532.9,259.14 L533.4,259.21 L533.9,259.30 L534.4,259.41 L534.9,259.55 L535.4,259.71 L535.9,259.89 L536.4,260.09 L536.9,260.30 L537.4,260.52 L537.9,260.75 L538.4,260.99 L538.9,261.23 L539.4,261.47 L539.9,261.72 L540.4,261.98 L540.9,262.24 L541.4,262.51 L541.9,262.79 L542.4,263.08 L542.9,263.38 L543.4,263.69 L543.9,264.00 L544.4,264.33 L544.9,264.65 L545.4,264.98 L545.9,265.32 L546.4,265.65 L546.9,265.98 L547.4,266.31 L547.9,266.64 L548.4,266.97 L548.9,267.29 L549.4,267.60 L549.9,267.91 L550.4,268.22 L550.9,268.52 L551.4,268.82 L551.9,269.11 L552.4,269.41 L552.9,269.70 L553.4,269.99 L553.9,270.28 L554.4,270.56 L554.9,270.85 L555.4,271.13 L555.9,271.41 L556.4,271.68 L556.9,271.95 L557.4,272.21 L557.9,272.46 L558.4,272.70 L558.8,272.93" fill="none" stroke="#1f77b4" stroke-width="2.05" stroke-linejoin="round" stroke-linecap="butt"/>
<line x1="409.10" y1="275.90" x2="409.10" y2="215.25" stroke="#1f77b4" stroke-width="1.90" stroke-dasharray="1.92 3.16"/>
<line x1="451.90" y1="275.90" x2="451.90" y2="215.25" stroke="#1f77b4" stroke-width="1.90" stroke-dasharray="7.1 3.05"/>
<line x1="524.10" y1="275.90" x2="524.10" y2="215.25" stroke="#1f77b4" stroke-width="1.90" stroke-dasharray="1.92 3.16"/>
<path d="M396.9,260.83 L397.4,260.15 L397.9,259.49 L398.4,258.83 L398.9,258.19 L399.4,257.56 L399.9,256.96 L400.4,256.37 L400.9,255.81 L401.4,255.27 L401.9,254.75 L402.4,254.26 L402.9,253.79 L403.4,253.35 L403.9,252.93 L404.4,252.54 L404.9,252.17 L405.4,251.82 L405.9,251.49 L406.4,251.17 L406.9,250.87 L407.4,250.59 L407.9,250.31 L408.4,250.05 L408.9,249.81 L409.4,249.58 L409.9,249.37 L410.4,249.18 L410.9,249.01 L411.4,248.85 L411.9,248.71 L412.4,248.59 L412.9,248.48 L413.4,248.39 L413.9,248.30 L414.4,248.21 L414.9,248.14 L415.4,248.07 L415.9,248.00 L416.4,247.94 L416.9,247.88 L417.4,247.82 L417.9,247.77 L418.4,247.72 L418.9,247.68 L419.4,247.64 L419.9,247.61 L420.4,247.58 L420.9,247.56 L421.4,247.55 L421.9,247.54 L422.4,247.53 L422.9,247.54 L423.4,247.55 L423.9,247.56 L424.4,247.59 L424.9,247.62 L425.4,247.65 L425.9,247.69 L426.4,247.74 L426.9,247.79 L427.4,247.85 L427.9,247.91 L428.4,247.97 L428.9,248.04 L429.4,248.11 L429.9,248.19 L430.4,248.27 L430.9,248.35 L431.4,248.44 L431.9,248.53 L432.4,248.63 L432.9,248.75 L433.4,248.87 L433.9,249.01 L434.4,249.15 L434.9,249.32 L435.4,249.49 L435.9,249.68 L436.4,249.87 L436.9,250.08 L437.4,250.29 L437.9,250.50 L438.4,250.72 L438.9,250.93 L439.4,251.15 L439.9,251.36 L440.4,251.57 L440.9,251.77 L441.4,251.96 L441.9,252.15 L442.4,252.33 L442.9,252.50 L443.4,252.67 L443.9,252.83 L444.4,252.98 L444.9,253.14 L445.4,253.29 L445.9,253.44 L446.4,253.58 L446.9,253.73 L447.4,253.87 L447.9,254.01 L448.4,254.14 L448.9,254.28 L449.4,254.41 L449.9,254.54 L450.4,254.67 L450.9,254.80 L451.4,254.93 L451.9,255.05 L452.4,255.18 L452.9,255.30 L453.4,255.43 L453.9,255.55 L454.4,255.68 L454.9,255.81 L455.4,255.93 L455.9,256.06 L456.4,256.19 L456.9,256.31 L457.4,256.44 L457.9,256.56 L458.4,256.68 L458.9,256.79 L459.4,256.90 L459.9,257.01 L460.4,257.11 L460.9,257.21 L461.4,257.30 L461.9,257.38 L462.4,257.45 L462.9,257.52 L463.4,257.58 L463.9,257.63 L464.4,257.68 L464.9,257.71 L465.4,257.75 L465.9,257.77 L466.4,257.80 L466.9,257.82 L467.4,257.84 L467.9,257.86 L468.4,257.88 L468.9,257.89 L469.4,257.91 L469.9,257.92 L470.4,257.93 L470.9,257.95 L471.4,257.96 L471.9,257.96 L472.4,257.97 L472.9,257.97 L473.4,257.97 L473.9,257.97 L474.4,257.95 L474.9,257.92 L475.4,257.88 L475.9,257.83 L476.4,257.75 L476.9,257.65 L477.4,257.53 L477.9,257.39 L478.4,257.22 L478.9,257.04 L479.4,256.85 L479.9,256.63 L480.4,256.41 L480.9,256.17 L481.4,255.93 L481.9,255.68 L482.4,255.42 L482.9,255.16 L483.4,254.91 L483.9,254.66 L484.4,254.41 L484.9,254.16 L485.4,253.93 L485.9,253.70 L486.4,253.48 L486.9,253.28 L487.4,253.08 L487.9,252.88 L488.4,252.70 L488.9,252.51 L489.4,252.33 L489.9,252.15 L490.4,251.97 L490.9,251.79 L491.4,251.61 L491.9,251.44 L492.4,251.27 L492.9,251.09 L493.4,250.93 L493.9,250.76 L494.4,250.60 L494.9,250.45 L495.4,250.30 L495.9,250.16 L496.4,250.02 L496.9,249.90 L497.4,249.78 L497.9,249.66 L498.4,249.56 L498.9,249.46 L499.4,249.38 L499.9,249.30 L500.4,249.22 L500.9,249.15 L501.4,249.09 L501.9,249.02 L502.4,248.97 L502.9,248.91 L503.4,248.86 L503.9,248.81 L504.4,248.77 L504.9,248.73 L505.4,248.70 L505.9,248.68 L506.4,248.66 L506.9,248.64 L507.4,248.63 L507.9,248.63 L508.4,248.64 L508.9,248.65 L509.4,248.66 L509.9,248.68 L510.4,248.71 L510.9,248.74 L511.4,248.77 L511.9,248.80 L512.4,248.84 L512.9,248.88 L513.4,248.93 L513.9,248.98 L514.4,249.02 L514.9,249.08 L515.4,249.13 L515.9,249.18 L516.4,249.24 L516.9,249.29 L517.4,249.35 L517.9,249.41 L518.4,249.47 L518.9,249.53 L519.4,249.59 L519.9,249.66 L520.4,249.73 L520.9,249.80 L521.4,249.87 L521.9,249.95 L522.4,250.04 L522.9,250.12 L523.4,250.22 L523.9,250.31 L524.4,250.41 L524.9,250.51 L525.4,250.62 L525.9,250.74 L526.4,250.86 L526.9,250.98 L527.4,251.12 L527.9,251.26 L528.4,251.41 L528.9,251.56 L529.4,251.73 L529.9,251.91 L530.4,252.10 L530.9,252.30 L531.4,252.50 L531.9,252.72 L532.4,252.94 L532.9,253.17 L533.4,253.41 L533.9,253.65 L534.4,253.90 L534.9,254.15 L535.4,254.41 L535.9,254.67 L536.4,254.93 L536.9,255.20 L537.4,255.48 L537.9,255.76 L538.4,256.05 L538.9,256.35 L539.4,256.65 L539.9,256.97 L540.4,257.29 L540.9,257.62 L541.4,257.95 L541.9,258.30 L542.4,258.64 L542.9,259.00 L543.4,259.35 L543.9,259.71 L544.4,260.08 L544.9,260.44 L545.4,260.81 L545.9,261.18 L546.4,261.56 L546.9,261.94 L547.4,262.33 L547.9,262.72 L548.4,263.11 L548.9,263.51 L549.4,263.92 L549.9,264.32 L550.4,264.74 L550.9,265.16 L551.4,265.58 L551.9,266.01 L552.4,266.44 L552.9,266.88 L553.4,267.32 L553.9,267.77 L554.4,268.23 L554.9,268.69 L555.4,269.15 L555.9,269.62 L556.4,270.08 L556.9,270.55 L557.4,271.00 L557.9,271.44 L558.4,271.87 L558.8,272.28" fill="none" stroke="#ff7f0e" stroke-width="2.05" stroke-linejoin="round" stroke-linecap="butt"/>
<line x1="421.25" y1="275.90" x2="421.25" y2="215.25" stroke="#ff7f0e" stroke-width="1.90" stroke-dasharray="1.92 3.16"/>
<line x1="475.00" y1="275.90" x2="475.00" y2="215.25" stroke="#ff7f0e" stroke-width="1.90" stroke-dasharray="7.1 3.05"/>
<line x1="527.50" y1="275.90" x2="527.50" y2="215.25" stroke="#ff7f0e" stroke-width="1.90" stroke-dasharray="1.92 3.16"/>
</g>
<rect x="389.00" y="215.25" width="177.60" height="60.65" fill="none" stroke="#000" stroke-width="1.30"/>
<line x1="396.90" y1="275.90" x2="396.90" y2="280.90" stroke="#000" stroke-width="1.30"/>
<text x="396.90" y="296.00" font-size="12.9" text-anchor="middle" textLength="31.98" lengthAdjust="spacingAndGlyphs">−0.50</text>
<line x1="437.32" y1="275.90" x2="437.32" y2="280.90" stroke="#000" stroke-width="1.30"/>
<text x="437.32" y="296.00" font-size="12.9" text-anchor="middle" textLength="31.98" lengthAdjust="spacingAndGlyphs">−0.25</text>
<line x1="477.75" y1="275.90" x2="477.75" y2="280.90" stroke="#000" stroke-width="1.30"/>
<text x="477.75" y="296.00" font-size="12.9" text-anchor="middle">0.00</text>
<line x1="518.17" y1="275.90" x2="518.17" y2="280.90" stroke="#000" stroke-width="1.30"/>
<text x="518.17" y="296.00" font-size="12.9" text-anchor="middle">0.25</text>
<line x1="558.60" y1="275.90" x2="558.60" y2="280.90" stroke="#000" stroke-width="1.30"/>
<text x="558.60" y="296.00" font-size="12.9" text-anchor="middle">0.50</text>
<g fill="none" stroke="#000" stroke-linecap="round"><path d="M474.4,313.2 L476.8,307.5" stroke-width="1.3"/><path d="M476.6,310.3 Q478.6,309.8 480.7,307.7" stroke-width="1.0"/><circle cx="480.5" cy="307.9" r="0.9" fill="#000" stroke="none"/><path d="M477.0,310.3 Q478.4,310.2 479.0,312.2 Q479.5,313.7 480.6,313.4 Q481.5,312.9 481.8,312.0" stroke-width="1.1"/></g>
<g clip-path="url(#c11)">
<path d="M590.0,271.75 L590.5,271.42 L591.0,271.09 L591.5,270.75 L592.0,270.42 L592.5,270.09 L593.0,269.76 L593.5,269.43 L594.0,269.09 L594.5,268.76 L595.0,268.43 L595.5,268.09 L596.0,267.76 L596.5,267.43 L597.0,267.09 L597.5,266.76 L598.0,266.43 L598.5,266.09 L599.0,265.76 L599.5,265.42 L600.0,265.08 L600.5,264.75 L601.0,264.41 L601.5,264.06 L602.0,263.72 L602.5,263.37 L603.0,263.02 L603.5,262.67 L604.0,262.32 L604.5,261.96 L605.0,261.60 L605.5,261.25 L606.0,260.90 L606.5,260.55 L607.0,260.20 L607.5,259.86 L608.0,259.52 L608.5,259.20 L609.0,258.88 L609.5,258.56 L610.0,258.26 L610.5,257.96 L611.0,257.67 L611.5,257.38 L612.0,257.10 L612.5,256.83 L613.0,256.55 L613.5,256.29 L614.0,256.02 L614.5,255.76 L615.0,255.51 L615.5,255.27 L616.0,255.03 L616.5,254.81 L617.0,254.60 L617.5,254.41 L618.0,254.23 L618.5,254.06 L619.0,253.92 L619.5,253.79 L620.0,253.67 L620.5,253.57 L621.0,253.48 L621.5,253.40 L622.0,253.33 L622.5,253.27 L623.0,253.21 L623.5,253.16 L624.0,253.11 L624.5,253.06 L625.0,253.02 L625.5,252.98 L626.0,252.94 L626.5,252.90 L627.0,252.87 L627.5,252.83 L628.0,252.80 L628.5,252.76 L629.0,252.73 L629.5,252.70 L630.0,252.66 L630.5,252.62 L631.0,252.59 L631.5,252.54 L632.0,252.50 L632.5,252.45 L633.0,252.40 L633.5,252.35 L634.0,252.29 L634.5,252.23 L635.0,252.15 L635.5,252.07 L636.0,251.98 L636.5,251.88 L637.0,251.77 L637.5,251.65 L638.0,251.51 L638.5,251.35 L639.0,251.19 L639.5,251.01 L640.0,250.82 L640.5,250.62 L641.0,250.41 L641.5,250.20 L642.0,249.97 L642.5,249.75 L643.0,249.52 L643.5,249.29 L644.0,249.05 L644.5,248.81 L645.0,248.57 L645.5,248.32 L646.0,248.07 L646.5,247.81 L647.0,247.53 L647.5,247.26 L648.0,246.97 L648.5,246.68 L649.0,246.38 L649.5,246.07 L650.0,245.77 L650.5,245.46 L651.0,245.15 L651.5,244.85 L652.0,244.54 L652.5,244.25 L653.0,243.95 L653.5,243.67 L654.0,243.40 L654.5,243.13 L655.0,242.88 L655.5,242.64 L656.0,242.41 L656.5,242.20 L657.0,242.00 L657.5,241.82 L658.0,241.65 L658.5,241.49 L659.0,241.33 L659.5,241.19 L660.0,241.06 L660.5,240.93 L661.0,240.80 L661.5,240.68 L662.0,240.57 L662.5,240.45 L663.0,240.34 L663.5,240.23 L664.0,240.12 L664.5,240.01 L665.0,239.90 L665.5,239.80 L666.0,239.69 L666.5,239.59 L667.0,239.48 L667.5,239.38 L668.0,239.28 L668.5,239.18 L669.0,239.08 L669.5,238.99 L670.0,238.89 L670.5,238.79 L671.0,238.70 L671.5,238.60 L672.0,238.51 L672.5,238.41 L673.0,238.31 L673.5,238.22 L674.0,238.12 L674.5,238.02 L675.0,237.92 L675.5,237.82 L676.0,237.71 L676.5,237.61 L677.0,237.50 L677.5,237.40 L678.0,237.29 L678.5,237.18 L679.0,237.07 L679.5,236.96 L680.0,236.85 L680.5,236.74 L681.0,236.63 L681.5,236.52 L682.0,236.40 L682.5,236.29 L683.0,236.17 L683.5,236.05 L684.0,235.93 L684.5,235.81 L685.0,235.69 L685.5,235.56 L686.0,235.43 L686.5,235.29 L687.0,235.15 L687.5,235.01 L688.0,234.86 L688.5,234.70 L689.0,234.54 L689.5,234.37 L690.0,234.19 L690.5,234.00 L691.0,233.80 L691.5,233.59 L692.0,233.37 L692.5,233.13 L693.0,232.89 L693.5,232.63 L694.0,232.37 L694.5,232.11 L695.0,231.84 L695.5,231.57 L696.0,231.29 L696.5,231.02 L697.0,230.76 L697.5,230.49 L698.0,230.24 L698.5,229.99 L699.0,229.75 L699.5,229.51 L700.0,229.28 L700.5,229.06 L701.0,228.85 L701.5,228.63 L702.0,228.43 L702.5,228.22 L703.0,228.02 L703.5,227.82 L704.0,227.63 L704.5,227.44 L705.0,227.26 L705.5,227.08 L706.0,226.92 L706.5,226.76 L707.0,226.60 L707.5,226.46 L708.0,226.32 L708.5,226.19 L709.0,226.07 L709.5,225.95 L710.0,225.83 L710.5,225.72 L711.0,225.62 L711.5,225.52 L712.0,225.42 L712.5,225.33 L713.0,225.25 L713.5,225.18 L714.0,225.11 L714.5,225.06 L715.0,225.01 L715.5,224.98 L716.0,224.96 L716.5,224.94 L717.0,224.94 L717.5,224.94 L718.0,224.95 L718.5,224.96 L719.0,224.98 L719.5,224.99 L720.0,225.02 L720.5,225.04 L721.0,225.07 L721.5,225.10 L722.0,225.13 L722.5,225.16 L723.0,225.19 L723.5,225.23 L724.0,225.26 L724.5,225.30 L725.0,225.33 L725.5,225.36 L726.0,225.40 L726.5,225.43 L727.0,225.46 L727.5,225.49 L728.0,225.52 L728.5,225.55 L729.0,225.58 L729.5,225.60 L730.0,225.63 L730.5,225.66 L731.0,225.68 L731.5,225.71 L732.0,225.74 L732.5,225.77 L733.0,225.81 L733.5,225.85 L734.0,225.90 L734.5,225.95 L735.0,226.02 L735.5,226.10 L736.0,226.21 L736.5,226.35 L737.0,226.52 L737.5,226.73 L738.0,226.97 L738.5,227.26 L739.0,227.58 L739.5,227.94 L740.0,228.33 L740.5,228.74 L741.0,229.17 L741.5,229.63 L742.0,230.10 L742.5,230.58 L743.0,231.09 L743.5,231.62 L744.0,232.17 L744.5,232.75 L745.0,233.37 L745.5,234.02 L746.0,234.71 L746.5,235.44 L747.0,236.22 L747.5,237.06 L748.0,237.95 L748.5,238.90 L749.0,239.90 L749.5,240.97 L750.0,242.09 L750.5,243.25 L751.0,244.46 L751.5,245.69" fill="none" stroke="#1f77b4" stroke-width="2.05" stroke-linejoin="round" stroke-linecap="butt"/>
<line x1="690.40" y1="275.90" x2="690.40" y2="215.25" stroke="#1f77b4" stroke-width="1.90" stroke-dasharray="7.1 3.05"/>
<path d="M590.0,273.25 L590.5,272.92 L591.0,272.58 L591.5,272.25 L592.0,271.92 L592.5,271.58 L593.0,271.25 L593.5,270.91 L594.0,270.57 L594.5,270.23 L595.0,269.89 L595.5,269.54 L596.0,269.20 L596.5,268.85 L597.0,268.50 L597.5,268.15 L598.0,267.80 L598.5,267.45 L599.0,267.10 L599.5,266.74 L600.0,266.38 L600.5,266.02 L601.0,265.66 L601.5,265.30 L602.0,264.93 L602.5,264.55 L603.0,264.18 L603.5,263.80 L604.0,263.41 L604.5,263.03 L605.0,262.64 L605.5,262.25 L606.0,261.86 L606.5,261.48 L607.0,261.09 L607.5,260.71 L608.0,260.33 L608.5,259.96 L609.0,259.59 L609.5,259.23 L610.0,258.88 L610.5,258.53 L611.0,258.18 L611.5,257.84 L612.0,257.50 L612.5,257.16 L613.0,256.82 L613.5,256.49 L614.0,256.16 L614.5,255.83 L615.0,255.51 L615.5,255.19 L616.0,254.89 L616.5,254.60 L617.0,254.33 L617.5,254.07 L618.0,253.84 L618.5,253.62 L619.0,253.42 L619.5,253.24 L620.0,253.08 L620.5,252.94 L621.0,252.80 L621.5,252.68 L622.0,252.57 L622.5,252.47 L623.0,252.38 L623.5,252.30 L624.0,252.23 L624.5,252.17 L625.0,252.12 L625.5,252.08 L626.0,252.05 L626.5,252.03 L627.0,252.02 L627.5,252.01 L628.0,252.01 L628.5,252.00 L629.0,252.00 L629.5,252.00 L630.0,252.00 L630.5,252.00 L631.0,252.00 L631.5,252.00 L632.0,252.00 L632.5,252.00 L633.0,252.00 L633.5,252.00 L634.0,252.00 L634.5,251.99 L635.0,251.99 L635.5,251.98 L636.0,251.96 L636.5,251.94 L637.0,251.91 L637.5,251.87 L638.0,251.81 L638.5,251.74 L639.0,251.66 L639.5,251.57 L640.0,251.47 L640.5,251.36 L641.0,251.25 L641.5,251.13 L642.0,251.00 L642.5,250.87 L643.0,250.73 L643.5,250.60 L644.0,250.46 L644.5,250.32 L645.0,250.18 L645.5,250.04 L646.0,249.89 L646.5,249.73 L647.0,249.57 L647.5,249.40 L648.0,249.23 L648.5,249.05 L649.0,248.86 L649.5,248.68 L650.0,248.49 L650.5,248.30 L651.0,248.11 L651.5,247.92 L652.0,247.73 L652.5,247.55 L653.0,247.37 L653.5,247.20 L654.0,247.03 L654.5,246.88 L655.0,246.73 L655.5,246.59 L656.0,246.47 L656.5,246.35 L657.0,246.25 L657.5,246.16 L658.0,246.07 L658.5,246.00 L659.0,245.94 L659.5,245.88 L660.0,245.82 L660.5,245.77 L661.0,245.72 L661.5,245.67 L662.0,245.62 L662.5,245.57 L663.0,245.52 L663.5,245.46 L664.0,245.40 L664.5,245.34 L665.0,245.26 L665.5,245.19 L666.0,245.10 L666.5,245.01 L667.0,244.91 L667.5,244.80 L668.0,244.69 L668.5,244.58 L669.0,244.45 L669.5,244.32 L670.0,244.19 L670.5,244.05 L671.0,243.91 L671.5,243.76 L672.0,243.61 L672.5,243.45 L673.0,243.29 L673.5,243.13 L674.0,242.97 L674.5,242.80 L675.0,242.63 L675.5,242.45 L676.0,242.28 L676.5,242.10 L677.0,241.92 L677.5,241.73 L678.0,241.54 L678.5,241.35 L679.0,241.16 L679.5,240.96 L680.0,240.75 L680.5,240.54 L681.0,240.32 L681.5,240.10 L682.0,239.87 L682.5,239.64 L683.0,239.40 L683.5,239.16 L684.0,238.91 L684.5,238.65 L685.0,238.39 L685.5,238.12 L686.0,237.85 L686.5,237.57 L687.0,237.29 L687.5,237.00 L688.0,236.70 L688.5,236.40 L689.0,236.09 L689.5,235.76 L690.0,235.43 L690.5,235.09 L691.0,234.73 L691.5,234.35 L692.0,233.96 L692.5,233.56 L693.0,233.15 L693.5,232.72 L694.0,232.29 L694.5,231.84 L695.0,231.39 L695.5,230.94 L696.0,230.49 L696.5,230.03 L697.0,229.58 L697.5,229.12 L698.0,228.67 L698.5,228.21 L699.0,227.75 L699.5,227.29 L700.0,226.83 L700.5,226.36 L701.0,225.89 L701.5,225.41 L702.0,224.94 L702.5,224.47 L703.0,224.00 L703.5,223.55 L704.0,223.11 L704.5,222.68 L705.0,222.28 L705.5,221.90 L706.0,221.54 L706.5,221.20 L707.0,220.89 L707.5,220.60 L708.0,220.33 L708.5,220.07 L709.0,219.83 L709.5,219.60 L710.0,219.38 L710.5,219.17 L711.0,218.98 L711.5,218.80 L712.0,218.64 L712.5,218.50 L713.0,218.38 L713.5,218.28 L714.0,218.21 L714.5,218.16 L715.0,218.14 L715.5,218.14 L716.0,218.17 L716.5,218.22 L717.0,218.30 L717.5,218.39 L718.0,218.50 L718.5,218.62 L719.0,218.76 L719.5,218.90 L720.0,219.06 L720.5,219.22 L721.0,219.39 L721.5,219.57 L722.0,219.75 L722.5,219.93 L723.0,220.13 L723.5,220.33 L724.0,220.54 L724.5,220.77 L725.0,221.00 L725.5,221.24 L726.0,221.50 L726.5,221.77 L727.0,222.04 L727.5,222.33 L728.0,222.62 L728.5,222.92 L729.0,223.23 L729.5,223.54 L730.0,223.86 L730.5,224.18 L731.0,224.51 L731.5,224.85 L732.0,225.19 L732.5,225.54 L733.0,225.89 L733.5,226.25 L734.0,226.62 L734.5,227.01 L735.0,227.40 L735.5,227.80 L736.0,228.21 L736.5,228.63 L737.0,229.05 L737.5,229.49 L738.0,229.93 L738.5,230.39 L739.0,230.85 L739.5,231.31 L740.0,231.79 L740.5,232.27 L741.0,232.76 L741.5,233.26 L742.0,233.77 L742.5,234.30 L743.0,234.83 L743.5,235.38 L744.0,235.95 L744.5,236.53 L745.0,237.13 L745.5,237.76 L746.0,238.40 L746.5,239.07 L747.0,239.76 L747.5,240.48 L748.0,241.22 L748.5,241.99 L749.0,242.78 L749.5,243.60 L750.0,244.43 L750.5,245.29 L751.0,246.16 L751.5,247.04" fill="none" stroke="#ff7f0e" stroke-width="2.05" stroke-linejoin="round" stroke-linecap="butt"/>
<line x1="634.10" y1="275.90" x2="634.10" y2="215.25" stroke="#ff7f0e" stroke-width="1.90" stroke-dasharray="1.92 3.16"/>
<line x1="693.75" y1="275.90" x2="693.75" y2="215.25" stroke="#ff7f0e" stroke-width="1.90" stroke-dasharray="7.1 3.05"/>
<line x1="730.90" y1="275.90" x2="730.90" y2="215.25" stroke="#ff7f0e" stroke-width="1.90" stroke-dasharray="1.92 3.16"/>
</g>
<rect x="582.20" y="215.25" width="177.00" height="60.65" fill="none" stroke="#000" stroke-width="1.30"/>
<line x1="590.00" y1="275.90" x2="590.00" y2="280.90" stroke="#000" stroke-width="1.30"/>
<text x="590.00" y="296.00" font-size="12.9" text-anchor="middle">1</text>
<line x1="630.43" y1="275.90" x2="630.43" y2="280.90" stroke="#000" stroke-width="1.30"/>
<text x="630.43" y="296.00" font-size="12.9" text-anchor="middle">2</text>
<line x1="670.86" y1="275.90" x2="670.86" y2="280.90" stroke="#000" stroke-width="1.30"/>
<text x="670.86" y="296.00" font-size="12.9" text-anchor="middle">3</text>
<line x1="711.29" y1="275.90" x2="711.29" y2="280.90" stroke="#000" stroke-width="1.30"/>
<text x="711.29" y="296.00" font-size="12.9" text-anchor="middle">4</text>
<line x1="751.72" y1="275.90" x2="751.72" y2="280.90" stroke="#000" stroke-width="1.30"/>
<text x="751.72" y="296.00" font-size="12.9" text-anchor="middle">5</text>
<g fill="none" stroke="#000" stroke-linecap="round"><path d="M667.1,309.6 Q668.2,307.1 670.0,307.2 Q671.9,307.4 672.7,310.6" stroke-width="0.9"/><path d="M675.0,307.4 Q673.6,309.6 672.6,311.6 Q671.8,313.5 671.4,315.6" stroke-width="1.1"/></g>
<g clip-path="url(#c12)">
<path d="M11.0,358.18 L11.5,356.44 L12.0,354.72 L12.5,353.04 L13.0,351.38 L13.5,349.77 L14.0,348.19 L14.5,346.64 L15.0,345.13 L15.5,343.65 L16.0,342.21 L16.5,340.81 L17.0,339.46 L17.5,338.17 L18.0,336.95 L18.5,335.82 L19.0,334.78 L19.5,333.82 L20.0,332.96 L20.5,332.19 L21.0,331.49 L21.5,330.87 L22.0,330.32 L22.5,329.83 L23.0,329.42 L23.5,329.09 L24.0,328.83 L24.5,328.67 L25.0,328.58 L25.5,328.58 L26.0,328.66 L26.5,328.80 L27.0,329.01 L27.5,329.26 L28.0,329.54 L28.5,329.85 L29.0,330.16 L29.5,330.46 L30.0,330.74 L30.5,331.00 L31.0,331.21 L31.5,331.37 L32.0,331.46 L32.5,331.49 L33.0,331.46 L33.5,331.35 L34.0,331.19 L34.5,330.97 L35.0,330.70 L35.5,330.39 L36.0,330.06 L36.5,329.72 L37.0,329.36 L37.5,329.01 L38.0,328.66 L38.5,328.32 L39.0,327.98 L39.5,327.66 L40.0,327.35 L40.5,327.06 L41.0,326.78 L41.5,326.54 L42.0,326.32 L42.5,326.16 L43.0,326.04 L43.5,325.99 L44.0,326.00 L44.5,326.07 L45.0,326.21 L45.5,326.42 L46.0,326.68 L46.5,326.99 L47.0,327.35 L47.5,327.75 L48.0,328.18 L48.5,328.64 L49.0,329.13 L49.5,329.65 L50.0,330.20 L50.5,330.79 L51.0,331.42 L51.5,332.10 L52.0,332.81 L52.5,333.56 L53.0,334.34 L53.5,335.14 L54.0,335.95 L54.5,336.76 L55.0,337.55 L55.5,338.32 L56.0,339.05 L56.5,339.74 L57.0,340.39 L57.5,341.00 L58.0,341.56 L58.5,342.09 L59.0,342.58 L59.5,343.05 L60.0,343.49 L60.5,343.91 L61.0,344.31 L61.5,344.70 L62.0,345.08 L62.5,345.45 L63.0,345.82 L63.5,346.17 L64.0,346.53 L64.5,346.88 L65.0,347.23 L65.5,347.59 L66.0,347.95 L66.5,348.31 L67.0,348.68 L67.5,349.06 L68.0,349.45 L68.5,349.85 L69.0,350.26 L69.5,350.67 L70.0,351.10 L70.5,351.53 L71.0,351.97 L71.5,352.42 L72.0,352.86 L72.5,353.32 L73.0,353.77 L73.5,354.23 L74.0,354.69 L74.5,355.14 L75.0,355.60 L75.5,356.06 L76.0,356.51 L76.5,356.96 L77.0,357.41 L77.5,357.85 L78.0,358.28 L78.5,358.71 L79.0,359.14 L79.5,359.56 L80.0,359.97 L80.5,360.38 L81.0,360.78 L81.5,361.18 L82.0,361.58 L82.5,361.97 L83.0,362.35 L83.5,362.74 L84.0,363.12 L84.5,363.50 L85.0,363.88 L85.5,364.26 L86.0,364.63 L86.5,365.00 L87.0,365.37 L87.5,365.73 L88.0,366.10 L88.5,366.46 L89.0,366.82 L89.5,367.18 L90.0,367.53 L90.5,367.88 L91.0,368.24 L91.5,368.59 L92.0,368.94 L92.5,369.28 L93.0,369.63 L93.5,369.97 L94.0,370.32 L94.5,370.66 L95.0,371.01 L95.5,371.35 L96.0,371.69 L96.5,372.03 L97.0,372.37 L97.5,372.71 L98.0,373.04 L98.5,373.36 L99.0,373.68 L99.5,373.98 L100.0,374.27 L100.5,374.54 L101.0,374.80 L101.5,375.05 L102.0,375.29 L102.5,375.52 L103.0,375.73 L103.5,375.94 L104.0,376.13 L104.5,376.32 L105.0,376.50 L105.5,376.67 L106.0,376.83 L106.5,376.98 L107.0,377.13 L107.5,377.27 L108.0,377.40 L108.5,377.52 L109.0,377.64 L109.5,377.76 L110.0,377.87 L110.5,377.98 L111.0,378.08 L111.5,378.19 L112.0,378.28 L112.5,378.38 L113.0,378.48 L113.5,378.57 L114.0,378.65 L114.5,378.74 L115.0,378.82 L115.5,378.90 L116.0,378.98 L116.5,379.05 L117.0,379.12 L117.5,379.19 L118.0,379.26 L118.5,379.32 L119.0,379.38 L119.5,379.44 L120.0,379.49 L120.5,379.55 L121.0,379.60 L121.5,379.66 L122.0,379.71 L122.5,379.76 L123.0,379.81 L123.5,379.86 L124.0,379.90 L124.5,379.95 L125.0,379.99 L125.5,380.03 L126.0,380.07 L126.5,380.10 L127.0,380.13 L127.5,380.16 L128.0,380.18 L128.5,380.20 L129.0,380.22 L129.5,380.23 L130.0,380.24 L130.5,380.24 L131.0,380.25 L131.5,380.25 L132.0,380.25 L132.5,380.25 L133.0,380.25 L133.5,380.25 L134.0,380.25 L134.5,380.25 L135.0,380.25 L135.5,380.25 L136.0,380.25 L136.5,380.25 L137.0,380.25 L137.5,380.25 L138.0,380.25 L138.5,380.25 L139.0,380.25 L139.5,380.25 L140.0,380.25 L140.5,380.25 L141.0,380.25 L141.5,380.25 L142.0,380.25 L142.5,380.25 L143.0,380.25 L143.5,380.25 L144.0,380.25 L144.5,380.25 L145.0,380.25 L145.5,380.25 L146.0,380.25 L146.5,380.25 L147.0,380.25 L147.5,380.25 L148.0,380.25 L148.5,380.25 L149.0,380.25 L149.5,380.25 L150.0,380.25 L150.5,380.25 L151.0,380.25 L151.5,380.25 L152.0,380.25 L152.5,380.25 L153.0,380.25 L153.5,380.25 L154.0,380.25 L154.5,380.25 L155.0,380.25 L155.5,380.25 L156.0,380.25 L156.5,380.25 L157.0,380.25 L157.5,380.25 L158.0,380.25 L158.5,380.25 L159.0,380.25 L159.5,380.25 L160.0,380.25 L160.5,380.25 L161.0,380.25 L161.5,380.25 L162.0,380.25 L162.5,380.25 L163.0,380.25 L163.5,380.25 L164.0,380.25 L164.5,380.25 L165.0,380.25 L165.5,380.25 L166.0,380.25 L166.5,380.25 L167.0,380.25 L167.5,380.25 L168.0,380.25 L168.5,380.25 L169.0,380.25 L169.5,380.25 L170.0,380.25 L170.5,380.25 L171.0,380.25 L171.5,380.25 L172.0,380.25 L172.5,380.25" fill="none" stroke="#1f77b4" stroke-width="2.05" stroke-linejoin="round" stroke-linecap="butt"/>
<line x1="44.00" y1="383.00" x2="44.00" y2="322.25" stroke="#1f77b4" stroke-width="1.90" stroke-dasharray="7.1 3.05"/>
<path d="M11.0,356.36 L11.5,354.46 L12.0,352.59 L12.5,350.76 L13.0,348.99 L13.5,347.28 L14.0,345.63 L14.5,344.05 L15.0,342.54 L15.5,341.09 L16.0,339.71 L16.5,338.40 L17.0,337.14 L17.5,335.95 L18.0,334.81 L18.5,333.74 L19.0,332.73 L19.5,331.79 L20.0,330.93 L20.5,330.13 L21.0,329.41 L21.5,328.75 L22.0,328.15 L22.5,327.60 L23.0,327.11 L23.5,326.67 L24.0,326.29 L24.5,325.96 L25.0,325.69 L25.5,325.47 L26.0,325.31 L26.5,325.20 L27.0,325.12 L27.5,325.08 L28.0,325.06 L28.5,325.06 L29.0,325.06 L29.5,325.07 L30.0,325.09 L30.5,325.11 L31.0,325.13 L31.5,325.15 L32.0,325.18 L32.5,325.21 L33.0,325.24 L33.5,325.28 L34.0,325.31 L34.5,325.35 L35.0,325.39 L35.5,325.43 L36.0,325.48 L36.5,325.53 L37.0,325.58 L37.5,325.65 L38.0,325.72 L38.5,325.80 L39.0,325.90 L39.5,326.01 L40.0,326.14 L40.5,326.29 L41.0,326.46 L41.5,326.67 L42.0,326.91 L42.5,327.19 L43.0,327.52 L43.5,327.91 L44.0,328.36 L44.5,328.87 L45.0,329.44 L45.5,330.05 L46.0,330.70 L46.5,331.38 L47.0,332.08 L47.5,332.78 L48.0,333.48 L48.5,334.17 L49.0,334.84 L49.5,335.48 L50.0,336.10 L50.5,336.70 L51.0,337.28 L51.5,337.84 L52.0,338.39 L52.5,338.92 L53.0,339.44 L53.5,339.96 L54.0,340.46 L54.5,340.95 L55.0,341.44 L55.5,341.91 L56.0,342.37 L56.5,342.82 L57.0,343.26 L57.5,343.68 L58.0,344.10 L58.5,344.50 L59.0,344.89 L59.5,345.27 L60.0,345.64 L60.5,346.00 L61.0,346.35 L61.5,346.70 L62.0,347.04 L62.5,347.38 L63.0,347.71 L63.5,348.04 L64.0,348.37 L64.5,348.70 L65.0,349.02 L65.5,349.35 L66.0,349.69 L66.5,350.02 L67.0,350.36 L67.5,350.71 L68.0,351.06 L68.5,351.42 L69.0,351.79 L69.5,352.17 L70.0,352.55 L70.5,352.95 L71.0,353.35 L71.5,353.77 L72.0,354.19 L72.5,354.62 L73.0,355.05 L73.5,355.50 L74.0,355.94 L74.5,356.39 L75.0,356.84 L75.5,357.29 L76.0,357.74 L76.5,358.19 L77.0,358.64 L77.5,359.08 L78.0,359.52 L78.5,359.96 L79.0,360.38 L79.5,360.81 L80.0,361.23 L80.5,361.65 L81.0,362.06 L81.5,362.47 L82.0,362.88 L82.5,363.29 L83.0,363.70 L83.5,364.10 L84.0,364.51 L84.5,364.91 L85.0,365.31 L85.5,365.72 L86.0,366.11 L86.5,366.51 L87.0,366.90 L87.5,367.29 L88.0,367.67 L88.5,368.05 L89.0,368.43 L89.5,368.80 L90.0,369.17 L90.5,369.53 L91.0,369.88 L91.5,370.23 L92.0,370.57 L92.5,370.90 L93.0,371.23 L93.5,371.55 L94.0,371.86 L94.5,372.16 L95.0,372.46 L95.5,372.75 L96.0,373.03 L96.5,373.31 L97.0,373.57 L97.5,373.83 L98.0,374.09 L98.5,374.34 L99.0,374.57 L99.5,374.81 L100.0,375.03 L100.5,375.26 L101.0,375.47 L101.5,375.68 L102.0,375.88 L102.5,376.08 L103.0,376.28 L103.5,376.46 L104.0,376.65 L104.5,376.82 L105.0,376.99 L105.5,377.15 L106.0,377.30 L106.5,377.45 L107.0,377.58 L107.5,377.71 L108.0,377.84 L108.5,377.95 L109.0,378.07 L109.5,378.17 L110.0,378.28 L110.5,378.38 L111.0,378.48 L111.5,378.58 L112.0,378.67 L112.5,378.76 L113.0,378.85 L113.5,378.93 L114.0,379.01 L114.5,379.09 L115.0,379.17 L115.5,379.24 L116.0,379.31 L116.5,379.37 L117.0,379.44 L117.5,379.49 L118.0,379.55 L118.5,379.60 L119.0,379.65 L119.5,379.70 L120.0,379.74 L120.5,379.78 L121.0,379.82 L121.5,379.86 L122.0,379.89 L122.5,379.93 L123.0,379.96 L123.5,379.99 L124.0,380.03 L124.5,380.06 L125.0,380.08 L125.5,380.11 L126.0,380.13 L126.5,380.16 L127.0,380.18 L127.5,380.19 L128.0,380.21 L128.5,380.22 L129.0,380.23 L129.5,380.24 L130.0,380.24 L130.5,380.24 L131.0,380.25 L131.5,380.25 L132.0,380.25 L132.5,380.25 L133.0,380.25 L133.5,380.25 L134.0,380.25 L134.5,380.25 L135.0,380.25 L135.5,380.25 L136.0,380.25 L136.5,380.25 L137.0,380.25 L137.5,380.25 L138.0,380.25 L138.5,380.25 L139.0,380.25 L139.5,380.25 L140.0,380.25 L140.5,380.25 L141.0,380.25 L141.5,380.25 L142.0,380.25 L142.5,380.25 L143.0,380.25 L143.5,380.25 L144.0,380.25 L144.5,380.25 L145.0,380.25 L145.5,380.25 L146.0,380.25 L146.5,380.25 L147.0,380.25 L147.5,380.25 L148.0,380.25 L148.5,380.25 L149.0,380.25 L149.5,380.25 L150.0,380.25 L150.5,380.25 L151.0,380.25 L151.5,380.25 L152.0,380.25 L152.5,380.25 L153.0,380.25 L153.5,380.25 L154.0,380.25 L154.5,380.25 L155.0,380.25 L155.5,380.25 L156.0,380.25 L156.5,380.25 L157.0,380.25 L157.5,380.25 L158.0,380.25 L158.5,380.25 L159.0,380.25 L159.5,380.25 L160.0,380.25 L160.5,380.25 L161.0,380.25 L161.5,380.25 L162.0,380.25 L162.5,380.25 L163.0,380.25 L163.5,380.25 L164.0,380.25 L164.5,380.25 L165.0,380.25 L165.5,380.25 L166.0,380.25 L166.5,380.25 L167.0,380.25 L167.5,380.25 L168.0,380.25 L168.5,380.25 L169.0,380.25 L169.5,380.25 L170.0,380.25 L170.5,380.25 L171.0,380.25 L171.5,380.25 L172.0,380.25 L172.5,380.25" fill="none" stroke="#ff7f0e" stroke-width="2.05" stroke-linejoin="round" stroke-linecap="butt"/>
<line x1="22.75" y1="383.00" x2="22.75" y2="322.25" stroke="#ff7f0e" stroke-width="1.90" stroke-dasharray="1.92 3.16"/>
<line x1="42.50" y1="383.00" x2="42.50" y2="322.25" stroke="#ff7f0e" stroke-width="1.90" stroke-dasharray="7.1 3.05"/>
<line x1="70.25" y1="383.00" x2="70.25" y2="322.25" stroke="#ff7f0e" stroke-width="1.90" stroke-dasharray="1.92 3.16"/>
</g>
<rect x="3.00" y="322.25" width="177.30" height="60.75" fill="none" stroke="#000" stroke-width="1.30"/>
<line x1="11.00" y1="383.00" x2="11.00" y2="388.00" stroke="#000" stroke-width="1.30"/>
<text x="11.00" y="403.10" font-size="12.9" text-anchor="middle">0.00</text>
<line x1="51.27" y1="383.00" x2="51.27" y2="388.00" stroke="#000" stroke-width="1.30"/>
<text x="51.27" y="403.10" font-size="12.9" text-anchor="middle">0.25</text>
<line x1="91.55" y1="383.00" x2="91.55" y2="388.00" stroke="#000" stroke-width="1.30"/>
<text x="91.55" y="403.10" font-size="12.9" text-anchor="middle">0.50</text>
<line x1="131.82" y1="383.00" x2="131.82" y2="388.00" stroke="#000" stroke-width="1.30"/>
<text x="131.82" y="403.10" font-size="12.9" text-anchor="middle">0.75</text>
<line x1="172.10" y1="383.00" x2="172.10" y2="388.00" stroke="#000" stroke-width="1.30"/>
<text x="172.10" y="403.10" font-size="12.9" text-anchor="middle">1.00</text>
<g transform="matrix(1.2087 0 0 1 -16.278 0)"><text x="78.00" y="419.90" font-size="14.2"><tspan font-style="italic">f</tspan><tspan font-size="10.2" dy="1.5" dx="1.6">ellip</tspan></text></g>
<g clip-path="url(#c13)">
<path d="M204.0,373.11 L204.5,372.64 L205.0,372.17 L205.5,371.70 L206.0,371.24 L206.5,370.78 L207.0,370.32 L207.5,369.88 L208.0,369.43 L208.5,368.99 L209.0,368.56 L209.5,368.13 L210.0,367.71 L210.5,367.29 L211.0,366.88 L211.5,366.47 L212.0,366.07 L212.5,365.67 L213.0,365.28 L213.5,364.89 L214.0,364.51 L214.5,364.13 L215.0,363.75 L215.5,363.37 L216.0,363.00 L216.5,362.62 L217.0,362.25 L217.5,361.88 L218.0,361.51 L218.5,361.15 L219.0,360.79 L219.5,360.45 L220.0,360.12 L220.5,359.80 L221.0,359.50 L221.5,359.22 L222.0,358.95 L222.5,358.71 L223.0,358.48 L223.5,358.28 L224.0,358.08 L224.5,357.91 L225.0,357.74 L225.5,357.58 L226.0,357.43 L226.5,357.29 L227.0,357.15 L227.5,357.02 L228.0,356.90 L228.5,356.79 L229.0,356.69 L229.5,356.60 L230.0,356.52 L230.5,356.45 L231.0,356.40 L231.5,356.36 L232.0,356.34 L232.5,356.33 L233.0,356.34 L233.5,356.36 L234.0,356.39 L234.5,356.44 L235.0,356.50 L235.5,356.57 L236.0,356.65 L236.5,356.74 L237.0,356.84 L237.5,356.94 L238.0,357.05 L238.5,357.17 L239.0,357.29 L239.5,357.43 L240.0,357.57 L240.5,357.73 L241.0,357.90 L241.5,358.09 L242.0,358.29 L242.5,358.50 L243.0,358.72 L243.5,358.95 L244.0,359.18 L244.5,359.40 L245.0,359.62 L245.5,359.83 L246.0,360.03 L246.5,360.21 L247.0,360.37 L247.5,360.52 L248.0,360.66 L248.5,360.79 L249.0,360.90 L249.5,361.01 L250.0,361.12 L250.5,361.22 L251.0,361.31 L251.5,361.40 L252.0,361.48 L252.5,361.55 L253.0,361.62 L253.5,361.68 L254.0,361.73 L254.5,361.77 L255.0,361.81 L255.5,361.83 L256.0,361.83 L256.5,361.83 L257.0,361.81 L257.5,361.78 L258.0,361.74 L258.5,361.69 L259.0,361.62 L259.5,361.55 L260.0,361.46 L260.5,361.36 L261.0,361.26 L261.5,361.14 L262.0,361.02 L262.5,360.89 L263.0,360.76 L263.5,360.62 L264.0,360.47 L264.5,360.32 L265.0,360.17 L265.5,360.02 L266.0,359.86 L266.5,359.70 L267.0,359.54 L267.5,359.37 L268.0,359.19 L268.5,359.01 L269.0,358.81 L269.5,358.61 L270.0,358.40 L270.5,358.18 L271.0,357.94 L271.5,357.70 L272.0,357.45 L272.5,357.20 L273.0,356.93 L273.5,356.67 L274.0,356.39 L274.5,356.11 L275.0,355.83 L275.5,355.55 L276.0,355.26 L276.5,354.97 L277.0,354.67 L277.5,354.37 L278.0,354.07 L278.5,353.76 L279.0,353.44 L279.5,353.12 L280.0,352.79 L280.5,352.45 L281.0,352.12 L281.5,351.78 L282.0,351.43 L282.5,351.09 L283.0,350.75 L283.5,350.41 L284.0,350.07 L284.5,349.74 L285.0,349.40 L285.5,349.07 L286.0,348.74 L286.5,348.41 L287.0,348.08 L287.5,347.76 L288.0,347.44 L288.5,347.13 L289.0,346.83 L289.5,346.55 L290.0,346.28 L290.5,346.03 L291.0,345.79 L291.5,345.56 L292.0,345.35 L292.5,345.15 L293.0,344.96 L293.5,344.77 L294.0,344.59 L294.5,344.42 L295.0,344.26 L295.5,344.11 L296.0,343.96 L296.5,343.82 L297.0,343.70 L297.5,343.58 L298.0,343.47 L298.5,343.37 L299.0,343.29 L299.5,343.21 L300.0,343.14 L300.5,343.08 L301.0,343.02 L301.5,342.97 L302.0,342.92 L302.5,342.88 L303.0,342.83 L303.5,342.79 L304.0,342.76 L304.5,342.72 L305.0,342.69 L305.5,342.66 L306.0,342.63 L306.5,342.60 L307.0,342.58 L307.5,342.56 L308.0,342.55 L308.5,342.54 L309.0,342.53 L309.5,342.53 L310.0,342.54 L310.5,342.55 L311.0,342.57 L311.5,342.59 L312.0,342.63 L312.5,342.67 L313.0,342.72 L313.5,342.77 L314.0,342.83 L314.5,342.90 L315.0,342.97 L315.5,343.04 L316.0,343.12 L316.5,343.19 L317.0,343.27 L317.5,343.35 L318.0,343.43 L318.5,343.52 L319.0,343.60 L319.5,343.68 L320.0,343.76 L320.5,343.85 L321.0,343.93 L321.5,344.02 L322.0,344.12 L322.5,344.22 L323.0,344.32 L323.5,344.42 L324.0,344.52 L324.5,344.63 L325.0,344.73 L325.5,344.83 L326.0,344.93 L326.5,345.03 L327.0,345.12 L327.5,345.20 L328.0,345.28 L328.5,345.35 L329.0,345.40 L329.5,345.45 L330.0,345.49 L330.5,345.52 L331.0,345.53 L331.5,345.53 L332.0,345.52 L332.5,345.50 L333.0,345.47 L333.5,345.43 L334.0,345.38 L334.5,345.33 L335.0,345.26 L335.5,345.20 L336.0,345.13 L336.5,345.06 L337.0,344.98 L337.5,344.91 L338.0,344.84 L338.5,344.77 L339.0,344.70 L339.5,344.64 L340.0,344.59 L340.5,344.54 L341.0,344.50 L341.5,344.47 L342.0,344.45 L342.5,344.43 L343.0,344.42 L343.5,344.41 L344.0,344.41 L344.5,344.40 L345.0,344.40 L345.5,344.40 L346.0,344.41 L346.5,344.41 L347.0,344.42 L347.5,344.45 L348.0,344.48 L348.5,344.55 L349.0,344.64 L349.5,344.76 L350.0,344.94 L350.5,345.15 L351.0,345.41 L351.5,345.72 L352.0,346.07 L352.5,346.46 L353.0,346.88 L353.5,347.33 L354.0,347.79 L354.5,348.28 L355.0,348.77 L355.5,349.27 L356.0,349.78 L356.5,350.31 L357.0,350.84 L357.5,351.39 L358.0,351.96 L358.5,352.54 L359.0,353.15 L359.5,353.78 L360.0,354.43 L360.5,355.10 L361.0,355.79 L361.5,356.50 L362.0,357.23 L362.5,357.97 L363.0,358.72 L363.5,359.45 L364.0,360.16 L364.5,360.83 L365.0,361.45 L365.5,361.99 L365.6,362.45" fill="none" stroke="#1f77b4" stroke-width="2.05" stroke-linejoin="round" stroke-linecap="butt"/>
<line x1="239.60" y1="383.00" x2="239.60" y2="322.25" stroke="#1f77b4" stroke-width="1.90" stroke-dasharray="1.92 3.16"/>
<line x1="299.10" y1="383.00" x2="299.10" y2="322.25" stroke="#1f77b4" stroke-width="1.90" stroke-dasharray="7.1 3.05"/>
<line x1="342.10" y1="383.00" x2="342.10" y2="322.25" stroke="#1f77b4" stroke-width="1.90" stroke-dasharray="1.92 3.16"/>
<path d="M204.0,380.00 L204.5,379.88 L205.0,379.76 L205.5,379.65 L206.0,379.53 L206.5,379.41 L207.0,379.30 L207.5,379.19 L208.0,379.08 L208.5,378.97 L209.0,378.86 L209.5,378.76 L210.0,378.66 L210.5,378.56 L211.0,378.46 L211.5,378.36 L212.0,378.27 L212.5,378.18 L213.0,378.09 L213.5,378.00 L214.0,377.92 L214.5,377.84 L215.0,377.76 L215.5,377.68 L216.0,377.61 L216.5,377.53 L217.0,377.46 L217.5,377.39 L218.0,377.31 L218.5,377.24 L219.0,377.18 L219.5,377.11 L220.0,377.04 L220.5,376.98 L221.0,376.91 L221.5,376.85 L222.0,376.79 L222.5,376.74 L223.0,376.68 L223.5,376.62 L224.0,376.57 L224.5,376.52 L225.0,376.47 L225.5,376.43 L226.0,376.38 L226.5,376.34 L227.0,376.30 L227.5,376.26 L228.0,376.22 L228.5,376.18 L229.0,376.14 L229.5,376.10 L230.0,376.07 L230.5,376.03 L231.0,376.00 L231.5,375.96 L232.0,375.93 L232.5,375.90 L233.0,375.86 L233.5,375.83 L234.0,375.80 L234.5,375.78 L235.0,375.75 L235.5,375.73 L236.0,375.70 L236.5,375.68 L237.0,375.67 L237.5,375.65 L238.0,375.64 L238.5,375.63 L239.0,375.62 L239.5,375.62 L240.0,375.62 L240.5,375.63 L241.0,375.64 L241.5,375.65 L242.0,375.67 L242.5,375.69 L243.0,375.71 L243.5,375.74 L244.0,375.77 L244.5,375.80 L245.0,375.84 L245.5,375.87 L246.0,375.91 L246.5,375.94 L247.0,375.98 L247.5,376.01 L248.0,376.05 L248.5,376.08 L249.0,376.11 L249.5,376.14 L250.0,376.16 L250.5,376.18 L251.0,376.20 L251.5,376.21 L252.0,376.22 L252.5,376.22 L253.0,376.22 L253.5,376.22 L254.0,376.21 L254.5,376.19 L255.0,376.17 L255.5,376.15 L256.0,376.12 L256.5,376.09 L257.0,376.05 L257.5,376.01 L258.0,375.97 L258.5,375.92 L259.0,375.87 L259.5,375.81 L260.0,375.76 L260.5,375.69 L261.0,375.63 L261.5,375.56 L262.0,375.48 L262.5,375.41 L263.0,375.32 L263.5,375.23 L264.0,375.13 L264.5,375.02 L265.0,374.88 L265.5,374.73 L266.0,374.55 L266.5,374.35 L267.0,374.11 L267.5,373.85 L268.0,373.55 L268.5,373.23 L269.0,372.88 L269.5,372.51 L270.0,372.12 L270.5,371.71 L271.0,371.28 L271.5,370.82 L272.0,370.35 L272.5,369.86 L273.0,369.33 L273.5,368.78 L274.0,368.19 L274.5,367.57 L275.0,366.91 L275.5,366.22 L276.0,365.51 L276.5,364.76 L277.0,363.99 L277.5,363.20 L278.0,362.38 L278.5,361.54 L279.0,360.68 L279.5,359.79 L280.0,358.87 L280.5,357.92 L281.0,356.95 L281.5,355.96 L282.0,354.95 L282.5,353.93 L283.0,352.90 L283.5,351.86 L284.0,350.82 L284.5,349.78 L285.0,348.74 L285.5,347.70 L286.0,346.66 L286.5,345.61 L287.0,344.57 L287.5,343.54 L288.0,342.51 L288.5,341.50 L289.0,340.51 L289.5,339.54 L290.0,338.60 L290.5,337.69 L291.0,336.81 L291.5,335.96 L292.0,335.13 L292.5,334.33 L293.0,333.56 L293.5,332.81 L294.0,332.09 L294.5,331.41 L295.0,330.77 L295.5,330.18 L296.0,329.64 L296.5,329.16 L297.0,328.72 L297.5,328.34 L298.0,327.99 L298.5,327.69 L299.0,327.41 L299.5,327.16 L300.0,326.93 L300.5,326.72 L301.0,326.53 L301.5,326.35 L302.0,326.20 L302.5,326.06 L303.0,325.95 L303.5,325.85 L304.0,325.78 L304.5,325.74 L305.0,325.71 L305.5,325.71 L306.0,325.72 L306.5,325.75 L307.0,325.80 L307.5,325.85 L308.0,325.92 L308.5,326.00 L309.0,326.09 L309.5,326.19 L310.0,326.29 L310.5,326.39 L311.0,326.50 L311.5,326.60 L312.0,326.71 L312.5,326.81 L313.0,326.91 L313.5,327.01 L314.0,327.10 L314.5,327.18 L315.0,327.25 L315.5,327.31 L316.0,327.36 L316.5,327.39 L317.0,327.41 L317.5,327.42 L318.0,327.42 L318.5,327.40 L319.0,327.37 L319.5,327.33 L320.0,327.27 L320.5,327.21 L321.0,327.14 L321.5,327.06 L322.0,326.98 L322.5,326.90 L323.0,326.81 L323.5,326.72 L324.0,326.63 L324.5,326.55 L325.0,326.46 L325.5,326.38 L326.0,326.30 L326.5,326.22 L327.0,326.14 L327.5,326.06 L328.0,325.98 L328.5,325.90 L329.0,325.82 L329.5,325.74 L330.0,325.66 L330.5,325.59 L331.0,325.51 L331.5,325.44 L332.0,325.37 L332.5,325.31 L333.0,325.25 L333.5,325.20 L334.0,325.15 L334.5,325.11 L335.0,325.08 L335.5,325.07 L336.0,325.06 L336.5,325.06 L337.0,325.07 L337.5,325.09 L338.0,325.13 L338.5,325.17 L339.0,325.22 L339.5,325.29 L340.0,325.36 L340.5,325.44 L341.0,325.53 L341.5,325.63 L342.0,325.74 L342.5,325.85 L343.0,325.98 L343.5,326.11 L344.0,326.25 L344.5,326.40 L345.0,326.57 L345.5,326.75 L346.0,326.96 L346.5,327.19 L347.0,327.46 L347.5,327.77 L348.0,328.11 L348.5,328.49 L349.0,328.91 L349.5,329.36 L350.0,329.85 L350.5,330.35 L351.0,330.88 L351.5,331.43 L352.0,332.00 L352.5,332.58 L353.0,333.19 L353.5,333.81 L354.0,334.45 L354.5,335.12 L355.0,335.81 L355.5,336.53 L356.0,337.26 L356.5,338.02 L357.0,338.80 L357.5,339.60 L358.0,340.42 L358.5,341.25 L359.0,342.10 L359.5,342.97 L360.0,343.85 L360.5,344.76 L361.0,345.69 L361.5,346.63 L362.0,347.60 L362.5,348.58 L363.0,349.56 L363.5,350.53 L364.0,351.47 L364.5,352.35 L365.0,353.16 L365.5,353.87 L365.6,354.47" fill="none" stroke="#ff7f0e" stroke-width="2.05" stroke-linejoin="round" stroke-linecap="butt"/>
<line x1="284.60" y1="383.00" x2="284.60" y2="322.25" stroke="#ff7f0e" stroke-width="1.90" stroke-dasharray="1.92 3.16"/>
<line x1="317.75" y1="383.00" x2="317.75" y2="322.25" stroke="#ff7f0e" stroke-width="1.90" stroke-dasharray="7.1 3.05"/>
<line x1="347.50" y1="383.00" x2="347.50" y2="322.25" stroke="#ff7f0e" stroke-width="1.90" stroke-dasharray="1.92 3.16"/>
</g>
<rect x="196.00" y="322.25" width="177.30" height="60.75" fill="none" stroke="#000" stroke-width="1.30"/>
<line x1="204.00" y1="383.00" x2="204.00" y2="388.00" stroke="#000" stroke-width="1.30"/>
<text x="204.00" y="403.10" font-size="12.9" text-anchor="middle">0.00</text>
<line x1="244.28" y1="383.00" x2="244.28" y2="388.00" stroke="#000" stroke-width="1.30"/>
<text x="244.28" y="403.10" font-size="12.9" text-anchor="middle">0.25</text>
<line x1="284.55" y1="383.00" x2="284.55" y2="388.00" stroke="#000" stroke-width="1.30"/>
<text x="284.55" y="403.10" font-size="12.9" text-anchor="middle">0.50</text>
<line x1="324.82" y1="383.00" x2="324.82" y2="388.00" stroke="#000" stroke-width="1.30"/>
<text x="324.82" y="403.10" font-size="12.9" text-anchor="middle">0.75</text>
<line x1="365.10" y1="383.00" x2="365.10" y2="388.00" stroke="#000" stroke-width="1.30"/>
<text x="365.10" y="403.10" font-size="12.9" text-anchor="middle">1.00</text>
<g transform="matrix(1.1435 0 0 1 -39.526 0)"><text x="271.50" y="419.90" font-size="14.2"><tspan font-style="italic">f</tspan><tspan font-size="10.2" dy="1.5" dx="1.6">flow</tspan></text></g>
<g clip-path="url(#c14)">
<path d="M396.9,359.45 L397.4,358.36 L397.9,357.28 L398.4,356.22 L398.9,355.19 L399.4,354.20 L399.9,353.24 L400.4,352.33 L400.9,351.46 L401.4,350.63 L401.9,349.85 L402.4,349.12 L402.9,348.42 L403.4,347.77 L403.9,347.14 L404.4,346.55 L404.9,345.99 L405.4,345.45 L405.9,344.93 L406.4,344.44 L406.9,343.96 L407.4,343.49 L407.9,343.05 L408.4,342.61 L408.9,342.19 L409.4,341.77 L409.9,341.37 L410.4,340.97 L410.9,340.58 L411.4,340.20 L411.9,339.82 L412.4,339.46 L412.9,339.10 L413.4,338.75 L413.9,338.41 L414.4,338.07 L414.9,337.75 L415.4,337.44 L415.9,337.14 L416.4,336.85 L416.9,336.57 L417.4,336.31 L417.9,336.06 L418.4,335.82 L418.9,335.59 L419.4,335.36 L419.9,335.15 L420.4,334.95 L420.9,334.76 L421.4,334.57 L421.9,334.39 L422.4,334.22 L422.9,334.05 L423.4,333.89 L423.9,333.74 L424.4,333.60 L424.9,333.46 L425.4,333.34 L425.9,333.22 L426.4,333.11 L426.9,333.00 L427.4,332.91 L427.9,332.81 L428.4,332.73 L428.9,332.65 L429.4,332.57 L429.9,332.49 L430.4,332.41 L430.9,332.34 L431.4,332.26 L431.9,332.18 L432.4,332.10 L432.9,332.02 L433.4,331.92 L433.9,331.83 L434.4,331.72 L434.9,331.61 L435.4,331.49 L435.9,331.36 L436.4,331.23 L436.9,331.10 L437.4,330.97 L437.9,330.83 L438.4,330.71 L438.9,330.59 L439.4,330.48 L439.9,330.38 L440.4,330.29 L440.9,330.22 L441.4,330.17 L441.9,330.15 L442.4,330.14 L442.9,330.16 L443.4,330.21 L443.9,330.29 L444.4,330.39 L444.9,330.51 L445.4,330.65 L445.9,330.81 L446.4,330.99 L446.9,331.18 L447.4,331.38 L447.9,331.59 L448.4,331.82 L448.9,332.07 L449.4,332.33 L449.9,332.60 L450.4,332.89 L450.9,333.19 L451.4,333.51 L451.9,333.82 L452.4,334.13 L452.9,334.43 L453.4,334.71 L453.9,334.98 L454.4,335.22 L454.9,335.44 L455.4,335.63 L455.9,335.81 L456.4,335.97 L456.9,336.12 L457.4,336.25 L457.9,336.37 L458.4,336.48 L458.9,336.57 L459.4,336.65 L459.9,336.70 L460.4,336.73 L460.9,336.73 L461.4,336.70 L461.9,336.63 L462.4,336.54 L462.9,336.40 L463.4,336.24 L463.9,336.06 L464.4,335.85 L464.9,335.63 L465.4,335.40 L465.9,335.16 L466.4,334.93 L466.9,334.70 L467.4,334.48 L467.9,334.26 L468.4,334.04 L468.9,333.82 L469.4,333.61 L469.9,333.40 L470.4,333.20 L470.9,333.00 L471.4,332.82 L471.9,332.64 L472.4,332.49 L472.9,332.35 L473.4,332.24 L473.9,332.15 L474.4,332.08 L474.9,332.04 L475.4,332.03 L475.9,332.04 L476.4,332.08 L476.9,332.13 L477.4,332.20 L477.9,332.28 L478.4,332.38 L478.9,332.50 L479.4,332.62 L479.9,332.76 L480.4,332.91 L480.9,333.08 L481.4,333.27 L481.9,333.48 L482.4,333.72 L482.9,333.98 L483.4,334.27 L483.9,334.59 L484.4,334.94 L484.9,335.31 L485.4,335.71 L485.9,336.14 L486.4,336.60 L486.9,337.08 L487.4,337.60 L487.9,338.16 L488.4,338.76 L488.9,339.40 L489.4,340.08 L489.9,340.79 L490.4,341.54 L490.9,342.32 L491.4,343.10 L491.9,343.90 L492.4,344.71 L492.9,345.51 L493.4,346.31 L493.9,347.10 L494.4,347.90 L494.9,348.68 L495.4,349.47 L495.9,350.25 L496.4,351.02 L496.9,351.78 L497.4,352.53 L497.9,353.27 L498.4,353.98 L498.9,354.67 L499.4,355.33 L499.9,355.97 L500.4,356.59 L500.9,357.17 L501.4,357.74 L501.9,358.28 L502.4,358.80 L502.9,359.32 L503.4,359.81 L503.9,360.30 L504.4,360.79 L504.9,361.27 L505.4,361.75 L505.9,362.23 L506.4,362.71 L506.9,363.20 L507.4,363.70 L507.9,364.20 L508.4,364.71 L508.9,365.22 L509.4,365.73 L509.9,366.23 L510.4,366.73 L510.9,367.21 L511.4,367.68 L511.9,368.12 L512.4,368.56 L512.9,368.97 L513.4,369.36 L513.9,369.74 L514.4,370.10 L514.9,370.46 L515.4,370.80 L515.9,371.13 L516.4,371.45 L516.9,371.77 L517.4,372.08 L517.9,372.38 L518.4,372.68 L518.9,372.97 L519.4,373.26 L519.9,373.54 L520.4,373.83 L520.9,374.11 L521.4,374.39 L521.9,374.68 L522.4,374.96 L522.9,375.25 L523.4,375.54 L523.9,375.83 L524.4,376.12 L524.9,376.41 L525.4,376.70 L525.9,376.99 L526.4,377.27 L526.9,377.54 L527.4,377.81 L527.9,378.06 L528.4,378.30 L528.9,378.52 L529.4,378.72 L529.9,378.91 L530.4,379.08 L530.9,379.23 L531.4,379.36 L531.9,379.49 L532.4,379.60 L532.9,379.70 L533.4,379.79 L533.9,379.87 L534.4,379.95 L534.9,380.01 L535.4,380.07 L535.9,380.12 L536.4,380.16 L536.9,380.19 L537.4,380.21 L537.9,380.23 L538.4,380.24 L538.9,380.24 L539.4,380.25 L539.9,380.25 L540.4,380.25 L540.9,380.25 L541.4,380.25 L541.9,380.25 L542.4,380.25 L542.9,380.25 L543.4,380.25 L543.9,380.25 L544.4,380.25 L544.9,380.25 L545.4,380.25 L545.9,380.25 L546.4,380.25 L546.9,380.25 L547.4,380.25 L547.9,380.25 L548.4,380.25 L548.9,380.25 L549.4,380.25 L549.9,380.25 L550.4,380.25 L550.9,380.25 L551.4,380.25 L551.9,380.25 L552.4,380.25 L552.9,380.25 L553.4,380.25 L553.9,380.25 L554.4,380.25 L554.9,380.25 L555.4,380.25 L555.9,380.25 L556.4,380.25 L556.9,380.25 L557.4,380.25 L557.9,380.25 L558.4,380.25 L558.8,380.25" fill="none" stroke="#1f77b4" stroke-width="2.05" stroke-linejoin="round" stroke-linecap="butt"/>
<line x1="418.40" y1="383.00" x2="418.40" y2="322.25" stroke="#1f77b4" stroke-width="1.90" stroke-dasharray="1.92 3.16"/>
<line x1="451.50" y1="383.00" x2="451.50" y2="322.25" stroke="#1f77b4" stroke-width="1.90" stroke-dasharray="7.1 3.05"/>
<line x1="486.60" y1="383.00" x2="486.60" y2="322.25" stroke="#1f77b4" stroke-width="1.90" stroke-dasharray="1.92 3.16"/>
<path d="M396.9,364.43 L397.4,363.81 L397.9,363.21 L398.4,362.62 L398.9,362.04 L399.4,361.47 L399.9,360.92 L400.4,360.38 L400.9,359.86 L401.4,359.36 L401.9,358.88 L402.4,358.42 L402.9,357.97 L403.4,357.55 L403.9,357.15 L404.4,356.76 L404.9,356.40 L405.4,356.05 L405.9,355.71 L406.4,355.39 L406.9,355.07 L407.4,354.77 L407.9,354.49 L408.4,354.21 L408.9,353.95 L409.4,353.71 L409.9,353.48 L410.4,353.27 L410.9,353.08 L411.4,352.90 L411.9,352.75 L412.4,352.62 L412.9,352.50 L413.4,352.39 L413.9,352.30 L414.4,352.22 L414.9,352.15 L415.4,352.08 L415.9,352.02 L416.4,351.96 L416.9,351.90 L417.4,351.84 L417.9,351.78 L418.4,351.71 L418.9,351.64 L419.4,351.57 L419.9,351.48 L420.4,351.40 L420.9,351.30 L421.4,351.20 L421.9,351.10 L422.4,350.98 L422.9,350.87 L423.4,350.74 L423.9,350.60 L424.4,350.46 L424.9,350.30 L425.4,350.14 L425.9,349.95 L426.4,349.75 L426.9,349.53 L427.4,349.29 L427.9,349.02 L428.4,348.71 L428.9,348.38 L429.4,348.00 L429.9,347.60 L430.4,347.16 L430.9,346.70 L431.4,346.21 L431.9,345.70 L432.4,345.17 L432.9,344.61 L433.4,344.04 L433.9,343.45 L434.4,342.83 L434.9,342.19 L435.4,341.52 L435.9,340.84 L436.4,340.13 L436.9,339.42 L437.4,338.70 L437.9,337.98 L438.4,337.27 L438.9,336.56 L439.4,335.87 L439.9,335.19 L440.4,334.52 L440.9,333.87 L441.4,333.23 L441.9,332.62 L442.4,332.03 L442.9,331.48 L443.4,330.97 L443.9,330.50 L444.4,330.09 L444.9,329.72 L445.4,329.39 L445.9,329.10 L446.4,328.85 L446.9,328.62 L447.4,328.42 L447.9,328.24 L448.4,328.09 L448.9,327.95 L449.4,327.84 L449.9,327.75 L450.4,327.69 L450.9,327.66 L451.4,327.65 L451.9,327.67 L452.4,327.71 L452.9,327.78 L453.4,327.87 L453.9,327.98 L454.4,328.10 L454.9,328.23 L455.4,328.37 L455.9,328.52 L456.4,328.68 L456.9,328.84 L457.4,329.01 L457.9,329.18 L458.4,329.35 L458.9,329.53 L459.4,329.70 L459.9,329.86 L460.4,330.01 L460.9,330.14 L461.4,330.23 L461.9,330.28 L462.4,330.28 L462.9,330.23 L463.4,330.13 L463.9,329.98 L464.4,329.79 L464.9,329.56 L465.4,329.30 L465.9,329.03 L466.4,328.76 L466.9,328.48 L467.4,328.21 L467.9,327.95 L468.4,327.69 L468.9,327.44 L469.4,327.19 L469.9,326.95 L470.4,326.72 L470.9,326.49 L471.4,326.28 L471.9,326.08 L472.4,325.90 L472.9,325.75 L473.4,325.62 L473.9,325.51 L474.4,325.43 L474.9,325.37 L475.4,325.34 L475.9,325.32 L476.4,325.31 L476.9,325.32 L477.4,325.33 L477.9,325.36 L478.4,325.39 L478.9,325.42 L479.4,325.47 L479.9,325.53 L480.4,325.60 L480.9,325.69 L481.4,325.82 L481.9,325.97 L482.4,326.16 L482.9,326.40 L483.4,326.67 L483.9,326.99 L484.4,327.34 L484.9,327.72 L485.4,328.14 L485.9,328.58 L486.4,329.04 L486.9,329.53 L487.4,330.05 L487.9,330.59 L488.4,331.17 L488.9,331.78 L489.4,332.42 L489.9,333.09 L490.4,333.79 L490.9,334.50 L491.4,335.23 L491.9,335.97 L492.4,336.71 L492.9,337.45 L493.4,338.19 L493.9,338.92 L494.4,339.64 L494.9,340.35 L495.4,341.06 L495.9,341.77 L496.4,342.48 L496.9,343.18 L497.4,343.88 L497.9,344.58 L498.4,345.28 L498.9,345.97 L499.4,346.67 L499.9,347.36 L500.4,348.06 L500.9,348.75 L501.4,349.44 L501.9,350.13 L502.4,350.83 L502.9,351.51 L503.4,352.20 L503.9,352.87 L504.4,353.54 L504.9,354.20 L505.4,354.85 L505.9,355.49 L506.4,356.11 L506.9,356.71 L507.4,357.31 L507.9,357.88 L508.4,358.45 L508.9,359.00 L509.4,359.54 L509.9,360.07 L510.4,360.58 L510.9,361.09 L511.4,361.59 L511.9,362.09 L512.4,362.57 L512.9,363.04 L513.4,363.51 L513.9,363.97 L514.4,364.42 L514.9,364.87 L515.4,365.31 L515.9,365.73 L516.4,366.16 L516.9,366.57 L517.4,366.98 L517.9,367.38 L518.4,367.78 L518.9,368.17 L519.4,368.56 L519.9,368.96 L520.4,369.35 L520.9,369.75 L521.4,370.15 L521.9,370.56 L522.4,370.98 L522.9,371.40 L523.4,371.84 L523.9,372.28 L524.4,372.72 L524.9,373.17 L525.4,373.61 L525.9,374.04 L526.4,374.45 L526.9,374.85 L527.4,375.23 L527.9,375.58 L528.4,375.91 L528.9,376.22 L529.4,376.51 L529.9,376.78 L530.4,377.04 L530.9,377.28 L531.4,377.51 L531.9,377.74 L532.4,377.95 L532.9,378.15 L533.4,378.34 L533.9,378.51 L534.4,378.68 L534.9,378.82 L535.4,378.95 L535.9,379.07 L536.4,379.17 L536.9,379.26 L537.4,379.33 L537.9,379.39 L538.4,379.45 L538.9,379.49 L539.4,379.54 L539.9,379.58 L540.4,379.61 L540.9,379.65 L541.4,379.68 L541.9,379.71 L542.4,379.74 L542.9,379.78 L543.4,379.80 L543.9,379.83 L544.4,379.86 L544.9,379.89 L545.4,379.91 L545.9,379.94 L546.4,379.96 L546.9,379.98 L547.4,380.01 L547.9,380.03 L548.4,380.05 L548.9,380.06 L549.4,380.08 L549.9,380.10 L550.4,380.12 L550.9,380.13 L551.4,380.15 L551.9,380.16 L552.4,380.17 L552.9,380.18 L553.4,380.19 L553.9,380.20 L554.4,380.21 L554.9,380.22 L555.4,380.22 L555.9,380.23 L556.4,380.24 L556.9,380.24 L557.4,380.24 L557.9,380.25 L558.4,380.25 L558.8,380.25" fill="none" stroke="#ff7f0e" stroke-width="2.05" stroke-linejoin="round" stroke-linecap="butt"/>
<line x1="426.25" y1="383.00" x2="426.25" y2="322.25" stroke="#ff7f0e" stroke-width="1.90" stroke-dasharray="1.92 3.16"/>
<line x1="462.10" y1="383.00" x2="462.10" y2="322.25" stroke="#ff7f0e" stroke-width="1.90" stroke-dasharray="7.1 3.05"/>
<line x1="493.40" y1="383.00" x2="493.40" y2="322.25" stroke="#ff7f0e" stroke-width="1.90" stroke-dasharray="1.92 3.16"/>
</g>
<rect x="389.00" y="322.25" width="177.60" height="60.75" fill="none" stroke="#000" stroke-width="1.30"/>
<line x1="396.90" y1="383.00" x2="396.90" y2="388.00" stroke="#000" stroke-width="1.30"/>
<text x="396.90" y="403.10" font-size="12.9" text-anchor="middle">0</text>
<line x1="432.75" y1="383.00" x2="432.75" y2="388.00" stroke="#000" stroke-width="1.30"/>
<text x="432.75" y="403.10" font-size="12.9" text-anchor="middle">20</text>
<line x1="468.60" y1="383.00" x2="468.60" y2="388.00" stroke="#000" stroke-width="1.30"/>
<text x="468.60" y="403.10" font-size="12.9" text-anchor="middle">40</text>
<line x1="504.45" y1="383.00" x2="504.45" y2="388.00" stroke="#000" stroke-width="1.30"/>
<text x="504.45" y="403.10" font-size="12.9" text-anchor="middle">60</text>
<line x1="540.30" y1="383.00" x2="540.30" y2="388.00" stroke="#000" stroke-width="1.30"/>
<text x="540.30" y="403.10" font-size="12.9" text-anchor="middle">80</text>
<g transform="matrix(1.0714 0 0 1 -32.600 0)"><text x="439.90" y="420.90" font-size="14.2"><tspan font-style="italic">θ</tspan><tspan font-size="10.2" dy="2.2" dx="0.6" font-style="italic">e</tspan><tspan dy="-2.2" dx="6.5">(degrees)</tspan></text></g>
<g clip-path="url(#c15)">
<path d="M589.4,380.25 L589.9,380.25 L590.4,380.25 L590.9,380.25 L591.4,380.25 L591.9,380.25 L592.4,380.25 L592.9,380.25 L593.4,380.25 L593.9,380.25 L594.4,380.25 L594.9,380.25 L595.4,380.25 L595.9,380.25 L596.4,380.25 L596.9,380.25 L597.4,380.25 L597.9,380.25 L598.4,380.25 L598.9,380.25 L599.4,380.25 L599.9,380.25 L600.4,380.25 L600.9,380.24 L601.4,380.24 L601.9,380.23 L602.4,380.21 L602.9,380.20 L603.4,380.18 L603.9,380.15 L604.4,380.13 L604.9,380.10 L605.4,380.06 L605.9,380.01 L606.4,379.93 L606.9,379.79 L607.4,379.58 L607.9,379.29 L608.4,378.94 L608.9,378.53 L609.4,378.03 L609.9,377.41 L610.4,376.61 L610.9,375.54 L611.4,374.04 L611.9,371.94 L612.4,369.25 L612.9,366.11 L613.4,362.61 L613.9,358.76 L614.4,354.68 L614.9,350.59 L615.4,346.72 L615.9,343.18 L616.4,339.96 L616.9,337.04 L617.4,334.43 L617.9,332.13 L618.4,330.12 L618.9,328.45 L619.4,327.16 L619.9,326.22 L620.4,325.61 L620.9,325.35 L621.4,325.50 L621.9,326.05 L622.4,326.95 L622.9,328.21 L623.4,329.84 L623.9,331.74 L624.4,333.80 L624.9,335.97 L625.4,338.22 L625.9,340.51 L626.4,342.75 L626.9,344.89 L627.4,346.91 L627.9,348.82 L628.4,350.66 L628.9,352.45 L629.4,354.19 L629.9,355.90 L630.4,357.60 L630.9,359.28 L631.4,360.93 L631.9,362.52 L632.4,364.01 L632.9,365.40 L633.4,366.68 L633.9,367.88 L634.4,369.00 L634.9,370.04 L635.4,371.01 L635.9,371.89 L636.4,372.69 L636.9,373.45 L637.4,374.16 L637.9,374.82 L638.4,375.43 L638.9,375.96 L639.4,376.42 L639.9,376.79 L640.4,377.10 L640.9,377.36 L641.4,377.61 L641.9,377.84 L642.4,378.06 L642.9,378.26 L643.4,378.45 L643.9,378.62 L644.4,378.78 L644.9,378.92 L645.4,379.04 L645.9,379.15 L646.4,379.24 L646.9,379.32 L647.4,379.38 L647.9,379.43 L648.4,379.48 L648.9,379.53 L649.4,379.57 L649.9,379.61 L650.4,379.65 L650.9,379.69 L651.4,379.73 L651.9,379.77 L652.4,379.80 L652.9,379.83 L653.4,379.87 L653.9,379.90 L654.4,379.93 L654.9,379.96 L655.4,379.99 L655.9,380.01 L656.4,380.04 L656.9,380.06 L657.4,380.08 L657.9,380.10 L658.4,380.12 L658.9,380.14 L659.4,380.16 L659.9,380.17 L660.4,380.19 L660.9,380.20 L661.4,380.21 L661.9,380.22 L662.4,380.23 L662.9,380.24 L663.4,380.24 L663.9,380.25 L664.4,380.25 L664.9,380.25 L665.4,380.25 L665.9,380.25 L666.4,380.25 L666.9,380.25 L667.4,380.25 L667.9,380.25 L668.4,380.25 L668.9,380.25 L669.4,380.25 L669.9,380.25 L670.4,380.25 L670.9,380.25 L671.4,380.25 L671.9,380.25 L672.4,380.25 L672.9,380.25 L673.4,380.25 L673.9,380.25 L674.4,380.25 L674.9,380.25 L675.4,380.25 L675.9,380.25 L676.4,380.25 L676.9,380.25 L677.4,380.25 L677.9,380.25 L678.4,380.25 L678.9,380.25 L679.4,380.25 L679.9,380.25 L680.4,380.25 L680.9,380.25 L681.4,380.25 L681.9,380.25 L682.4,380.25 L682.9,380.25 L683.4,380.25 L683.9,380.25 L684.4,380.25 L684.9,380.25 L685.4,380.25 L685.9,380.25 L686.4,380.25 L686.9,380.25 L687.4,380.25 L687.9,380.25 L688.4,380.25 L688.9,380.25 L689.4,380.25 L689.9,380.25 L690.4,380.25 L690.9,380.25 L691.4,380.25 L691.9,380.25 L692.4,380.25 L692.9,380.25 L693.4,380.25 L693.9,380.25 L694.4,380.25 L694.9,380.25 L695.4,380.25 L695.9,380.25 L696.4,380.25 L696.9,380.25 L697.4,380.25 L697.9,380.25 L698.4,380.25 L698.9,380.25 L699.4,380.25 L699.9,380.25 L700.4,380.25 L700.9,380.25 L701.4,380.25 L701.9,380.25 L702.4,380.25 L702.9,380.25 L703.4,380.25 L703.9,380.25 L704.4,380.25 L704.9,380.25 L705.4,380.25 L705.9,380.25 L706.4,380.25 L706.9,380.25 L707.4,380.25 L707.9,380.25 L708.4,380.25 L708.9,380.25 L709.4,380.25 L709.9,380.25 L710.4,380.25 L710.9,380.25 L711.4,380.25 L711.9,380.25 L712.4,380.25 L712.9,380.25 L713.4,380.25 L713.9,380.25 L714.4,380.25 L714.9,380.25 L715.4,380.25 L715.9,380.25 L716.4,380.25 L716.9,380.25 L717.4,380.25 L717.9,380.25 L718.4,380.25 L718.9,380.25 L719.4,380.25 L719.9,380.25 L720.4,380.25 L720.9,380.25 L721.4,380.25 L721.9,380.25 L722.4,380.25 L722.9,380.25 L723.4,380.25 L723.9,380.25 L724.4,380.25 L724.9,380.25 L725.4,380.25 L725.9,380.25 L726.4,380.25 L726.9,380.25 L727.4,380.25 L727.9,380.25 L728.4,380.25 L728.9,380.25 L729.4,380.25 L729.9,380.25 L730.4,380.25 L730.9,380.25 L731.4,380.25 L731.9,380.25 L732.4,380.25 L732.9,380.25 L733.4,380.25 L733.9,380.25 L734.4,380.25 L734.9,380.25 L735.4,380.25 L735.9,380.25 L736.4,380.25 L736.9,380.25 L737.4,380.25 L737.9,380.25 L738.4,380.25 L738.9,380.25 L739.4,380.25 L739.9,380.25 L740.4,380.25 L740.9,380.25 L741.4,380.25 L741.9,380.25 L742.4,380.25 L742.9,380.25 L743.4,380.25 L743.9,380.25 L744.4,380.25 L744.9,380.25 L745.4,380.25 L745.9,380.25 L746.4,380.25 L746.9,380.25 L747.4,380.25 L747.9,380.25 L748.4,380.25 L748.9,380.25 L749.4,380.25 L749.9,380.25 L750.4,380.25 L750.9,380.25 L751.2,380.25" fill="none" stroke="#1f77b4" stroke-width="2.05" stroke-linejoin="round" stroke-linecap="butt"/>
<line x1="617.50" y1="383.00" x2="617.50" y2="322.25" stroke="#1f77b4" stroke-width="1.90" stroke-dasharray="1.92 3.16"/>
<line x1="623.10" y1="383.00" x2="623.10" y2="322.25" stroke="#1f77b4" stroke-width="1.90" stroke-dasharray="7.1 3.05"/>
<line x1="631.00" y1="383.00" x2="631.00" y2="322.25" stroke="#1f77b4" stroke-width="1.90" stroke-dasharray="1.92 3.16"/>
<path d="M589.4,380.25 L589.9,380.25 L590.4,380.25 L590.9,380.24 L591.4,380.23 L591.9,380.23 L592.4,380.22 L592.9,380.20 L593.4,380.19 L593.9,380.17 L594.4,380.16 L594.9,380.14 L595.4,380.11 L595.9,380.09 L596.4,380.06 L596.9,380.03 L597.4,380.00 L597.9,379.97 L598.4,379.93 L598.9,379.90 L599.4,379.86 L599.9,379.81 L600.4,379.77 L600.9,379.72 L601.4,379.67 L601.9,379.62 L602.4,379.56 L602.9,379.50 L603.4,379.43 L603.9,379.34 L604.4,379.20 L604.9,379.01 L605.4,378.74 L605.9,378.41 L606.4,378.02 L606.9,377.57 L607.4,377.07 L607.9,376.51 L608.4,375.86 L608.9,375.05 L609.4,374.00 L609.9,372.71 L610.4,371.26 L610.9,369.70 L611.4,368.06 L611.9,366.33 L612.4,364.54 L612.9,362.71 L613.4,360.85 L613.9,358.95 L614.4,357.02 L614.9,355.07 L615.4,353.16 L615.9,351.30 L616.4,349.49 L616.9,347.72 L617.4,345.98 L617.9,344.31 L618.4,342.75 L618.9,341.35 L619.4,340.11 L619.9,339.04 L620.4,338.10 L620.9,337.32 L621.4,336.71 L621.9,336.25 L622.4,335.93 L622.9,335.77 L623.4,335.78 L623.9,335.99 L624.4,336.38 L624.9,337.02 L625.4,337.95 L625.9,339.12 L626.4,340.40 L626.9,341.74 L627.4,343.12 L627.9,344.55 L628.4,346.02 L628.9,347.51 L629.4,349.02 L629.9,350.56 L630.4,352.14 L630.9,353.74 L631.4,355.35 L631.9,356.92 L632.4,358.44 L632.9,359.89 L633.4,361.26 L633.9,362.56 L634.4,363.81 L634.9,365.01 L635.4,366.15 L635.9,367.24 L636.4,368.30 L636.9,369.34 L637.4,370.35 L637.9,371.34 L638.4,372.25 L638.9,373.07 L639.4,373.77 L639.9,374.33 L640.4,374.78 L640.9,375.16 L641.4,375.51 L641.9,375.84 L642.4,376.14 L642.9,376.43 L643.4,376.69 L643.9,376.93 L644.4,377.15 L644.9,377.35 L645.4,377.53 L645.9,377.69 L646.4,377.83 L646.9,377.96 L647.4,378.07 L647.9,378.17 L648.4,378.27 L648.9,378.36 L649.4,378.45 L649.9,378.53 L650.4,378.61 L650.9,378.69 L651.4,378.77 L651.9,378.85 L652.4,378.92 L652.9,378.99 L653.4,379.06 L653.9,379.12 L654.4,379.19 L654.9,379.25 L655.4,379.31 L655.9,379.36 L656.4,379.42 L656.9,379.47 L657.4,379.52 L657.9,379.56 L658.4,379.61 L658.9,379.65 L659.4,379.69 L659.9,379.73 L660.4,379.76 L660.9,379.80 L661.4,379.83 L661.9,379.86 L662.4,379.89 L662.9,379.91 L663.4,379.94 L663.9,379.96 L664.4,379.98 L664.9,380.00 L665.4,380.01 L665.9,380.03 L666.4,380.04 L666.9,380.06 L667.4,380.07 L667.9,380.09 L668.4,380.10 L668.9,380.12 L669.4,380.13 L669.9,380.14 L670.4,380.16 L670.9,380.17 L671.4,380.18 L671.9,380.19 L672.4,380.20 L672.9,380.21 L673.4,380.22 L673.9,380.22 L674.4,380.23 L674.9,380.24 L675.4,380.24 L675.9,380.24 L676.4,380.25 L676.9,380.25 L677.4,380.25 L677.9,380.24 L678.4,380.23 L678.9,380.21 L679.4,380.18 L679.9,380.15 L680.4,380.11 L680.9,380.06 L681.4,380.01 L681.9,379.96 L682.4,379.91 L682.9,379.85 L683.4,379.79 L683.9,379.74 L684.4,379.68 L684.9,379.63 L685.4,379.58 L685.9,379.54 L686.4,379.50 L686.9,379.47 L687.4,379.44 L687.9,379.42 L688.4,379.41 L688.9,379.41 L689.4,379.43 L689.9,379.47 L690.4,379.51 L690.9,379.58 L691.4,379.65 L691.9,379.73 L692.4,379.81 L692.9,379.89 L693.4,379.97 L693.9,380.05 L694.4,380.11 L694.9,380.17 L695.4,380.21 L695.9,380.23 L696.4,380.24 L696.9,380.25 L697.4,380.25 L697.9,380.25 L698.4,380.25 L698.9,380.25 L699.4,380.25 L699.9,380.25 L700.4,380.25 L700.9,380.25 L701.4,380.25 L701.9,380.25 L702.4,380.25 L702.9,380.25 L703.4,380.25 L703.9,380.25 L704.4,380.25 L704.9,380.25 L705.4,380.25 L705.9,380.25 L706.4,380.25 L706.9,380.25 L707.4,380.25 L707.9,380.25 L708.4,380.25 L708.9,380.25 L709.4,380.25 L709.9,380.25 L710.4,380.25 L710.9,380.25 L711.4,380.25 L711.9,380.25 L712.4,380.25 L712.9,380.25 L713.4,380.25 L713.9,380.25 L714.4,380.25 L714.9,380.25 L715.4,380.24 L715.9,380.22 L716.4,380.19 L716.9,380.15 L717.4,380.10 L717.9,380.04 L718.4,379.97 L718.9,379.90 L719.4,379.82 L719.9,379.74 L720.4,379.66 L720.9,379.58 L721.4,379.50 L721.9,379.42 L722.4,379.34 L722.9,379.27 L723.4,379.21 L723.9,379.15 L724.4,379.10 L724.9,379.06 L725.4,379.03 L725.9,379.01 L726.4,379.02 L726.9,379.03 L727.4,379.07 L727.9,379.13 L728.4,379.20 L728.9,379.28 L729.4,379.37 L729.9,379.47 L730.4,379.58 L730.9,379.68 L731.4,379.79 L731.9,379.89 L732.4,379.98 L732.9,380.06 L733.4,380.13 L733.9,380.18 L734.4,380.22 L734.9,380.24 L735.4,380.25 L735.9,380.25 L736.4,380.25 L736.9,380.25 L737.4,380.25 L737.9,380.25 L738.4,380.25 L738.9,380.25 L739.4,380.25 L739.9,380.25 L740.4,380.25 L740.9,380.25 L741.4,380.25 L741.9,380.25 L742.4,380.25 L742.9,380.25 L743.4,380.25 L743.9,380.25 L744.4,380.25 L744.9,380.25 L745.4,380.25 L745.9,380.25 L746.4,380.25 L746.9,380.25 L747.4,380.25 L747.9,380.25 L748.4,380.25 L748.9,380.25 L749.4,380.25 L749.9,380.25 L750.4,380.25 L750.9,380.25 L751.2,380.25" fill="none" stroke="#ff7f0e" stroke-width="2.05" stroke-linejoin="round" stroke-linecap="butt"/>
<line x1="616.90" y1="383.00" x2="616.90" y2="322.25" stroke="#ff7f0e" stroke-width="1.90" stroke-dasharray="1.92 3.16"/>
<line x1="624.60" y1="383.00" x2="624.60" y2="322.25" stroke="#ff7f0e" stroke-width="1.90" stroke-dasharray="7.1 3.05"/>
<line x1="634.60" y1="383.00" x2="634.60" y2="322.25" stroke="#ff7f0e" stroke-width="1.90" stroke-dasharray="1.92 3.16"/>
</g>
<rect x="582.20" y="322.25" width="177.00" height="60.75" fill="none" stroke="#000" stroke-width="1.30"/>
<line x1="610.60" y1="383.00" x2="610.60" y2="388.00" stroke="#000" stroke-width="1.30"/>
<text x="610.60" y="403.10" font-size="12.9" text-anchor="middle">0</text>
<line x1="661.55" y1="383.00" x2="661.55" y2="388.00" stroke="#000" stroke-width="1.30"/>
<text x="661.55" y="403.10" font-size="12.9" text-anchor="middle">100</text>
<line x1="712.50" y1="383.00" x2="712.50" y2="388.00" stroke="#000" stroke-width="1.30"/>
<text x="712.50" y="403.10" font-size="12.9" text-anchor="middle">200</text>
<g transform="matrix(1.1317 0 0 1 -82.917 0)"><text x="624.40" y="421.00" font-size="14.2"><tspan font-style="italic">σ</tspan><tspan font-size="10.2" dy="2.2" dx="0.6" font-style="italic">r</tspan><tspan dy="-2.2" dx="6.5">(light days)</tspan></text></g>
</svg></body></html>
